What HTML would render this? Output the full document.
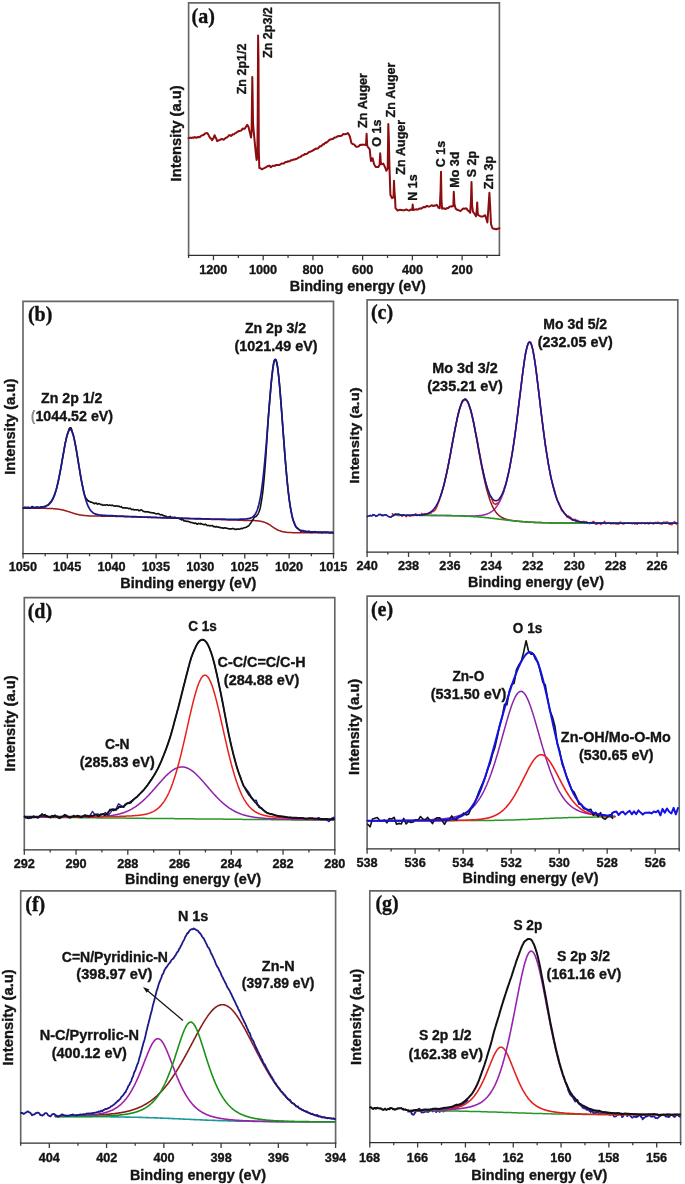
<!DOCTYPE html>
<html><head><meta charset="utf-8"><style>
html,body{margin:0;padding:0;background:#fff;}
svg{display:block;will-change:transform;}
text{font-kerning:none;stroke:#141414;stroke-width:0.35px;paint-order:stroke;}
</style></head><body>
<svg width="685" height="1184" viewBox="0 0 685 1184">
<rect width="685" height="1184" fill="#fff"/>
<path d="M188.60 255.30 V2.80 H499.40 V255.30" fill="none" stroke="#666" stroke-width="1.65" stroke-linejoin="miter"/>
<path d="M187.80 255.30 H500.20" fill="none" stroke="#2e2e2e" stroke-width="1.25"/>
<path d="M213.46 255.30 V260.20 M263.19 255.30 V260.20 M312.92 255.30 V260.20 M362.65 255.30 V260.20 M412.38 255.30 V260.20 M462.10 255.30 V260.20 M188.60 255.30 V257.90 M238.33 255.30 V257.90 M288.06 255.30 V257.90 M337.78 255.30 V257.90 M387.51 255.30 V257.90 M437.24 255.30 V257.90 M486.97 255.30 V257.90 " stroke="#3c3c3c" stroke-width="1.3" fill="none"/>
<text x="199.20" y="273.80" font-family="Liberation Sans" font-weight="bold" font-size="12.70" textLength="28.25" lengthAdjust="spacingAndGlyphs" fill="#141414" >1200</text>
<text x="248.93" y="273.80" font-family="Liberation Sans" font-weight="bold" font-size="12.70" textLength="28.25" lengthAdjust="spacingAndGlyphs" fill="#141414" >1000</text>
<text x="302.38" y="273.80" font-family="Liberation Sans" font-weight="bold" font-size="12.70" textLength="21.19" lengthAdjust="spacingAndGlyphs" fill="#141414" >800</text>
<text x="352.08" y="273.80" font-family="Liberation Sans" font-weight="bold" font-size="12.70" textLength="21.19" lengthAdjust="spacingAndGlyphs" fill="#141414" >600</text>
<text x="401.95" y="273.80" font-family="Liberation Sans" font-weight="bold" font-size="12.70" textLength="21.19" lengthAdjust="spacingAndGlyphs" fill="#141414" >400</text>
<text x="451.55" y="273.80" font-family="Liberation Sans" font-weight="bold" font-size="12.70" textLength="21.19" lengthAdjust="spacingAndGlyphs" fill="#141414" >200</text>
<text x="289.77" y="291.20" font-family="Liberation Sans" font-weight="bold" font-size="14.40" textLength="136.01" lengthAdjust="spacingAndGlyphs" fill="#141414" >Binding energy (eV)</text>
<text transform="translate(181.30,180.44) rotate(-90)" x="-0.99" y="0" font-family="Liberation Sans" font-weight="bold" font-size="14.80" textLength="96.21" lengthAdjust="spacingAndGlyphs" fill="#141414">Intensity (a.u)</text>
<text x="191.54" y="22.71" font-family="Liberation Serif" font-weight="bold" font-size="20.00" textLength="23.32" lengthAdjust="spacingAndGlyphs" fill="#111" >(a)</text>
<path d="M188.6 138.1L189.5 138.0L190.4 137.6L191.2 137.9L192.1 137.7L193.0 137.6L193.8 137.7L194.7 137.1L195.5 137.3L196.3 137.8L197.2 137.3L198.0 137.0L198.9 137.2L199.7 137.1L200.6 136.4L201.4 135.6L202.3 135.3L203.1 135.2L204.0 134.6L205.0 133.5L206.0 133.3L207.0 133.1L208.0 134.0L209.0 135.9L210.0 137.7L211.1 138.6L212.1 140.2L213.4 138.3L214.6 135.2L215.5 137.2L216.3 138.7L217.2 141.1L218.1 140.6L219.1 140.2L220.0 139.9L220.9 139.2L221.8 139.1L222.7 139.3L223.6 139.7L224.5 138.9L225.3 138.2L226.1 137.8L226.9 137.4L227.7 136.8L228.6 135.8L229.4 135.1L230.2 135.3L231.0 135.9L231.8 135.4L232.6 134.3L233.4 134.4L234.2 134.2L235.0 133.3L235.9 132.9L236.7 132.4L237.5 131.9L238.3 131.2L239.1 131.0L239.9 130.9L240.8 130.6L241.6 130.1L242.4 128.9L243.2 128.5L244.1 129.0L244.9 128.5L246.1 126.5L247.2 124.9L248.5 126.9L249.3 130.4L250.2 134.0L251.0 137.6L251.6 132.0L252.0 100.0L252.3 77.0L252.7 100.0L253.0 122.0L253.4 128.0L255.0 145.0L255.8 152.8L256.6 160.0L257.3 158.0L257.7 120.0L258.1 35.5L258.5 60.0L258.8 150.0L259.3 168.0L260.2 168.0L261.1 168.7L262.0 169.3L262.8 168.9L263.6 168.4L264.4 168.1L265.2 167.7L266.0 167.2L267.1 166.5L268.3 166.0L269.5 165.6L270.8 167.3L271.6 166.5L272.4 166.0L273.2 165.7L274.0 165.7L274.8 165.9L275.6 165.2L276.5 165.0L277.3 165.0L278.2 164.9L279.0 164.9L279.9 164.7L280.7 164.2L281.6 163.5L282.4 163.4L283.3 163.5L284.1 163.3L285.0 162.4L285.8 162.0L286.6 162.1L287.4 161.6L288.2 161.2L289.1 161.4L289.9 161.2L290.7 160.3L291.5 160.2L292.3 160.2L293.1 159.7L293.9 159.6L294.7 159.5L295.5 159.1L296.4 158.9L297.2 158.6L298.0 157.9L298.8 157.4L299.6 157.2L300.4 156.9L301.2 156.4L302.0 155.4L302.8 155.3L303.7 155.1L304.5 154.1L305.3 154.2L306.1 154.1L306.9 153.7L307.7 153.3L308.5 152.5L309.3 151.9L310.1 151.7L311.0 151.5L311.8 151.0L312.6 150.6L313.4 150.0L314.2 149.7L315.0 149.1L315.8 148.5L316.6 148.7L317.4 148.5L318.3 148.2L319.1 147.0L319.9 146.2L320.7 146.4L321.5 146.0L322.3 144.9L323.1 144.2L323.9 144.4L324.7 143.4L325.6 142.5L326.4 142.7L327.2 141.9L328.0 141.2L328.8 140.6L329.6 139.8L330.4 139.5L331.2 139.3L332.0 139.1L332.9 138.9L333.7 138.2L334.5 137.5L335.3 137.6L336.1 137.4L336.9 136.6L337.7 136.3L338.5 136.3L339.3 136.0L340.2 136.0L341.0 135.9L341.8 135.6L342.6 134.6L343.4 134.0L344.3 134.3L345.2 134.2L346.0 134.0L346.9 133.8L347.8 133.0L349.0 134.6L350.0 137.0L351.4 142.9L352.5 144.0L353.6 144.3L354.5 144.7L355.5 146.2L356.4 146.8L357.3 146.8L358.1 146.5L359.0 146.1L359.9 145.0L360.7 144.8L361.5 144.9L362.4 144.6L363.3 144.8L364.2 144.7L365.1 144.7L366.0 145.0L366.6 133.7L367.2 145.8L368.0 147.1L368.9 148.2L369.7 149.4L370.6 158.0L371.1 161.1L372.6 158.2L374.0 164.1L374.8 165.4L375.6 166.9L376.5 167.1L377.3 167.0L378.2 167.1L379.6 165.0L380.2 153.3L380.8 162.0L381.4 164.2L382.4 164.1L383.3 163.6L384.3 165.6L385.4 168.2L386.4 170.8L387.7 168.5L388.3 124.0L388.9 140.0L389.4 165.4L390.4 195.0L391.2 196.5L392.0 198.1L393.5 197.1L394.0 180.7L394.5 192.0L395.0 197.1L395.5 208.3L396.6 209.4L397.6 210.6L398.4 210.2L399.2 209.9L400.1 209.8L400.9 210.1L401.7 210.0L402.5 210.2L403.3 210.2L404.2 210.3L405.0 210.1L405.8 209.5L406.7 209.6L407.6 210.1L408.5 210.4L409.5 210.4L410.4 209.7L411.3 209.5L412.2 209.9L412.7 204.6L413.2 209.9L414.1 209.7L415.0 209.5L415.8 209.4L416.7 209.3L417.6 209.4L418.5 209.3L419.3 208.6L420.2 208.4L421.1 208.7L421.9 208.2L422.7 207.6L423.5 207.0L424.3 207.1L425.1 207.4L426.0 206.4L426.8 205.9L427.6 206.2L428.4 206.6L429.2 206.5L430.0 206.2L430.8 205.8L431.6 205.2L432.5 205.6L433.3 206.0L434.1 205.6L435.0 205.7L435.8 205.3L436.6 204.7L437.6 206.3L438.7 207.9L439.7 208.2L440.6 190.0L441.0 171.7L441.5 200.0L442.1 208.7L443.2 208.2L444.2 208.4L445.3 209.0L446.1 208.7L447.0 208.1L447.9 208.3L448.7 207.7L449.5 206.7L450.4 206.6L451.4 206.3L452.3 206.4L453.3 206.0L453.8 191.8L454.4 204.0L455.5 208.3L456.6 209.5L457.6 209.8L458.6 210.2L459.7 210.8L460.7 210.9L461.7 209.9L462.7 208.8L463.7 208.6L464.7 208.8L465.8 208.3L466.8 208.6L467.6 210.2L468.5 210.9L469.4 211.6L470.2 212.8L471.0 200.0L471.5 182.1L472.1 205.0L472.9 211.7L473.9 213.0L475.0 214.5L476.0 216.3L476.8 210.0L477.2 202.4L477.7 213.0L478.3 215.2L479.2 215.6L480.2 216.1L481.1 216.5L481.9 216.4L482.7 216.4L483.6 216.3L484.4 215.5L485.2 215.3L486.3 218.7L487.4 222.5L488.6 205.0L489.4 192.8L490.1 205.0L491.0 224.0L492.3 228.0L493.3 228.7L494.4 228.7L495.4 229.1L496.2 229.4L497.0 229.0L497.8 228.7L498.6 228.6L499.4 228.2" fill="none" stroke="#8c0c10" stroke-width="2.0" stroke-linejoin="round" stroke-linecap="round" />
<text transform="translate(245.50,93.92) rotate(-90)" x="-0.37" y="0" font-family="Liberation Sans" font-weight="bold" font-size="12.50" textLength="50.71" lengthAdjust="spacingAndGlyphs" fill="#141414">Zn 2p1/2</text>
<text transform="translate(272.20,57.52) rotate(-90)" x="-0.37" y="0" font-family="Liberation Sans" font-weight="bold" font-size="12.50" textLength="50.71" lengthAdjust="spacingAndGlyphs" fill="#141414">Zn 2p3/2</text>
<text transform="translate(366.50,127.60) rotate(-90)" x="-0.37" y="0" font-family="Liberation Sans" font-weight="bold" font-size="12.50" textLength="54.86" lengthAdjust="spacingAndGlyphs" fill="#141414">Zn Auger</text>
<text transform="translate(380.70,146.19) rotate(-90)" x="-0.51" y="0" font-family="Liberation Sans" font-weight="bold" font-size="12.50" textLength="27.10" lengthAdjust="spacingAndGlyphs" fill="#141414">O 1s</text>
<text transform="translate(394.50,117.10) rotate(-90)" x="-0.37" y="0" font-family="Liberation Sans" font-weight="bold" font-size="12.50" textLength="54.86" lengthAdjust="spacingAndGlyphs" fill="#141414">Zn Auger</text>
<text transform="translate(405.00,174.40) rotate(-90)" x="-0.37" y="0" font-family="Liberation Sans" font-weight="bold" font-size="12.50" textLength="54.86" lengthAdjust="spacingAndGlyphs" fill="#141414">Zn Auger</text>
<text transform="translate(417.20,199.88) rotate(-90)" x="-0.84" y="0" font-family="Liberation Sans" font-weight="bold" font-size="12.50" textLength="26.40" lengthAdjust="spacingAndGlyphs" fill="#141414">N 1s</text>
<text transform="translate(444.70,166.69) rotate(-90)" x="-0.51" y="0" font-family="Liberation Sans" font-weight="bold" font-size="12.50" textLength="26.40" lengthAdjust="spacingAndGlyphs" fill="#141414">C 1s</text>
<text transform="translate(459.40,186.82) rotate(-90)" x="-0.84" y="0" font-family="Liberation Sans" font-weight="bold" font-size="12.50" textLength="36.11" lengthAdjust="spacingAndGlyphs" fill="#141414">Mo 3d</text>
<text transform="translate(475.60,177.01) rotate(-90)" x="-0.36" y="0" font-family="Liberation Sans" font-weight="bold" font-size="12.50" textLength="26.40" lengthAdjust="spacingAndGlyphs" fill="#141414">S 2p</text>
<text transform="translate(492.50,188.87) rotate(-90)" x="-0.37" y="0" font-family="Liberation Sans" font-weight="bold" font-size="12.50" textLength="33.33" lengthAdjust="spacingAndGlyphs" fill="#141414">Zn 3p</text>
<path d="M23.00 553.70 V301.30 H333.50 V553.70" fill="none" stroke="#666" stroke-width="1.65" stroke-linejoin="miter"/>
<path d="M22.20 553.70 H334.30" fill="none" stroke="#2e2e2e" stroke-width="1.25"/>
<path d="M23.00 553.70 V558.60 M67.36 553.70 V558.60 M111.71 553.70 V558.60 M156.07 553.70 V558.60 M200.43 553.70 V558.60 M244.79 553.70 V558.60 M289.14 553.70 V558.60 M333.50 553.70 V558.60 M45.18 553.70 V556.30 M89.54 553.70 V556.30 M133.89 553.70 V556.30 M178.25 553.70 V556.30 M222.61 553.70 V556.30 M266.96 553.70 V556.30 M311.32 553.70 V556.30 " stroke="#3c3c3c" stroke-width="1.3" fill="none"/>
<text x="8.73" y="571.40" font-family="Liberation Sans" font-weight="bold" font-size="12.70" textLength="28.25" lengthAdjust="spacingAndGlyphs" fill="#141414" >1050</text>
<text x="53.01" y="571.40" font-family="Liberation Sans" font-weight="bold" font-size="12.70" textLength="28.25" lengthAdjust="spacingAndGlyphs" fill="#141414" >1045</text>
<text x="97.45" y="571.40" font-family="Liberation Sans" font-weight="bold" font-size="12.70" textLength="28.25" lengthAdjust="spacingAndGlyphs" fill="#141414" >1040</text>
<text x="141.72" y="571.40" font-family="Liberation Sans" font-weight="bold" font-size="12.70" textLength="28.25" lengthAdjust="spacingAndGlyphs" fill="#141414" >1035</text>
<text x="186.16" y="571.40" font-family="Liberation Sans" font-weight="bold" font-size="12.70" textLength="28.25" lengthAdjust="spacingAndGlyphs" fill="#141414" >1030</text>
<text x="230.44" y="571.40" font-family="Liberation Sans" font-weight="bold" font-size="12.70" textLength="28.25" lengthAdjust="spacingAndGlyphs" fill="#141414" >1025</text>
<text x="274.88" y="571.40" font-family="Liberation Sans" font-weight="bold" font-size="12.70" textLength="28.25" lengthAdjust="spacingAndGlyphs" fill="#141414" >1020</text>
<text x="319.15" y="571.40" font-family="Liberation Sans" font-weight="bold" font-size="12.70" textLength="28.25" lengthAdjust="spacingAndGlyphs" fill="#141414" >1015</text>
<text x="120.37" y="588.20" font-family="Liberation Sans" font-weight="bold" font-size="14.40" textLength="136.01" lengthAdjust="spacingAndGlyphs" fill="#141414" >Binding energy (eV)</text>
<text transform="translate(15.10,473.84) rotate(-90)" x="-0.99" y="0" font-family="Liberation Sans" font-weight="bold" font-size="14.80" textLength="96.21" lengthAdjust="spacingAndGlyphs" fill="#141414">Intensity (a.u)</text>
<text x="27.93" y="321.06" font-family="Liberation Serif" font-weight="bold" font-size="20.00" textLength="24.44" lengthAdjust="spacingAndGlyphs" fill="#111" >(b)</text>
<path d="M23.3 508.2L23.8 508.2L24.3 508.2L24.8 508.2L25.3 508.2L25.8 508.2L26.3 508.2L26.8 508.2L27.3 508.2L27.8 508.2L28.3 508.2L28.8 508.2L29.3 508.2L29.8 508.2L30.3 508.2L30.8 508.2L31.3 508.2L31.8 508.2L32.3 508.2L32.8 508.2L33.3 508.2L33.8 508.2L34.3 508.2L34.8 508.2L35.3 508.2L35.8 508.2L36.3 508.2L36.8 508.2L37.3 508.2L37.8 508.2L38.3 508.2L38.8 508.2L39.3 508.2L39.8 508.3L40.3 508.3L40.8 508.3L41.3 508.3L41.8 508.3L42.3 508.3L42.8 508.3L43.3 508.3L43.8 508.3L44.3 508.3L44.8 508.3L45.3 508.3L45.8 508.3L46.3 508.3L46.8 508.4L47.3 508.4L47.8 508.4L48.3 508.4L48.8 508.4L49.3 508.4L49.8 508.5L50.3 508.5L50.8 508.5L51.3 508.5L51.8 508.6L52.3 508.6L52.8 508.6L53.3 508.7L53.8 508.7L54.3 508.7L54.8 508.8L55.3 508.8L55.8 508.9L56.3 508.9L56.8 509.0L57.3 509.0L57.8 509.1L58.3 509.2L58.8 509.2L59.3 509.3L59.8 509.4L60.3 509.5L60.8 509.6L61.3 509.7L61.8 509.8L62.3 509.9L62.8 510.0L63.3 510.1L63.8 510.2L64.3 510.4L64.8 510.5L65.3 510.7L65.8 510.8L66.3 510.9L66.8 511.1L67.3 511.3L67.8 511.4L68.3 511.6L68.8 511.7L69.3 511.9L69.8 512.1L70.3 512.2L70.8 512.4L71.3 512.6L71.8 512.7L72.3 512.9L72.8 513.1L73.3 513.2L73.8 513.4L74.3 513.5L74.8 513.7L75.3 513.8L75.8 513.9L76.3 514.1L76.8 514.2L77.3 514.3L77.8 514.4L78.3 514.6L78.8 514.7L79.3 514.8L79.8 514.9L80.3 514.9L80.8 515.0L81.3 515.1L81.8 515.2L82.3 515.3L82.8 515.3L83.3 515.4L83.8 515.4L84.3 515.5L84.8 515.6L85.3 515.6L85.8 515.6L86.3 515.7L86.8 515.7L87.3 515.8L87.8 515.8L88.3 515.8L88.8 515.9L89.3 515.9L89.8 515.9L90.3 515.9L90.8 515.9L91.3 516.0L91.8 516.0L92.3 516.0L92.8 516.0L93.3 516.0L93.8 516.0L94.3 516.1L94.8 516.1L95.3 516.1L95.8 516.1L96.3 516.1L96.8 516.1L97.3 516.1L97.8 516.1L98.3 516.1L98.8 516.1L99.3 516.1L99.8 516.1L100.3 516.1L100.8 516.2L101.3 516.2L101.8 516.2L102.3 516.2L102.8 516.2L103.3 516.2L103.8 516.2L104.3 516.2L104.8 516.2L105.3 516.2L105.8 516.2L106.3 516.2L106.8 516.2L107.3 516.2L107.8 516.2L108.3 516.2L108.8 516.2L109.3 516.2L109.8 516.2L110.3 516.2L110.8 516.2L111.3 516.2L111.8 516.2L112.3 516.3L112.8 516.3L113.3 516.3L113.8 516.3L114.3 516.3L114.8 516.3L115.3 516.4L115.8 516.4L116.3 516.4L116.8 516.4L117.3 516.4L117.8 516.4L118.3 516.5L118.8 516.5L119.3 516.5L119.8 516.5L120.3 516.5L120.8 516.5L121.3 516.5L121.8 516.6L122.3 516.6L122.8 516.6L123.3 516.6L123.8 516.6L124.3 516.6L124.8 516.7L125.3 516.7L125.8 516.7L126.3 516.7L126.8 516.7L127.3 516.7L127.8 516.8L128.3 516.8L128.8 516.8L129.3 516.8L129.8 516.8L130.3 516.8L130.8 516.8L131.3 516.9L131.8 516.9L132.3 516.9L132.8 516.9L133.3 516.9L133.8 516.9L134.3 517.0L134.8 517.0L135.3 517.0L135.8 517.0L136.3 517.0L136.8 517.0L137.3 517.0L137.8 517.1L138.3 517.1L138.8 517.1L139.3 517.1L139.8 517.1L140.3 517.1L140.8 517.2L141.3 517.2L141.8 517.2L142.3 517.2L142.8 517.2L143.3 517.2L143.8 517.3L144.3 517.3L144.8 517.3L145.3 517.3L145.8 517.3L146.3 517.3L146.8 517.3L147.3 517.4L147.8 517.4L148.3 517.4L148.8 517.4L149.3 517.4L149.8 517.4L150.3 517.5L150.8 517.5L151.3 517.5L151.8 517.5L152.3 517.5L152.8 517.5L153.3 517.5L153.8 517.6L154.3 517.6L154.8 517.6L155.3 517.6L155.8 517.6L156.3 517.6L156.8 517.7L157.3 517.7L157.8 517.7L158.3 517.7L158.8 517.7L159.3 517.7L159.8 517.7L160.3 517.8L160.8 517.8L161.3 517.8L161.8 517.8L162.3 517.8L162.8 517.8L163.3 517.9L163.8 517.9L164.3 517.9L164.8 517.9L165.3 517.9L165.8 517.9L166.3 518.0L166.8 518.0L167.3 518.0L167.8 518.0L168.3 518.0L168.8 518.0L169.3 518.0L169.8 518.1L170.3 518.1L170.8 518.1L171.3 518.1L171.8 518.1L172.3 518.1L172.8 518.2L173.3 518.2L173.8 518.2L174.3 518.2L174.8 518.2L175.3 518.2L175.8 518.2L176.3 518.3L176.8 518.3L177.3 518.3L177.8 518.3L178.3 518.3L178.8 518.3L179.3 518.4L179.8 518.4L180.3 518.4L180.8 518.4L181.3 518.4L181.8 518.4L182.3 518.4L182.8 518.5L183.3 518.5L183.8 518.5L184.3 518.5L184.8 518.5L185.3 518.5L185.8 518.6L186.3 518.6L186.8 518.6L187.3 518.6L187.8 518.6L188.3 518.6L188.8 518.7L189.3 518.7L189.8 518.7L190.3 518.7L190.8 518.7L191.3 518.7L191.8 518.7L192.3 518.8L192.8 518.8L193.3 518.8L193.8 518.8L194.3 518.8L194.8 518.8L195.3 518.9L195.8 518.9L196.3 518.9L196.8 518.9L197.3 518.9L197.8 518.9L198.3 518.9L198.8 519.0L199.3 519.0L199.8 519.0L200.3 519.0L200.8 519.0L201.3 519.0L201.8 519.1L202.3 519.1L202.8 519.1L203.3 519.1L203.8 519.1L204.3 519.1L204.8 519.1L205.3 519.2L205.8 519.2L206.3 519.2L206.8 519.2L207.3 519.2L207.8 519.2L208.3 519.3L208.8 519.3L209.3 519.3L209.8 519.3L210.3 519.3L210.8 519.3L211.3 519.4L211.8 519.4L212.3 519.4L212.8 519.4L213.3 519.4L213.8 519.4L214.3 519.4L214.8 519.5L215.3 519.5L215.8 519.5L216.3 519.5L216.8 519.5L217.3 519.5L217.8 519.6L218.3 519.6L218.8 519.6L219.3 519.6L219.8 519.6L220.3 519.6L220.8 519.6L221.3 519.7L221.8 519.7L222.3 519.7L222.8 519.7L223.3 519.7L223.8 519.7L224.3 519.8L224.8 519.8L225.3 519.8L225.8 519.8L226.3 519.8L226.8 519.8L227.3 519.8L227.8 519.9L228.3 519.9L228.8 519.9L229.3 519.9L229.8 519.9L230.3 519.9L230.8 520.0L231.3 520.0L231.8 520.0L232.3 520.0L232.8 520.0L233.3 520.0L233.8 520.1L234.3 520.1L234.8 520.1L235.3 520.1L235.8 520.1L236.3 520.1L236.8 520.1L237.3 520.2L237.8 520.2L238.3 520.2L238.8 520.2L239.3 520.2L239.8 520.2L240.3 520.3L240.8 520.3L241.3 520.3L241.8 520.3L242.3 520.3L242.8 520.3L243.3 520.4L243.8 520.4L244.3 520.4L244.8 520.4L245.3 520.4L245.8 520.4L246.3 520.4L246.8 520.4L247.3 520.4L247.8 520.5L248.3 520.5L248.8 520.5L249.3 520.5L249.8 520.5L250.3 520.5L250.8 520.5L251.3 520.5L251.8 520.5L252.3 520.5L252.8 520.6L253.3 520.6L253.8 520.6L254.3 520.6L254.8 520.6L255.3 520.7L255.8 520.7L256.3 520.7L256.8 520.8L257.3 520.8L257.8 520.9L258.3 520.9L258.8 521.0L259.3 521.1L259.8 521.1L260.3 521.2L260.8 521.3L261.3 521.4L261.8 521.5L262.3 521.6L262.8 521.7L263.3 521.9L263.8 522.0L264.3 522.2L264.8 522.4L265.3 522.6L265.8 522.8L266.3 523.0L266.8 523.2L267.3 523.5L267.8 523.7L268.3 524.0L268.8 524.3L269.3 524.6L269.8 524.9L270.3 525.2L270.8 525.6L271.3 525.9L271.8 526.3L272.3 526.6L272.8 526.9L273.3 527.3L273.8 527.6L274.3 528.0L274.8 528.3L275.3 528.6L275.8 528.9L276.3 529.2L276.8 529.5L277.3 529.7L277.8 530.0L278.3 530.2L278.8 530.4L279.3 530.6L279.8 530.8L280.3 531.0L280.8 531.2L281.3 531.3L281.8 531.5L282.3 531.6L282.8 531.7L283.3 531.8L283.8 531.9L284.3 532.0L284.8 532.1L285.3 532.1L285.8 532.2L286.3 532.3L286.8 532.3L287.3 532.4L287.8 532.4L288.3 532.5L288.8 532.5L289.3 532.5L289.8 532.6L290.3 532.6L290.8 532.6L291.3 532.6L291.8 532.6L292.3 532.7L292.8 532.7L293.3 532.7L293.8 532.7L294.3 532.7L294.8 532.7L295.3 532.7L295.8 532.7L296.3 532.7L296.8 532.7L297.3 532.8L297.8 532.8L298.3 532.8L298.8 532.8L299.3 532.8L299.8 532.8L300.3 532.8L300.8 532.8L301.3 532.8L301.8 532.8L302.3 532.8L302.8 532.8L303.3 532.8L303.8 532.8L304.3 532.8L304.8 532.8L305.3 532.8L305.8 532.8L306.3 532.8L306.8 532.8L307.3 532.8L307.8 532.8L308.3 532.8L308.8 532.8L309.3 532.8L309.8 532.8L310.3 532.8L310.8 532.8L311.3 532.8L311.8 532.8L312.3 532.8L312.8 532.8L313.3 532.8L313.8 532.8L314.3 532.8L314.8 532.8L315.3 532.8L315.8 532.8L316.3 532.8L316.8 532.8L317.3 532.8L317.8 532.8L318.3 532.8L318.8 532.8L319.3 532.8L319.8 532.8L320.3 532.8L320.8 532.8L321.3 532.8L321.8 532.8L322.3 532.8L322.8 532.8L323.3 532.8L323.8 532.8L324.3 532.8L324.8 532.8L325.3 532.8L325.8 532.8L326.3 532.8L326.8 532.8L327.3 532.8L327.8 532.8L328.3 532.8L328.8 532.8L329.3 532.8L329.8 532.8L330.3 532.8L330.8 532.8L331.3 532.8L331.8 532.8L332.3 532.8L332.8 532.8" fill="none" stroke="#9a1a1a" stroke-width="1.5" stroke-linejoin="round" stroke-linecap="round" />
<path d="M23.3 507.9L23.8 507.8L24.3 507.4L24.8 507.4L25.3 507.2L25.8 507.6L26.3 507.8L26.8 508.1L27.3 507.8L27.8 507.2L28.3 507.4L28.8 507.6L29.3 508.0L29.8 507.9L30.3 507.9L30.8 507.7L31.3 507.4L31.8 506.8L32.3 506.6L32.8 506.7L33.3 507.2L33.8 507.6L34.3 507.5L34.8 507.6L35.3 507.6L35.8 507.5L36.3 507.4L36.8 506.9L37.3 507.2L37.8 507.3L38.3 507.6L38.8 507.7L39.3 507.9L39.8 507.7L40.3 507.5L40.8 507.0L41.3 507.1L41.8 506.9L42.3 506.8L42.8 506.9L43.3 506.7L43.8 507.0L44.3 506.5L44.8 506.7L45.3 506.7L45.8 506.4L46.3 505.8L46.8 505.3L47.3 505.3L47.8 505.3L48.3 504.8L48.8 504.4L49.3 503.5L49.8 503.0L50.3 502.1L50.8 502.0L51.3 501.3L51.8 500.6L52.3 499.6L52.8 498.5L53.3 497.7L53.8 496.4L54.3 495.4L54.8 493.8L55.3 492.6L55.8 491.0L56.3 489.5L56.8 487.5L57.3 485.4L57.8 483.3L58.3 481.0L58.8 478.8L59.3 476.2L59.8 473.5L60.3 470.9L60.8 468.7L61.3 465.8L61.8 462.9L62.3 459.6L62.8 457.0L63.3 454.2L63.8 451.6L64.3 448.2L64.8 445.4L65.3 442.5L65.8 440.6L66.3 438.3L66.8 436.3L67.3 434.6L67.8 433.4L68.3 431.5L68.8 429.9L69.3 428.4L69.8 428.0L70.3 427.7L70.8 427.8L71.3 428.5L71.8 430.0L72.3 432.0L72.8 433.8L73.3 435.3L73.8 437.1L74.3 439.3L74.8 441.9L75.3 444.5L75.8 447.1L76.3 449.9L76.8 452.6L77.3 455.8L77.8 459.1L78.3 462.2L78.8 465.2L79.3 467.8L79.8 471.3L80.3 474.3L80.8 477.3L81.3 480.1L81.8 482.6L82.3 485.1L82.8 487.3L83.3 489.7L83.8 492.0L84.3 494.2L84.8 495.6L85.3 496.8L85.8 498.0L86.3 498.9L86.8 499.2L87.3 499.8L87.8 500.6L88.3 501.2L88.8 501.1L89.3 501.2L89.8 501.8L90.3 501.9L90.8 502.2L91.3 502.0L91.8 502.4L92.3 502.6L92.8 502.6L93.3 503.0L93.8 503.3L94.3 503.7L94.8 503.6L95.3 503.2L95.8 503.0L96.3 503.0L96.8 503.7L97.3 503.9L97.8 504.2L98.3 503.7L98.8 503.6L99.3 503.8L99.8 503.9L100.3 504.5L100.8 504.5L101.3 504.6L101.8 504.4L102.3 504.9L102.8 505.3L103.3 505.2L103.8 505.0L104.3 504.9L104.8 505.1L105.3 505.2L105.8 505.0L106.3 504.7L106.8 504.7L107.3 504.7L107.8 505.3L108.3 505.3L108.8 505.4L109.3 505.1L109.8 505.1L110.3 505.3L110.8 505.5L111.3 505.4L111.8 505.2L112.3 505.1L112.8 505.4L113.3 505.8L113.8 505.9L114.3 506.0L114.8 506.2L115.3 506.0L115.8 506.1L116.3 505.9L116.8 505.9L117.3 506.1L117.8 506.4L118.3 506.4L118.8 506.1L119.3 506.2L119.8 506.8L120.3 507.0L120.8 507.0L121.3 506.6L121.8 507.2L122.3 507.4L122.8 508.0L123.3 507.7L123.8 507.9L124.3 507.9L124.8 507.8L125.3 507.9L125.8 507.9L126.3 508.2L126.8 508.1L127.3 508.0L127.8 508.0L128.3 508.5L128.8 508.7L129.3 508.5L129.8 508.4L130.3 508.3L130.8 508.9L131.3 509.2L131.8 509.6L132.3 509.4L132.8 509.2L133.3 509.3L133.8 509.7L134.3 510.0L134.8 509.8L135.3 509.8L135.8 509.7L136.3 510.0L136.8 509.7L137.3 509.7L137.8 509.8L138.3 510.1L138.8 510.7L139.3 510.6L139.8 510.7L140.3 510.2L140.8 510.0L141.3 509.8L141.8 510.1L142.3 510.4L142.8 511.0L143.3 511.3L143.8 511.5L144.3 511.7L144.8 511.6L145.3 511.9L145.8 511.7L146.3 511.9L146.8 511.6L147.3 511.9L147.8 511.7L148.3 512.0L148.8 512.1L149.3 512.3L149.8 512.4L150.3 512.5L150.8 512.7L151.3 512.6L151.8 512.7L152.3 512.7L152.8 512.9L153.3 513.0L153.8 512.8L154.3 513.3L154.8 513.3L155.3 513.6L155.8 513.7L156.3 513.8L156.8 514.0L157.3 513.7L157.8 513.8L158.3 513.5L158.8 513.8L159.3 514.2L159.8 514.6L160.3 514.9L160.8 514.7L161.3 514.6L161.8 514.5L162.3 514.9L162.8 515.3L163.3 515.5L163.8 515.7L164.3 515.8L164.8 515.9L165.3 516.2L165.8 516.3L166.3 516.4L166.8 516.7L167.3 516.9L167.8 517.1L168.3 516.9L168.8 517.3L169.3 516.9L169.8 516.9L170.3 516.4L170.8 517.2L171.3 517.6L171.8 517.8L172.3 517.3L172.8 517.4L173.3 517.5L173.8 517.7L174.3 517.4L174.8 517.2L175.3 517.4L175.8 517.8L176.3 518.1L176.8 518.1L177.3 517.9L177.8 518.0L178.3 518.0L178.8 518.4L179.3 518.7L179.8 519.0L180.3 519.0L180.8 519.3L181.3 519.7L181.8 520.0L182.3 519.5L182.8 519.6L183.3 520.0L183.8 521.0L184.3 521.0L184.8 520.9L185.3 520.8L185.8 521.2L186.3 521.2L186.8 521.4L187.3 521.2L187.8 521.5L188.3 521.4L188.8 521.7L189.3 521.7L189.8 522.0L190.3 522.2L190.8 522.6L191.3 522.4L191.8 522.6L192.3 522.5L192.8 522.9L193.3 523.1L193.8 523.1L194.3 523.5L194.8 523.2L195.3 523.1L195.8 523.1L196.3 523.7L196.8 524.1L197.3 524.1L197.8 523.7L198.3 523.5L198.8 523.4L199.3 523.8L199.8 523.8L200.3 523.9L200.8 523.3L201.3 523.8L201.8 524.1L202.3 524.3L202.8 524.3L203.3 524.5L203.8 524.8L204.3 524.7L204.8 524.4L205.3 524.1L205.8 524.6L206.3 524.7L206.8 525.4L207.3 525.5L207.8 525.6L208.3 525.4L208.8 525.5L209.3 525.7L209.8 525.9L210.3 525.6L210.8 525.8L211.3 525.7L211.8 525.7L212.3 525.5L212.8 525.8L213.3 526.7L213.8 526.8L214.3 526.6L214.8 526.6L215.3 526.8L215.8 527.1L216.3 526.6L216.8 526.5L217.3 526.9L217.8 527.1L218.3 527.3L218.8 527.0L219.3 527.4L219.8 527.5L220.3 527.8L220.8 527.6L221.3 527.9L221.8 527.7L222.3 527.8L222.8 528.1L223.3 528.4L223.8 528.1L224.3 527.7L224.8 527.8L225.3 528.0L225.8 528.3L226.3 528.3L226.8 528.1L227.3 528.4L227.8 528.5L228.3 528.8L228.8 528.7L229.3 528.9L229.8 529.0L230.3 528.8L230.8 528.9L231.3 528.9L231.8 529.0L232.3 528.5L232.8 528.6L233.3 528.6L233.8 528.8L234.3 528.9L234.8 529.2L235.3 529.5L235.8 529.4L236.3 529.4L236.8 529.1L237.3 528.9L237.8 529.1L238.3 529.1L238.8 529.1L239.3 529.1L239.8 529.0L240.3 529.0L240.8 528.5L241.3 528.4L241.8 528.5L242.3 528.7L242.8 528.4L243.3 528.1L243.8 527.9L244.3 527.8L244.8 527.8L245.3 527.6L245.8 527.3L246.3 527.2L246.8 527.0L247.3 526.6L247.8 526.3L248.3 526.0L248.8 525.8L249.3 525.1L249.8 524.4L250.3 523.5L250.8 523.1L251.3 522.0L251.8 521.4L252.3 520.4L252.8 520.0L253.3 519.1L253.8 518.0L254.3 517.2L254.8 516.8L255.3 516.7L255.8 516.6L256.3 516.2L256.8 515.6L257.3 514.9L257.8 514.5L258.3 513.5L258.8 512.3L259.3 511.0L259.8 509.6L260.3 507.5L260.8 504.9L261.3 502.0L261.8 498.9L262.3 495.5L262.8 492.0L263.3 487.1L263.8 481.9L264.3 476.4L264.8 470.6L265.3 463.9L265.8 456.9L266.3 449.5L266.8 441.8L267.3 433.5L267.8 425.0L268.3 417.9L268.8 411.4L269.3 405.6L269.8 399.7L270.3 393.9L270.8 387.9L271.3 382.3L271.8 377.3L272.3 373.1L272.8 368.8L273.3 365.3L273.8 362.1L274.3 360.6L274.8 359.6L275.3 359.5L275.8 359.6L276.3 360.7L276.8 362.6L277.3 365.3L277.8 368.6L278.3 373.0L278.8 377.7L279.3 382.8L279.8 388.0L280.3 394.1L280.8 400.6L281.3 407.2L281.8 413.8L282.3 420.8L282.8 427.4L283.3 434.0L283.8 440.1L284.3 447.1L284.8 453.6L285.3 460.0L285.8 465.8L286.3 471.8L286.8 477.3L287.3 482.5L287.8 487.5L288.3 491.8L288.8 495.9L289.3 500.0L289.8 503.7L290.3 507.0L290.8 509.4L291.3 512.0L291.8 514.7L292.3 517.1L292.8 519.1L293.3 520.6L293.8 521.7L294.3 522.9L294.8 524.4L295.3 525.9L295.8 526.7L296.3 527.3L296.8 527.7L297.3 528.3L297.8 528.4L298.3 528.8L298.8 529.2L299.3 529.7L299.8 530.2L300.3 530.7L300.8 531.2L301.3 531.1L301.8 530.8L302.3 530.6L302.8 530.6L303.3 530.8L303.8 531.1L304.3 531.4L304.8 531.5L305.3 531.5L305.8 531.5L306.3 531.3L306.8 531.7L307.3 531.9L307.8 531.9L308.3 531.5L308.8 531.2L309.3 531.4L309.8 531.9L310.3 532.2L310.8 532.4L311.3 532.4L311.8 532.4L312.3 532.4L312.8 532.3L313.3 532.1L313.8 531.7L314.3 531.6L314.8 532.0L315.3 532.2L315.8 532.1L316.3 532.0L316.8 532.1L317.3 532.2L317.8 532.3L318.3 532.4L318.8 532.7L319.3 532.3L319.8 532.3L320.3 532.2L320.8 532.5L321.3 532.6L321.8 532.8L322.3 532.7L322.8 532.6L323.3 532.2L323.8 532.3L324.3 532.3L324.8 532.4L325.3 532.2L325.8 532.1L326.3 531.9L326.8 532.1L327.3 532.2L327.8 532.3L328.3 532.2L328.8 532.4L329.3 532.7L329.8 532.9L330.3 532.7L330.8 532.5L331.3 532.2L331.8 532.4L332.3 532.9L332.8 532.9" fill="none" stroke="#111111" stroke-width="1.6" stroke-linejoin="round" stroke-linecap="round" />
<path d="M23.3 507.8L23.8 507.8L24.3 507.8L24.8 507.8L25.3 507.7L25.8 507.7L26.3 507.7L26.8 507.7L27.3 507.7L27.8 507.7L28.3 507.7L28.8 507.7L29.3 507.7L29.8 507.7L30.3 507.6L30.8 507.6L31.3 507.6L31.8 507.6L32.3 507.6L32.8 507.6L33.3 507.6L33.8 507.5L34.3 507.5L34.8 507.5L35.3 507.5L35.8 507.5L36.3 507.5L36.8 507.4L37.3 507.4L37.8 507.4L38.3 507.4L38.8 507.3L39.3 507.3L39.8 507.3L40.3 507.2L40.8 507.2L41.3 507.1L41.8 507.1L42.3 507.0L42.8 506.9L43.3 506.8L43.8 506.7L44.3 506.6L44.8 506.5L45.3 506.3L45.8 506.2L46.3 506.0L46.8 505.7L47.3 505.5L47.8 505.2L48.3 504.9L48.8 504.5L49.3 504.0L49.8 503.5L50.3 503.0L50.8 502.4L51.3 501.7L51.8 500.9L52.3 500.0L52.8 499.1L53.3 498.0L53.8 496.8L54.3 495.6L54.8 494.2L55.3 492.6L55.8 491.0L56.3 489.3L56.8 487.4L57.3 485.4L57.8 483.2L58.3 481.0L58.8 478.6L59.3 476.2L59.8 473.6L60.3 470.9L60.8 468.2L61.3 465.4L61.8 462.6L62.3 459.7L62.8 456.9L63.3 454.0L63.8 451.2L64.3 448.5L64.8 445.8L65.3 443.3L65.8 440.9L66.3 438.6L66.8 436.6L67.3 434.8L67.8 433.2L68.3 431.9L68.8 430.8L69.3 430.1L69.8 429.6L70.3 429.5L70.8 429.7L71.3 430.2L71.8 431.1L72.3 432.2L72.8 433.6L73.3 435.3L73.8 437.3L74.3 439.4L74.8 441.8L75.3 444.4L75.8 447.1L76.3 449.9L76.8 452.9L77.3 455.9L77.8 458.9L78.3 462.0L78.8 465.1L79.3 468.1L79.8 471.2L80.3 474.1L80.8 477.0L81.3 479.8L81.8 482.5L82.3 485.1L82.8 487.6L83.3 490.0L83.8 492.2L84.3 494.3L84.8 496.3L85.3 498.1L85.8 499.8L86.3 501.4L86.8 502.8L87.3 504.1L87.8 505.4L88.3 506.5L88.8 507.5L89.3 508.4L89.8 509.2L90.3 509.9L90.8 510.6L91.3 511.2L91.8 511.7L92.3 512.1L92.8 512.5L93.3 512.9L93.8 513.2L94.3 513.5L94.8 513.7L95.3 513.9L95.8 514.1L96.3 514.3L96.8 514.4L97.3 514.6L97.8 514.7L98.3 514.8L98.8 514.8L99.3 514.9L99.8 515.0L100.3 515.0L100.8 515.1L101.3 515.1L101.8 515.2L102.3 515.2L102.8 515.3L103.3 515.3L103.8 515.3L104.3 515.4L104.8 515.4L105.3 515.4L105.8 515.4L106.3 515.5L106.8 515.5L107.3 515.5L107.8 515.5L108.3 515.5L108.8 515.5L109.3 515.6L109.8 515.6L110.3 515.6L110.8 515.6L111.3 515.7L111.8 515.7L112.3 515.7L112.8 515.7L113.3 515.8L113.8 515.8L114.3 515.8L114.8 515.8L115.3 515.9L115.8 515.9L116.3 515.9L116.8 515.9L117.3 516.0L117.8 516.0L118.3 516.0L118.8 516.0L119.3 516.1L119.8 516.1L120.3 516.1L120.8 516.1L121.3 516.1L121.8 516.2L122.3 516.2L122.8 516.2L123.3 516.2L123.8 516.3L124.3 516.3L124.8 516.3L125.3 516.3L125.8 516.3L126.3 516.4L126.8 516.4L127.3 516.4L127.8 516.4L128.3 516.4L128.8 516.5L129.3 516.5L129.8 516.5L130.3 516.5L130.8 516.5L131.3 516.6L131.8 516.6L132.3 516.6L132.8 516.6L133.3 516.6L133.8 516.6L134.3 516.7L134.8 516.7L135.3 516.7L135.8 516.7L136.3 516.7L136.8 516.8L137.3 516.8L137.8 516.8L138.3 516.8L138.8 516.8L139.3 516.8L139.8 516.9L140.3 516.9L140.8 516.9L141.3 516.9L141.8 516.9L142.3 517.0L142.8 517.0L143.3 517.0L143.8 517.0L144.3 517.0L144.8 517.0L145.3 517.1L145.8 517.1L146.3 517.1L146.8 517.1L147.3 517.1L147.8 517.1L148.3 517.2L148.8 517.2L149.3 517.2L149.8 517.2L150.3 517.2L150.8 517.2L151.3 517.3L151.8 517.3L152.3 517.3L152.8 517.3L153.3 517.3L153.8 517.3L154.3 517.4L154.8 517.4L155.3 517.4L155.8 517.4L156.3 517.4L156.8 517.4L157.3 517.5L157.8 517.5L158.3 517.5L158.8 517.5L159.3 517.5L159.8 517.5L160.3 517.6L160.8 517.6L161.3 517.6L161.8 517.6L162.3 517.6L162.8 517.6L163.3 517.6L163.8 517.7L164.3 517.7L164.8 517.7L165.3 517.7L165.8 517.7L166.3 517.7L166.8 517.8L167.3 517.8L167.8 517.8L168.3 517.8L168.8 517.8L169.3 517.8L169.8 517.9L170.3 517.9L170.8 517.9L171.3 517.9L171.8 517.9L172.3 517.9L172.8 517.9L173.3 518.0L173.8 518.0L174.3 518.0L174.8 518.0L175.3 518.0L175.8 518.0L176.3 518.0L176.8 518.1L177.3 518.1L177.8 518.1L178.3 518.1L178.8 518.1L179.3 518.1L179.8 518.2L180.3 518.2L180.8 518.2L181.3 518.2L181.8 518.2L182.3 518.2L182.8 518.2L183.3 518.3L183.8 518.3L184.3 518.3L184.8 518.3L185.3 518.3L185.8 518.3L186.3 518.3L186.8 518.4L187.3 518.4L187.8 518.4L188.3 518.4L188.8 518.4L189.3 518.4L189.8 518.4L190.3 518.5L190.8 518.5L191.3 518.5L191.8 518.5L192.3 518.5L192.8 518.5L193.3 518.5L193.8 518.6L194.3 518.6L194.8 518.6L195.3 518.6L195.8 518.6L196.3 518.6L196.8 518.6L197.3 518.6L197.8 518.7L198.3 518.7L198.8 518.7L199.3 518.7L199.8 518.7L200.3 518.7L200.8 518.7L201.3 518.8L201.8 518.8L202.3 518.8L202.8 518.8L203.3 518.8L203.8 518.8L204.3 518.8L204.8 518.8L205.3 518.9L205.8 518.9L206.3 518.9L206.8 518.9L207.3 518.9L207.8 518.9L208.3 518.9L208.8 518.9L209.3 518.9L209.8 519.0L210.3 519.0L210.8 519.0L211.3 519.0L211.8 519.0L212.3 519.0L212.8 519.0L213.3 519.0L213.8 519.0L214.3 519.1L214.8 519.1L215.3 519.1L215.8 519.1L216.3 519.1L216.8 519.1L217.3 519.1L217.8 519.1L218.3 519.1L218.8 519.1L219.3 519.2L219.8 519.2L220.3 519.2L220.8 519.2L221.3 519.2L221.8 519.2L222.3 519.2L222.8 519.2L223.3 519.2L223.8 519.2L224.3 519.2L224.8 519.2L225.3 519.2L225.8 519.3L226.3 519.3L226.8 519.3L227.3 519.3L227.8 519.3L228.3 519.3L228.8 519.3L229.3 519.3L229.8 519.3L230.3 519.3L230.8 519.3L231.3 519.3L231.8 519.3L232.3 519.3L232.8 519.3L233.3 519.3L233.8 519.3L234.3 519.3L234.8 519.3L235.3 519.3L235.8 519.3L236.3 519.3L236.8 519.3L237.3 519.3L237.8 519.3L238.3 519.3L238.8 519.3L239.3 519.3L239.8 519.2L240.3 519.2L240.8 519.2L241.3 519.2L241.8 519.2L242.3 519.2L242.8 519.2L243.3 519.1L243.8 519.1L244.3 519.1L244.8 519.1L245.3 519.0L245.8 519.0L246.3 518.9L246.8 518.9L247.3 518.8L247.8 518.7L248.3 518.6L248.8 518.5L249.3 518.4L249.8 518.3L250.3 518.1L250.8 517.9L251.3 517.7L251.8 517.5L252.3 517.2L252.8 516.8L253.3 516.4L253.8 515.9L254.3 515.4L254.8 514.7L255.3 514.0L255.8 513.2L256.3 512.2L256.8 511.0L257.3 509.7L257.8 508.3L258.3 506.6L258.8 504.7L259.3 502.6L259.8 500.3L260.3 497.7L260.8 494.8L261.3 491.6L261.8 488.2L262.3 484.4L262.8 480.3L263.3 475.9L263.8 471.2L264.3 466.2L264.8 460.9L265.3 455.3L265.8 449.5L266.3 443.5L266.8 437.3L267.3 431.0L267.8 424.6L268.3 418.2L268.8 411.7L269.3 405.4L269.8 399.2L270.3 393.2L270.8 387.5L271.3 382.1L271.8 377.2L272.3 372.8L272.8 368.9L273.3 365.6L273.8 363.0L274.3 361.1L274.8 359.9L275.3 359.5L275.8 359.9L276.3 361.1L276.8 363.0L277.3 365.6L277.8 369.0L278.3 372.9L278.8 377.5L279.3 382.6L279.8 388.2L280.3 394.1L280.8 400.4L281.3 406.9L281.8 413.6L282.3 420.4L282.8 427.2L283.3 434.0L283.8 440.8L284.3 447.4L284.8 453.9L285.3 460.1L285.8 466.2L286.3 471.9L286.8 477.4L287.3 482.5L287.8 487.4L288.3 491.9L288.8 496.1L289.3 499.9L289.8 503.5L290.3 506.7L290.8 509.7L291.3 512.3L291.8 514.7L292.3 516.8L292.8 518.7L293.3 520.4L293.8 521.9L294.3 523.2L294.8 524.4L295.3 525.4L295.8 526.2L296.3 527.0L296.8 527.6L297.3 528.2L297.8 528.7L298.3 529.1L298.8 529.5L299.3 529.8L299.8 530.0L300.3 530.2L300.8 530.4L301.3 530.6L301.8 530.8L302.3 530.9L302.8 531.0L303.3 531.1L303.8 531.2L304.3 531.2L304.8 531.3L305.3 531.4L305.8 531.4L306.3 531.5L306.8 531.5L307.3 531.6L307.8 531.6L308.3 531.6L308.8 531.7L309.3 531.7L309.8 531.7L310.3 531.8L310.8 531.8L311.3 531.8L311.8 531.8L312.3 531.9L312.8 531.9L313.3 531.9L313.8 531.9L314.3 532.0L314.8 532.0L315.3 532.0L315.8 532.0L316.3 532.0L316.8 532.0L317.3 532.1L317.8 532.1L318.3 532.1L318.8 532.1L319.3 532.1L319.8 532.1L320.3 532.2L320.8 532.2L321.3 532.2L321.8 532.2L322.3 532.2L322.8 532.2L323.3 532.2L323.8 532.2L324.3 532.3L324.8 532.3L325.3 532.3L325.8 532.3L326.3 532.3L326.8 532.3L327.3 532.3L327.8 532.3L328.3 532.3L328.8 532.3L329.3 532.3L329.8 532.4L330.3 532.4L330.8 532.4L331.3 532.4L331.8 532.4L332.3 532.4L332.8 532.4" fill="none" stroke="#1c188c" stroke-width="1.7" stroke-linejoin="round" stroke-linecap="round" />
<text x="41.08" y="403.00" font-family="Liberation Sans" font-weight="bold" font-size="14.30" textLength="61.29" lengthAdjust="spacingAndGlyphs" fill="#141414" >Zn 2p 1/2</text>
<text x="30.69" y="421.40" font-family="Liberation Sans" font-weight="bold" font-size="14.30" textLength="82.42" lengthAdjust="spacingAndGlyphs" fill="#141414" ><tspan fill="#8a8a8a" stroke="none">(</tspan>1044.52 eV)</text>
<text x="244.88" y="333.20" font-family="Liberation Sans" font-weight="bold" font-size="14.30" textLength="61.19" lengthAdjust="spacingAndGlyphs" fill="#141414" >Zn 2p 3/2</text>
<text x="234.58" y="351.30" font-family="Liberation Sans" font-weight="bold" font-size="14.30" textLength="83.03" lengthAdjust="spacingAndGlyphs" fill="#141414" >(1021.49 eV)</text>
<path d="M367.10 552.00 V299.90 H677.80 V552.00" fill="none" stroke="#666" stroke-width="1.65" stroke-linejoin="miter"/>
<path d="M366.30 552.00 H678.60" fill="none" stroke="#2e2e2e" stroke-width="1.25"/>
<path d="M367.10 552.00 V556.90 M408.53 552.00 V556.90 M449.95 552.00 V556.90 M491.38 552.00 V556.90 M532.81 552.00 V556.90 M574.23 552.00 V556.90 M615.66 552.00 V556.90 M657.09 552.00 V556.90 M387.81 552.00 V554.60 M429.24 552.00 V554.60 M470.67 552.00 V554.60 M512.09 552.00 V554.60 M553.52 552.00 V554.60 M594.95 552.00 V554.60 M636.37 552.00 V554.60 M677.80 552.00 V554.60 " stroke="#3c3c3c" stroke-width="1.3" fill="none"/>
<text x="356.55" y="570.40" font-family="Liberation Sans" font-weight="bold" font-size="12.70" textLength="21.19" lengthAdjust="spacingAndGlyphs" fill="#141414" >240</text>
<text x="397.91" y="570.40" font-family="Liberation Sans" font-weight="bold" font-size="12.70" textLength="21.19" lengthAdjust="spacingAndGlyphs" fill="#141414" >238</text>
<text x="439.37" y="570.40" font-family="Liberation Sans" font-weight="bold" font-size="12.70" textLength="21.19" lengthAdjust="spacingAndGlyphs" fill="#141414" >236</text>
<text x="480.60" y="570.40" font-family="Liberation Sans" font-weight="bold" font-size="12.70" textLength="21.19" lengthAdjust="spacingAndGlyphs" fill="#141414" >234</text>
<text x="522.25" y="570.40" font-family="Liberation Sans" font-weight="bold" font-size="12.70" textLength="21.19" lengthAdjust="spacingAndGlyphs" fill="#141414" >232</text>
<text x="563.68" y="570.40" font-family="Liberation Sans" font-weight="bold" font-size="12.70" textLength="21.19" lengthAdjust="spacingAndGlyphs" fill="#141414" >230</text>
<text x="605.04" y="570.40" font-family="Liberation Sans" font-weight="bold" font-size="12.70" textLength="21.19" lengthAdjust="spacingAndGlyphs" fill="#141414" >228</text>
<text x="646.50" y="570.40" font-family="Liberation Sans" font-weight="bold" font-size="12.70" textLength="21.19" lengthAdjust="spacingAndGlyphs" fill="#141414" >226</text>
<text x="468.02" y="587.30" font-family="Liberation Sans" font-weight="bold" font-size="14.40" textLength="136.01" lengthAdjust="spacingAndGlyphs" fill="#141414" >Binding energy (eV)</text>
<text transform="translate(358.90,482.50) rotate(-90)" x="-0.99" y="0" font-family="Liberation Sans" font-weight="bold" font-size="13.20" textLength="96.13" lengthAdjust="spacingAndGlyphs" fill="#141414">Intensity (a.u)</text>
<text x="370.95" y="319.16" font-family="Liberation Serif" font-weight="bold" font-size="20.00" textLength="22.20" lengthAdjust="spacingAndGlyphs" fill="#111" >(c)</text>
<path d="M392.4 513.7L392.9 514.5L393.4 515.3L393.9 515.6L394.4 515.3L394.9 514.5L395.4 514.4L395.9 513.9L396.4 514.9L396.9 515.0L397.4 515.6L397.9 515.4L398.4 515.5L398.9 515.6L399.4 515.6L399.9 515.3L400.4 514.8L400.9 514.8L401.4 515.5L401.9 516.2L402.4 516.0L402.9 515.8L403.4 515.3L403.9 515.5L404.4 515.1L404.9 515.3L405.4 515.8L405.9 516.3L406.4 516.7L406.9 515.8L407.4 515.3L407.9 514.8L408.4 515.3L408.9 515.4L409.4 515.8L409.9 515.4L410.4 515.9L410.9 515.9L411.4 515.7L411.9 515.4L412.4 515.1L412.9 515.7L413.4 515.4L413.9 515.5L414.4 515.4L414.9 514.7L415.4 513.9L415.9 513.8L416.4 514.6L416.9 515.6L417.4 515.6L417.9 515.2L418.4 514.9L418.9 514.6L419.4 514.9L419.9 514.6L420.4 514.9L420.9 514.5L421.4 514.3L421.9 513.4L422.4 514.5L422.9 514.4L423.4 514.8L423.9 513.7L424.4 513.7L424.9 513.7L425.4 514.2L425.9 514.3L426.4 514.5L426.9 513.9L427.4 513.7L427.9 513.9L428.4 513.9L428.9 513.9L429.4 512.7L429.9 512.7L430.4 512.5L430.9 513.4L431.4 512.1L431.9 511.9L432.4 511.2L432.9 511.8L433.4 511.3L433.9 511.0L434.4 510.7L434.9 510.4L435.4 509.6L435.9 508.6L436.4 507.6L436.9 506.8L437.4 505.5L437.9 503.9L438.4 503.0L438.9 501.4L439.4 500.5L439.9 498.2L440.4 497.1L440.9 495.2L441.4 493.9L441.9 492.0L442.4 490.1L442.9 488.3L443.4 487.1L443.9 485.7L444.4 483.6L444.9 480.7L445.4 478.4L445.9 476.3L446.4 474.2L446.9 472.1L447.4 469.6L447.9 467.4L448.4 464.5L448.9 461.8L449.4 459.1L449.9 456.8L450.4 454.4L450.9 451.3L451.4 448.2L451.9 445.4L452.4 442.3L452.9 440.2L453.4 437.6L453.9 435.5L454.4 432.3L454.9 429.8L455.4 427.2L455.9 425.5L456.4 422.9L456.9 420.2L457.4 417.5L457.9 415.1L458.4 413.3L458.9 411.0L459.4 409.3L459.9 407.9L460.4 406.6L460.9 405.4L461.4 403.8L461.9 402.0L462.4 400.6L462.9 400.2L463.4 400.3L463.9 400.6L464.4 399.8L464.9 399.4L465.4 398.8L465.9 399.4L466.4 399.8L466.9 400.4L467.4 401.2L467.9 401.8L468.4 403.1L468.9 404.8L469.4 406.9L469.9 408.1L470.4 409.1L470.9 410.3L471.4 412.1L471.9 414.8L472.4 416.8L472.9 419.3L473.4 420.8L473.9 423.4L474.4 425.9L474.9 429.4L475.4 431.9L475.9 434.6L476.4 436.0L476.9 438.6L477.4 440.9L477.9 444.1L478.4 447.3L478.9 450.5L479.4 452.8L479.9 455.5L480.4 457.5L480.9 461.2L481.4 463.6L481.9 466.5L482.4 468.3L482.9 470.5L483.4 472.7L483.9 474.8L484.4 477.2L484.9 479.3L485.4 481.8L485.9 483.5L486.4 485.5L486.9 486.8L487.4 489.6L487.9 490.8L488.4 492.5L488.9 493.1L489.4 495.2L489.9 496.4L490.4 496.8L490.9 497.0L491.4 498.0L491.9 499.3L492.4 500.5L492.9 501.9L493.4 503.1L493.9 503.5L494.4 503.7L494.9 503.8L495.4 504.6L495.9 504.4L496.4 503.7L496.9 503.2L497.4 503.4L497.9 503.0L498.4 502.8L498.9 502.1L499.4 501.5L499.9 499.5L500.4 497.8L500.9 496.7L501.4 496.3L501.9 494.8L502.4 494.5L502.9 493.8L503.4 492.8L503.9 490.0L504.4 487.7L504.9 486.4L505.4 485.8L505.9 484.4L506.4 482.3L506.9 479.3L507.4 477.2L507.9 475.5L508.4 473.8L508.9 471.4L509.4 468.8L509.9 466.3L510.4 463.2L510.9 460.5L511.4 457.3L511.9 455.2L512.4 451.8L512.9 449.2L513.4 445.3L513.9 442.4L514.4 438.7L514.9 435.5L515.4 431.5L515.9 427.3L516.4 423.2L516.9 419.5L517.4 415.6L517.9 411.4L518.4 406.9L518.9 403.3L519.4 399.2L519.9 395.6L520.4 392.3L520.9 388.3L521.4 384.3L521.9 379.6L522.4 375.6L522.9 371.4L523.4 367.8L523.9 364.6L524.4 360.4L524.9 356.9L525.4 353.5L525.9 351.6L526.4 349.6L526.9 347.4L527.4 346.1L527.9 344.1L528.4 343.1L528.9 342.3L529.4 341.9L529.9 342.1L530.4 341.9L530.9 342.7L531.4 344.2L531.9 346.3L532.4 348.1L532.9 349.7L533.4 352.8L533.9 355.8L534.4 358.9L534.9 361.6L535.4 365.0L535.9 368.8L536.4 372.8L536.9 377.3L537.4 381.4L537.9 385.6L538.4 389.4L538.9 393.6L539.4 397.4L539.9 401.6L540.4 406.0L540.9 410.3L541.4 414.3L541.9 418.3L542.4 422.0L542.9 426.1L543.4 429.8L543.9 434.1L544.4 438.1L544.9 442.2L545.4 445.9L545.9 449.2L546.4 451.9L546.9 454.3L547.4 457.5L547.9 461.0L548.4 464.7L548.9 467.0L549.4 469.7L549.9 472.1L550.4 475.9L550.9 478.0L551.4 480.0L551.9 480.9L552.4 482.7L552.9 484.4L553.4 486.5L553.9 488.4L554.4 490.0L554.9 492.0L555.4 494.0L555.9 496.3L556.4 497.8L556.9 499.4L557.4 500.9L557.9 501.7L558.4 502.4L558.9 502.8L559.4 504.1L559.9 505.3L560.4 506.6L560.9 508.4L561.4 509.8L561.9 510.8L562.4 511.1L562.9 511.1L563.4 511.7L563.9 512.6L564.4 513.0L564.9 513.8L565.4 514.1L565.9 515.2L566.4 516.0L566.9 517.1L567.4 517.1L567.9 516.7L568.4 516.0L568.9 516.3L569.4 516.6L569.9 517.0L570.4 517.3L570.9 517.7L571.4 518.7L571.9 519.7L572.4 520.2L572.9 520.3L573.4 519.4L573.9 519.7L574.4 519.6L574.9 519.9L575.4 519.4L575.9 520.3L576.4 520.3L576.9 520.6L577.4 520.3L577.9 521.0L578.4 521.6L578.9 521.7L579.4 521.5L579.9 521.7L580.4 521.8L580.9 521.7L581.4 522.1L581.9 522.0L582.4 522.8L582.9 521.9L583.4 521.7L583.9 521.3L584.4 521.6L584.9 522.3L585.4 522.0L585.9 522.4L586.4 521.7L586.9 522.5L587.4 522.5L587.9 522.7L588.4 523.3L588.9 523.3L589.4 523.8L589.9 522.7L590.4 522.7L590.9 522.4L591.4 522.9L591.9 522.8L592.4 522.6L592.9 521.5L593.4 521.5L593.9 521.5L594.4 522.4L594.9 522.9L595.4 523.9L595.9 524.2L596.4 524.2L596.9 523.7L597.4 523.8L597.9 523.7L598.4 523.4L598.9 523.1L599.4 523.0L599.9 523.7L600.4 524.0L600.9 524.5L601.4 523.5L601.9 523.3L602.4 522.9L602.9 523.5L603.4 523.0L603.9 522.3L604.4 521.4L604.9 521.7L605.4 523.1L605.9 523.8L606.4 523.6L606.9 522.9L607.4 522.8L607.9 523.2L608.4 523.0L608.9 522.7L609.4 522.4L609.9 522.8L610.4 523.3L610.9 523.9L611.4 523.3L611.9 523.6L612.4 523.2L612.9 523.6L613.4 523.7L613.9 523.6L614.4 523.6L614.9 523.4L615.4 523.7L615.9 523.9L616.4 524.1L616.9 524.1L617.4 523.7L617.9 524.0L618.4 523.9L618.9 524.1L619.4 523.1L619.9 522.4L620.4 522.0L620.9 522.3L621.4 523.2L621.9 523.4L622.4 523.7L622.9 523.8L623.4 524.1L623.9 523.9L624.4 523.6L624.9 523.2L625.4 522.9L625.9 523.3L626.4 523.0L626.9 523.3L627.4 522.9L627.9 522.6L628.4 522.9L628.9 522.7L629.4 523.4L629.9 523.1L630.4 522.7L630.9 522.7L631.4 522.8L631.9 523.7L632.4 523.7L632.9 523.2L633.4 523.2L633.9 523.3L634.4 524.1L634.9 523.9L635.4 523.4L635.9 523.3L636.4 523.1L636.9 524.2L637.4 524.0L637.9 523.7L638.4 522.7L638.9 523.2L639.4 523.4L639.9 522.7L640.4 522.7L640.9 523.0L641.4 523.7L641.9 523.4L642.4 523.0L642.9 522.8L643.4 522.9L643.9 523.0L644.4 523.6L644.9 523.3L645.4 523.7L645.9 523.6L646.4 522.9L646.9 522.8L647.4 522.6L647.9 523.6L648.4 523.4L648.9 524.0L649.4 523.6L649.9 522.9L650.4 522.4L650.9 522.6L651.4 523.2L651.9 523.1L652.4 523.5L652.9 523.5L653.4 524.0L653.9 523.6L654.4 523.2L654.9 522.5L655.4 522.4L655.9 522.9L656.4 523.0L656.9 522.6L657.4 522.2L657.9 522.3L658.4 522.5L658.9 522.6L659.4 523.4L659.9 523.7L660.4 523.7L660.9 523.1L661.4 523.5L661.9 524.0L662.4 523.9L662.9 523.0L663.4 522.2L663.9 522.1L664.4 522.5L664.9 522.6L665.4 522.2L665.9 522.3L666.4 522.1L666.9 521.9L667.4 521.9L667.9 522.8L668.4 523.5L668.9 523.8L669.4 524.2L669.9 524.4L670.4 524.0L670.9 524.1L671.4 524.4L671.9 524.8L672.4 523.8L672.9 523.4L673.4 522.4L673.9 522.6L674.4 521.6L674.9 522.2L675.4 522.6L675.9 523.4L676.4 524.1L676.9 523.8L677.4 523.8" fill="none" stroke="#e0201c" stroke-width="1.5" stroke-linejoin="round" stroke-linecap="round" />
<path d="M430.4 515.4L430.9 515.4L431.4 515.4L431.9 515.4L432.4 515.4L432.9 515.4L433.4 515.4L433.9 515.4L434.4 515.4L434.9 515.4L435.4 515.4L435.9 515.4L436.4 515.4L436.9 515.4L437.4 515.5L437.9 515.5L438.4 515.5L438.9 515.5L439.4 515.5L439.9 515.5L440.4 515.5L440.9 515.5L441.4 515.5L441.9 515.5L442.4 515.5L442.9 515.5L443.4 515.5L443.9 515.5L444.4 515.5L444.9 515.5L445.4 515.5L445.9 515.6L446.4 515.6L446.9 515.6L447.4 515.6L447.9 515.6L448.4 515.6L448.9 515.6L449.4 515.6L449.9 515.6L450.4 515.6L450.9 515.6L451.4 515.6L451.9 515.6L452.4 515.7L452.9 515.7L453.4 515.7L453.9 515.7L454.4 515.7L454.9 515.7L455.4 515.7L455.9 515.7L456.4 515.7L456.9 515.7L457.4 515.8L457.9 515.8L458.4 515.8L458.9 515.8L459.4 515.8L459.9 515.8L460.4 515.8L460.9 515.8L461.4 515.8L461.9 515.8L462.4 515.9L462.9 515.9L463.4 515.9L463.9 515.9L464.4 515.9L464.9 515.9L465.4 515.9L465.9 515.9L466.4 515.9L466.9 515.9L467.4 515.9L467.9 515.9L468.4 516.0L468.9 516.0L469.4 516.0L469.9 516.0L470.4 516.0L470.9 516.0L471.4 516.0L471.9 516.0L472.4 515.9L472.9 515.9L473.4 515.9L473.9 515.9L474.4 515.9L474.9 515.9L475.4 515.9L475.9 515.9L476.4 515.8L476.9 515.8L477.4 515.8L477.9 515.7L478.4 515.7L478.9 515.7L479.4 515.6L479.9 515.6L480.4 515.5L480.9 515.4L481.4 515.4L481.9 515.3L482.4 515.2L482.9 515.1L483.4 515.0L483.9 514.9L484.4 514.8L484.9 514.7L485.4 514.5L485.9 514.4L486.4 514.2L486.9 514.0L487.4 513.9L487.9 513.6L488.4 513.4L488.9 513.2L489.4 512.9L489.9 512.7L490.4 512.4L490.9 512.1L491.4 511.7L491.9 511.4L492.4 511.0L492.9 510.6L493.4 510.1L493.9 509.7L494.4 509.2L494.9 508.6L495.4 508.1L495.9 507.5L496.4 506.8L496.9 506.1L497.4 505.4L497.9 504.6L498.4 503.8L498.9 502.9L499.4 502.0L499.9 501.0L500.4 500.0L500.9 498.9L501.4 497.8L501.9 496.6L502.4 495.3L502.9 493.9L503.4 492.5L503.9 491.0L504.4 489.5L504.9 487.8L505.4 486.1L505.9 484.3L506.4 482.4L506.9 480.4L507.4 478.3L507.9 476.2L508.4 473.9L508.9 471.6L509.4 469.1L509.9 466.6L510.4 463.9L510.9 461.2L511.4 458.3L511.9 455.3L512.4 452.3L512.9 449.1L513.4 445.8L513.9 442.5L514.4 439.0L514.9 435.5L515.4 431.8L515.9 428.1L516.4 424.2L516.9 420.3L517.4 416.4L517.9 412.3L518.4 408.2L518.9 404.1L519.4 400.0L519.9 395.8L520.4 391.6L520.9 387.5L521.4 383.4L521.9 379.3L522.4 375.4L522.9 371.5L523.4 367.8L523.9 364.2L524.4 360.8L524.9 357.6L525.4 354.7L525.9 352.0L526.4 349.6L526.9 347.5L527.4 345.7L527.9 344.2L528.4 343.2L528.9 342.5L529.4 342.1L529.9 342.2L530.4 342.7L530.9 343.5L531.4 344.7L531.9 346.2L532.4 348.1L532.9 350.3L533.4 352.8L533.9 355.6L534.4 358.7L534.9 362.0L535.4 365.4L535.9 369.1L536.4 372.9L536.9 376.9L537.4 380.9L537.9 385.0L538.4 389.2L538.9 393.4L539.4 397.6L539.9 401.8L540.4 406.1L540.9 410.2L541.4 414.4L541.9 418.5L542.4 422.5L542.9 426.4L543.4 430.3L543.9 434.1L544.4 437.8L544.9 441.4L545.4 444.9L545.9 448.3L546.4 451.7L546.9 454.9L547.4 458.0L547.9 461.0L548.4 463.9L548.9 466.7L549.4 469.4L549.9 472.0L550.4 474.5L550.9 476.9L551.4 479.2L551.9 481.4L552.4 483.6L552.9 485.6L553.4 487.5L553.9 489.4L554.4 491.2L554.9 492.9L555.4 494.5L555.9 496.1L556.4 497.5L556.9 498.9L557.4 500.3L557.9 501.5L558.4 502.7L558.9 503.9L559.4 505.0L559.9 506.0L560.4 507.0L560.9 507.9L561.4 508.8L561.9 509.6L562.4 510.4L562.9 511.2L563.4 511.9L563.9 512.5L564.4 513.2L564.9 513.8L565.4 514.3L565.9 514.8L566.4 515.3L566.9 515.8L567.4 516.2L567.9 516.7L568.4 517.1L568.9 517.4L569.4 517.8L569.9 518.1L570.4 518.4L570.9 518.7L571.4 519.0L571.9 519.2L572.4 519.5L572.9 519.7L573.4 519.9L573.9 520.1L574.4 520.3L574.9 520.5L575.4 520.7L575.9 520.8L576.4 521.0L576.9 521.1L577.4 521.2L577.9 521.3L578.4 521.5L578.9 521.6L579.4 521.7L579.9 521.8L580.4 521.9L580.9 521.9L581.4 522.0L581.9 522.1L582.4 522.2L582.9 522.2L583.4 522.3L583.9 522.3L584.4 522.4L584.9 522.5L585.4 522.5L585.9 522.5L586.4 522.6L586.9 522.6L587.4 522.7L587.9 522.7L588.4 522.7L588.9 522.8L589.4 522.8L589.9 522.8L590.4 522.8L590.9 522.9L591.4 522.9L591.9 522.9L592.4 522.9L592.9 522.9L593.4 523.0L593.9 523.0L594.4 523.0L594.9 523.0L595.4 523.0L595.9 523.0L596.4 523.0L596.9 523.1L597.4 523.1L597.9 523.1L598.4 523.1L598.9 523.1L599.4 523.1L599.9 523.1L600.4 523.1L600.9 523.1L601.4 523.1L601.9 523.1L602.4 523.1L602.9 523.1L603.4 523.1L603.9 523.1L604.4 523.1L604.9 523.2L605.4 523.2L605.9 523.2L606.4 523.2L606.9 523.2L607.4 523.2L607.9 523.2L608.4 523.2L608.9 523.2L609.4 523.2L609.9 523.2L610.4 523.2L610.9 523.2L611.4 523.2L611.9 523.2L612.4 523.2L612.9 523.2L613.4 523.2L613.9 523.2L614.4 523.2L614.9 523.2L615.4 523.2L615.9 523.2L616.4 523.2L616.9 523.2L617.4 523.2L617.9 523.2L618.4 523.2L618.9 523.2L619.4 523.2L619.9 523.2L620.4 523.2L620.9 523.2L621.4 523.2L621.9 523.2L622.4 523.2L622.9 523.2L623.4 523.2L623.9 523.2L624.4 523.2L624.9 523.2L625.4 523.2L625.9 523.2L626.4 523.2L626.9 523.2L627.4 523.2L627.9 523.2L628.4 523.2L628.9 523.2L629.4 523.2L629.9 523.2L630.4 523.2L630.9 523.2L631.4 523.2L631.9 523.2L632.4 523.2L632.9 523.2L633.4 523.2L633.9 523.2L634.4 523.2L634.9 523.2L635.4 523.2L635.9 523.2L636.4 523.2L636.9 523.2L637.4 523.2L637.9 523.2L638.4 523.2L638.9 523.2L639.4 523.2L639.9 523.2L640.4 523.2L640.9 523.2L641.4 523.2L641.9 523.2L642.4 523.2L642.9 523.2L643.4 523.2L643.9 523.2L644.4 523.2L644.9 523.2L645.4 523.2L645.9 523.2L646.4 523.2L646.9 523.2L647.4 523.2L647.9 523.2L648.4 523.2L648.9 523.2L649.4 523.2L649.9 523.2L650.4 523.2L650.9 523.2L651.4 523.2L651.9 523.2L652.4 523.2L652.9 523.2L653.4 523.2L653.9 523.2L654.4 523.2L654.9 523.2L655.4 523.2L655.9 523.2L656.4 523.2L656.9 523.2L657.4 523.2L657.9 523.2L658.4 523.2L658.9 523.2L659.4 523.2L659.9 523.2L660.4 523.2L660.9 523.2L661.4 523.2L661.9 523.2L662.4 523.2L662.9 523.2L663.4 523.2L663.9 523.2L664.4 523.2L664.9 523.2L665.4 523.2L665.9 523.2L666.4 523.2L666.9 523.2L667.4 523.2L667.9 523.2L668.4 523.2L668.9 523.2L669.4 523.2L669.9 523.2L670.4 523.2L670.9 523.2L671.4 523.2L671.9 523.2L672.4 523.2L672.9 523.2L673.4 523.2L673.9 523.2L674.4 523.2L674.9 523.2L675.4 523.2L675.9 523.2L676.4 523.2L676.9 523.2L677.4 523.2" fill="none" stroke="#9a2aa6" stroke-width="1.5" stroke-linejoin="round" stroke-linecap="round" />
<path d="M440.4 496.5L440.9 495.1L441.4 493.6L441.9 492.0L442.4 490.3L442.9 488.6L443.4 486.8L443.9 484.9L444.4 482.9L444.9 480.8L445.4 478.7L445.9 476.5L446.4 474.3L446.9 471.9L447.4 469.5L447.9 467.1L448.4 464.6L448.9 462.0L449.4 459.4L449.9 456.8L450.4 454.1L450.9 451.4L451.4 448.7L451.9 446.0L452.4 443.3L452.9 440.5L453.4 437.8L453.9 435.2L454.4 432.5L454.9 429.9L455.4 427.3L455.9 424.8L456.4 422.4L456.9 420.0L457.4 417.8L457.9 415.6L458.4 413.5L458.9 411.6L459.4 409.7L459.9 408.0L460.4 406.5L460.9 405.1L461.4 403.8L461.9 402.7L462.4 401.7L462.9 400.9L463.4 400.3L463.9 399.9L464.4 399.6L464.9 399.5L465.4 399.6L465.9 399.8L466.4 400.2L466.9 400.8L467.4 401.6L467.9 402.5L468.4 403.6L468.9 404.9L469.4 406.3L469.9 407.8L470.4 409.5L470.9 411.4L471.4 413.3L471.9 415.4L472.4 417.6L472.9 419.8L473.4 422.2L473.9 424.7L474.4 427.2L474.9 429.8L475.4 432.4L475.9 435.1L476.4 437.8L476.9 440.6L477.4 443.3L477.9 446.1L478.4 448.9L478.9 451.7L479.4 454.4L479.9 457.1L480.4 459.9L480.9 462.5L481.4 465.2L481.9 467.7L482.4 470.3L482.9 472.7L483.4 475.1L483.9 477.5L484.4 479.8L484.9 482.0L485.4 484.1L485.9 486.2L486.4 488.2L486.9 490.1L487.4 491.9L487.9 493.6L488.4 495.3L488.9 496.9L489.4 498.4L489.9 499.9L490.4 501.3L490.9 502.6L491.4 503.8L491.9 505.0L492.4 506.1L492.9 507.1L493.4 508.1L493.9 509.0L494.4 509.8L494.9 510.6L495.4 511.4L495.9 512.1L496.4 512.8L496.9 513.4L497.4 513.9L497.9 514.5L498.4 514.9L498.9 515.4L499.4 515.8L499.9 516.2L500.4 516.6L500.9 516.9L501.4 517.2L501.9 517.5L502.4 517.8L502.9 518.0L503.4 518.3L503.9 518.5L504.4 518.7L504.9 518.9L505.4 519.0L505.9 519.2L506.4 519.3L506.9 519.5L507.4 519.6L507.9 519.7L508.4 519.9L508.9 520.0L509.4 520.1L509.9 520.2L510.4 520.2L510.9 520.3L511.4 520.4L511.9 520.5L512.4 520.6L512.9 520.6L513.4 520.7L513.9 520.8L514.4 520.8L514.9 520.9L515.4 521.0L515.9 521.0L516.4 521.1L516.9 521.1L517.4 521.2L517.9 521.2L518.4 521.3L518.9 521.3L519.4 521.4L519.9 521.4L520.4 521.5L520.9 521.5L521.4 521.5L521.9 521.6L522.4 521.6L522.9 521.7L523.4 521.7L523.9 521.7L524.4 521.8L524.9 521.8L525.4 521.9L525.9 521.9L526.4 521.9L526.9 522.0L527.4 522.0L527.9 522.0L528.4 522.1L528.9 522.1L529.4 522.1L529.9 522.1L530.4 522.2L530.9 522.2L531.4 522.2L531.9 522.3L532.4 522.3L532.9 522.3L533.4 522.3L533.9 522.4L534.4 522.4L534.9 522.4L535.4 522.4L535.9 522.4L536.4 522.5L536.9 522.5L537.4 522.5L537.9 522.5L538.4 522.5L538.9 522.6L539.4 522.6L539.9 522.6L540.4 522.6L540.9 522.6L541.4 522.6L541.9 522.7L542.4 522.7L542.9 522.7L543.4 522.7L543.9 522.7L544.4 522.7L544.9 522.7L545.4 522.8L545.9 522.8L546.4 522.8L546.9 522.8L547.4 522.8L547.9 522.8L548.4 522.8L548.9 522.8L549.4 522.9L549.9 522.9L550.4 522.9L550.9 522.9L551.4 522.9L551.9 522.9L552.4 522.9L552.9 522.9L553.4 522.9L553.9 522.9L554.4 522.9L554.9 523.0L555.4 523.0L555.9 523.0L556.4 523.0L556.9 523.0L557.4 523.0L557.9 523.0L558.4 523.0L558.9 523.0L559.4 523.0L559.9 523.0L560.4 523.0L560.9 523.0L561.4 523.0L561.9 523.0L562.4 523.0L562.9 523.0L563.4 523.1L563.9 523.1L564.4 523.1L564.9 523.1L565.4 523.1L565.9 523.1L566.4 523.1L566.9 523.1L567.4 523.1L567.9 523.1L568.4 523.1L568.9 523.1L569.4 523.1L569.9 523.1L570.4 523.1L570.9 523.1L571.4 523.1L571.9 523.1L572.4 523.1L572.9 523.1L573.4 523.1L573.9 523.1L574.4 523.1L574.9 523.1L575.4 523.1L575.9 523.1L576.4 523.1L576.9 523.1L577.4 523.1L577.9 523.1L578.4 523.1L578.9 523.1L579.4 523.1L579.9 523.1L580.4 523.1L580.9 523.2L581.4 523.2L581.9 523.2L582.4 523.2L582.9 523.2L583.4 523.2L583.9 523.2L584.4 523.2L584.9 523.2L585.4 523.2L585.9 523.2L586.4 523.2L586.9 523.2L587.4 523.2L587.9 523.2L588.4 523.2L588.9 523.2L589.4 523.2L589.9 523.2L590.4 523.2L590.9 523.2L591.4 523.2L591.9 523.2L592.4 523.2L592.9 523.2L593.4 523.2L593.9 523.2L594.4 523.2L594.9 523.2L595.4 523.2L595.9 523.2L596.4 523.2L596.9 523.2L597.4 523.2L597.9 523.2L598.4 523.2L598.9 523.2L599.4 523.2L599.9 523.2L600.4 523.2L600.9 523.2L601.4 523.2L601.9 523.2L602.4 523.2L602.9 523.2L603.4 523.2L603.9 523.2L604.4 523.2L604.9 523.2L605.4 523.2L605.9 523.2L606.4 523.2L606.9 523.2L607.4 523.2L607.9 523.2L608.4 523.2L608.9 523.2L609.4 523.2L609.9 523.2L610.4 523.2L610.9 523.2L611.4 523.2L611.9 523.2L612.4 523.2L612.9 523.2L613.4 523.2L613.9 523.2L614.4 523.2L614.9 523.2L615.4 523.2L615.9 523.2L616.4 523.2L616.9 523.2L617.4 523.2L617.9 523.2L618.4 523.2L618.9 523.2L619.4 523.2L619.9 523.2L620.4 523.2L620.9 523.2L621.4 523.2L621.9 523.2L622.4 523.2L622.9 523.2L623.4 523.2L623.9 523.2L624.4 523.2L624.9 523.2L625.4 523.2L625.9 523.2L626.4 523.2L626.9 523.2L627.4 523.2L627.9 523.2L628.4 523.2L628.9 523.2L629.4 523.2L629.9 523.2L630.4 523.2L630.9 523.2L631.4 523.2L631.9 523.2L632.4 523.2L632.9 523.2L633.4 523.2L633.9 523.2L634.4 523.2L634.9 523.2L635.4 523.2L635.9 523.2L636.4 523.2L636.9 523.2L637.4 523.2L637.9 523.2L638.4 523.2L638.9 523.2L639.4 523.2L639.9 523.2L640.4 523.2L640.9 523.2L641.4 523.2L641.9 523.2L642.4 523.2L642.9 523.2L643.4 523.2L643.9 523.2L644.4 523.2L644.9 523.2L645.4 523.2L645.9 523.2L646.4 523.2L646.9 523.2L647.4 523.2L647.9 523.2L648.4 523.2L648.9 523.2L649.4 523.2L649.9 523.2L650.4 523.2L650.9 523.2L651.4 523.2L651.9 523.2L652.4 523.2L652.9 523.2L653.4 523.2L653.9 523.2L654.4 523.2L654.9 523.2L655.4 523.2L655.9 523.2L656.4 523.2L656.9 523.2L657.4 523.2L657.9 523.2L658.4 523.2L658.9 523.2L659.4 523.2L659.9 523.2L660.4 523.2L660.9 523.2L661.4 523.2L661.9 523.2L662.4 523.2L662.9 523.2L663.4 523.2L663.9 523.2L664.4 523.2L664.9 523.2L665.4 523.2L665.9 523.2L666.4 523.2L666.9 523.2L667.4 523.2L667.9 523.2L668.4 523.2L668.9 523.2L669.4 523.2L669.9 523.2L670.4 523.2L670.9 523.2L671.4 523.2L671.9 523.2L672.4 523.2L672.9 523.2L673.4 523.2L673.9 523.2L674.4 523.2L674.9 523.2L675.4 523.2L675.9 523.2L676.4 523.2L676.9 523.2L677.4 523.2" fill="none" stroke="#8a1c1c" stroke-width="1.5" stroke-linejoin="round" stroke-linecap="round" />
<path d="M396.4 515.3L396.9 515.3L397.4 515.3L397.9 515.3L398.4 515.3L398.9 515.3L399.4 515.3L399.9 515.3L400.4 515.3L400.9 515.3L401.4 515.3L401.9 515.3L402.4 515.3L402.9 515.3L403.4 515.3L403.9 515.3L404.4 515.3L404.9 515.3L405.4 515.3L405.9 515.3L406.4 515.3L406.9 515.3L407.4 515.3L407.9 515.3L408.4 515.3L408.9 515.3L409.4 515.3L409.9 515.3L410.4 515.3L410.9 515.3L411.4 515.3L411.9 515.3L412.4 515.3L412.9 515.3L413.4 515.3L413.9 515.3L414.4 515.3L414.9 515.3L415.4 515.3L415.9 515.3L416.4 515.3L416.9 515.3L417.4 515.3L417.9 515.3L418.4 515.3L418.9 515.3L419.4 515.4L419.9 515.4L420.4 515.4L420.9 515.4L421.4 515.4L421.9 515.4L422.4 515.4L422.9 515.4L423.4 515.4L423.9 515.4L424.4 515.4L424.9 515.4L425.4 515.4L425.9 515.4L426.4 515.4L426.9 515.4L427.4 515.4L427.9 515.4L428.4 515.4L428.9 515.4L429.4 515.4L429.9 515.4L430.4 515.4L430.9 515.4L431.4 515.4L431.9 515.4L432.4 515.4L432.9 515.4L433.4 515.4L433.9 515.4L434.4 515.4L434.9 515.4L435.4 515.4L435.9 515.4L436.4 515.4L436.9 515.5L437.4 515.5L437.9 515.5L438.4 515.5L438.9 515.5L439.4 515.5L439.9 515.5L440.4 515.5L440.9 515.5L441.4 515.5L441.9 515.5L442.4 515.5L442.9 515.5L443.4 515.5L443.9 515.5L444.4 515.5L444.9 515.5L445.4 515.6L445.9 515.6L446.4 515.6L446.9 515.6L447.4 515.6L447.9 515.6L448.4 515.6L448.9 515.6L449.4 515.6L449.9 515.6L450.4 515.6L450.9 515.7L451.4 515.7L451.9 515.7L452.4 515.7L452.9 515.7L453.4 515.7L453.9 515.7L454.4 515.7L454.9 515.7L455.4 515.8L455.9 515.8L456.4 515.8L456.9 515.8L457.4 515.8L457.9 515.8L458.4 515.8L458.9 515.9L459.4 515.9L459.9 515.9L460.4 515.9L460.9 515.9L461.4 515.9L461.9 516.0L462.4 516.0L462.9 516.0L463.4 516.0L463.9 516.0L464.4 516.1L464.9 516.1L465.4 516.1L465.9 516.1L466.4 516.2L466.9 516.2L467.4 516.2L467.9 516.2L468.4 516.3L468.9 516.3L469.4 516.3L469.9 516.3L470.4 516.4L470.9 516.4L471.4 516.4L471.9 516.5L472.4 516.5L472.9 516.5L473.4 516.6L473.9 516.6L474.4 516.6L474.9 516.7L475.4 516.7L475.9 516.7L476.4 516.8L476.9 516.8L477.4 516.8L477.9 516.9L478.4 516.9L478.9 517.0L479.4 517.0L479.9 517.1L480.4 517.1L480.9 517.1L481.4 517.2L481.9 517.2L482.4 517.3L482.9 517.3L483.4 517.4L483.9 517.4L484.4 517.5L484.9 517.5L485.4 517.6L485.9 517.6L486.4 517.7L486.9 517.7L487.4 517.8L487.9 517.8L488.4 517.9L488.9 517.9L489.4 518.0L489.9 518.0L490.4 518.1L490.9 518.2L491.4 518.2L491.9 518.3L492.4 518.3L492.9 518.4L493.4 518.4L493.9 518.5L494.4 518.6L494.9 518.6L495.4 518.7L495.9 518.7L496.4 518.8L496.9 518.9L497.4 518.9L497.9 519.0L498.4 519.1L498.9 519.1L499.4 519.2L499.9 519.2L500.4 519.3L500.9 519.4L501.4 519.4L501.9 519.5L502.4 519.5L502.9 519.6L503.4 519.7L503.9 519.7L504.4 519.8L504.9 519.9L505.4 519.9L505.9 520.0L506.4 520.0L506.9 520.1L507.4 520.1L507.9 520.2L508.4 520.3L508.9 520.3L509.4 520.4L509.9 520.4L510.4 520.5L510.9 520.5L511.4 520.6L511.9 520.7L512.4 520.7L512.9 520.8L513.4 520.8L513.9 520.9L514.4 520.9L514.9 521.0L515.4 521.0L515.9 521.1L516.4 521.1L516.9 521.2L517.4 521.2L517.9 521.3L518.4 521.3L518.9 521.3L519.4 521.4L519.9 521.4L520.4 521.5L520.9 521.5L521.4 521.6L521.9 521.6L522.4 521.6L522.9 521.7L523.4 521.7L523.9 521.8L524.4 521.8L524.9 521.8L525.4 521.9L525.9 521.9L526.4 521.9L526.9 522.0L527.4 522.0L527.9 522.0L528.4 522.1L528.9 522.1L529.4 522.1L529.9 522.1L530.4 522.2L530.9 522.2L531.4 522.2L531.9 522.3L532.4 522.3L532.9 522.3L533.4 522.3L533.9 522.4L534.4 522.4L534.9 522.4L535.4 522.4L535.9 522.4L536.4 522.5L536.9 522.5L537.4 522.5L537.9 522.5L538.4 522.5L538.9 522.6L539.4 522.6L539.9 522.6L540.4 522.6L540.9 522.6L541.4 522.6L541.9 522.7L542.4 522.7L542.9 522.7L543.4 522.7L543.9 522.7L544.4 522.7L544.9 522.7L545.4 522.8L545.9 522.8L546.4 522.8L546.9 522.8L547.4 522.8L547.9 522.8L548.4 522.8L548.9 522.8L549.4 522.9L549.9 522.9L550.4 522.9L550.9 522.9L551.4 522.9L551.9 522.9L552.4 522.9L552.9 522.9L553.4 522.9L553.9 522.9L554.4 522.9L554.9 523.0L555.4 523.0L555.9 523.0L556.4 523.0L556.9 523.0L557.4 523.0L557.9 523.0L558.4 523.0L558.9 523.0L559.4 523.0L559.9 523.0L560.4 523.0L560.9 523.0L561.4 523.0L561.9 523.0L562.4 523.0L562.9 523.0L563.4 523.1L563.9 523.1L564.4 523.1L564.9 523.1L565.4 523.1L565.9 523.1L566.4 523.1L566.9 523.1L567.4 523.1L567.9 523.1L568.4 523.1L568.9 523.1L569.4 523.1L569.9 523.1L570.4 523.1L570.9 523.1L571.4 523.1L571.9 523.1L572.4 523.1L572.9 523.1L573.4 523.1L573.9 523.1L574.4 523.1L574.9 523.1L575.4 523.1L575.9 523.1L576.4 523.1L576.9 523.1L577.4 523.1L577.9 523.1L578.4 523.1L578.9 523.1L579.4 523.1L579.9 523.1L580.4 523.1L580.9 523.2L581.4 523.2L581.9 523.2L582.4 523.2L582.9 523.2L583.4 523.2L583.9 523.2L584.4 523.2L584.9 523.2L585.4 523.2L585.9 523.2L586.4 523.2L586.9 523.2L587.4 523.2L587.9 523.2L588.4 523.2L588.9 523.2L589.4 523.2L589.9 523.2L590.4 523.2L590.9 523.2L591.4 523.2L591.9 523.2L592.4 523.2L592.9 523.2L593.4 523.2L593.9 523.2L594.4 523.2L594.9 523.2L595.4 523.2L595.9 523.2L596.4 523.2L596.9 523.2L597.4 523.2L597.9 523.2L598.4 523.2L598.9 523.2L599.4 523.2L599.9 523.2L600.4 523.2L600.9 523.2L601.4 523.2L601.9 523.2L602.4 523.2L602.9 523.2L603.4 523.2L603.9 523.2L604.4 523.2L604.9 523.2L605.4 523.2L605.9 523.2L606.4 523.2L606.9 523.2L607.4 523.2L607.9 523.2L608.4 523.2L608.9 523.2L609.4 523.2L609.9 523.2L610.4 523.2L610.9 523.2L611.4 523.2L611.9 523.2L612.4 523.2L612.9 523.2L613.4 523.2L613.9 523.2L614.4 523.2L614.9 523.2L615.4 523.2L615.9 523.2L616.4 523.2L616.9 523.2L617.4 523.2L617.9 523.2L618.4 523.2L618.9 523.2L619.4 523.2L619.9 523.2L620.4 523.2L620.9 523.2L621.4 523.2L621.9 523.2L622.4 523.2L622.9 523.2L623.4 523.2L623.9 523.2L624.4 523.2L624.9 523.2L625.4 523.2L625.9 523.2L626.4 523.2L626.9 523.2L627.4 523.2L627.9 523.2L628.4 523.2L628.9 523.2L629.4 523.2L629.9 523.2L630.4 523.2L630.9 523.2L631.4 523.2L631.9 523.2L632.4 523.2L632.9 523.2L633.4 523.2L633.9 523.2L634.4 523.2L634.9 523.2L635.4 523.2L635.9 523.2L636.4 523.2L636.9 523.2L637.4 523.2L637.9 523.2L638.4 523.2L638.9 523.2L639.4 523.2L639.9 523.2L640.4 523.2L640.9 523.2L641.4 523.2L641.9 523.2L642.4 523.2L642.9 523.2L643.4 523.2L643.9 523.2L644.4 523.2L644.9 523.2L645.4 523.2L645.9 523.2L646.4 523.2L646.9 523.2L647.4 523.2L647.9 523.2L648.4 523.2L648.9 523.2L649.4 523.2L649.9 523.2L650.4 523.2L650.9 523.2L651.4 523.2L651.9 523.2L652.4 523.2L652.9 523.2L653.4 523.2L653.9 523.2L654.4 523.2L654.9 523.2L655.4 523.2L655.9 523.2L656.4 523.2L656.9 523.2L657.4 523.2L657.9 523.2L658.4 523.2L658.9 523.2L659.4 523.2L659.9 523.2L660.4 523.2L660.9 523.2L661.4 523.2L661.9 523.2L662.4 523.2L662.9 523.2L663.4 523.2L663.9 523.2L664.4 523.2L664.9 523.2L665.4 523.2L665.9 523.2L666.4 523.2L666.9 523.2L667.4 523.2L667.9 523.2L668.4 523.2L668.9 523.2L669.4 523.2L669.9 523.2L670.4 523.2L670.9 523.2L671.4 523.2L671.9 523.2L672.4 523.2L672.9 523.2L673.4 523.2L673.9 523.2L674.4 523.2L674.9 523.2L675.4 523.2L675.9 523.2L676.4 523.2L676.9 523.2L677.4 523.2" fill="none" stroke="#2a962a" stroke-width="1.6" stroke-linejoin="round" stroke-linecap="round" />
<path d="M367.4 516.6L367.9 516.1L368.4 516.1L368.9 515.9L369.4 515.9L369.9 515.9L370.4 515.3L370.9 515.8L371.4 516.0L371.9 516.0L372.4 515.5L372.9 514.7L373.4 515.2L373.9 514.9L374.4 515.1L374.9 515.3L375.4 515.7L375.9 516.4L376.4 515.9L376.9 515.9L377.4 515.7L377.9 515.4L378.4 514.9L378.9 514.4L379.4 514.7L379.9 514.5L380.4 514.3L380.9 514.8L381.4 515.4L381.9 514.8L382.4 515.2L382.9 515.8L383.4 515.6L383.9 515.0L384.4 514.7L384.9 515.2L385.4 514.8L385.9 514.8L386.4 515.0L386.9 515.5L387.4 515.6L387.9 516.0L388.4 516.5L388.9 516.7L389.4 516.9L389.9 516.8L390.4 517.3L390.9 517.2L391.4 516.8L391.9 516.0L392.4 516.1L392.9 516.0L393.4 515.2L393.9 514.7L394.4 514.4L394.9 514.7L395.4 514.2L395.9 514.2L396.4 514.3L396.9 514.3L397.4 514.2L397.9 514.0L398.4 514.1L398.9 514.4L399.4 514.2L399.9 514.7L400.4 515.1L400.9 515.1L401.4 515.3L401.9 515.1L402.4 515.1L402.9 514.9L403.4 514.8L403.9 515.1L404.4 515.2L404.9 515.2L405.4 515.3L405.9 515.4L406.4 515.6L406.9 515.2L407.4 515.2L407.9 515.3L408.4 515.5L408.9 515.4L409.4 515.2L409.9 515.5L410.4 515.4L410.9 515.5L411.4 515.1L411.9 515.2L412.4 515.1L412.9 515.1L413.4 514.9L413.9 514.8L414.4 514.9L414.9 514.9L415.4 514.9L415.9 515.0L416.4 515.1L416.9 515.1L417.4 515.1L417.9 515.2L418.4 515.2L418.9 515.2L419.4 515.1L419.9 515.1L420.4 515.1L420.9 515.0L421.4 515.0L421.9 514.9L422.4 514.9L422.9 514.8L423.4 514.7L423.9 514.6L424.4 514.5L424.9 514.4L425.4 514.3L425.9 514.2L426.4 514.0L426.9 513.9L427.4 513.7L427.9 513.5L428.4 513.3L428.9 513.1L429.4 512.8L429.9 512.5L430.4 512.2L430.9 511.8L431.4 511.5L431.9 511.1L432.4 510.6L432.9 510.1L433.4 509.6L433.9 509.0L434.4 508.4L434.9 507.7L435.4 507.0L435.9 506.2L436.4 505.4L436.9 504.5L437.4 503.6L437.9 502.6L438.4 501.5L438.9 500.4L439.4 499.1L439.9 497.9L440.4 496.5L440.9 495.1L441.4 493.6L441.9 492.0L442.4 490.3L442.9 488.6L443.4 486.8L443.9 484.9L444.4 482.9L444.9 480.8L445.4 478.7L445.9 476.5L446.4 474.3L446.9 471.9L447.4 469.5L447.9 467.1L448.4 464.6L448.9 462.0L449.4 459.4L449.9 456.8L450.4 454.1L450.9 451.4L451.4 448.7L451.9 446.0L452.4 443.2L452.9 440.5L453.4 437.8L453.9 435.1L454.4 432.5L454.9 429.8L455.4 427.3L455.9 424.8L456.4 422.3L456.9 420.0L457.4 417.7L457.9 415.5L458.4 413.5L458.9 411.5L459.4 409.7L459.9 408.0L460.4 406.4L460.9 405.0L461.4 403.7L461.9 402.6L462.4 401.6L462.9 400.8L463.4 400.2L463.9 399.7L464.4 399.4L464.9 399.3L465.4 399.4L465.9 399.6L466.4 400.0L466.9 400.6L467.4 401.3L467.9 402.3L468.4 403.3L468.9 404.6L469.4 405.9L469.9 407.5L470.4 409.1L470.9 410.9L471.4 412.8L471.9 414.9L472.4 417.0L472.9 419.3L473.4 421.6L473.9 424.0L474.4 426.5L474.9 429.0L475.4 431.6L475.9 434.2L476.4 436.9L476.9 439.6L477.4 442.3L477.9 445.0L478.4 447.7L478.9 450.4L479.4 453.0L479.9 455.7L480.4 458.3L480.9 460.8L481.4 463.3L481.9 465.8L482.4 468.2L482.9 470.5L483.4 472.8L483.9 475.0L484.4 477.1L484.9 479.1L485.4 481.1L485.9 482.9L486.4 484.7L486.9 486.4L487.4 488.0L487.9 489.5L488.4 490.9L488.9 492.2L489.4 493.4L489.9 494.5L490.4 495.5L490.9 496.5L491.4 497.3L491.9 498.1L492.4 498.7L492.9 499.3L493.4 499.8L493.9 500.1L494.4 500.4L494.9 500.6L495.4 500.8L495.9 500.8L496.4 500.8L496.9 500.6L497.4 500.4L497.9 500.1L498.4 499.7L498.9 499.2L499.4 498.7L499.9 498.0L500.4 497.3L500.9 496.5L501.4 495.6L501.9 494.6L502.4 493.5L502.9 492.4L503.4 491.1L503.9 489.8L504.4 488.4L504.9 486.8L505.4 485.2L505.9 483.5L506.4 481.7L506.9 479.8L507.4 477.8L507.9 475.7L508.4 473.5L508.9 471.2L509.4 468.8L509.9 466.3L510.4 463.7L510.9 460.9L511.4 458.1L511.9 455.2L512.4 452.1L512.9 449.0L513.4 445.7L513.9 442.4L514.4 438.9L514.9 435.4L515.4 431.7L515.9 428.0L516.4 424.2L516.9 420.3L517.4 416.3L517.9 412.3L518.4 408.2L518.9 404.1L519.4 399.9L519.9 395.8L520.4 391.6L520.9 387.5L521.4 383.4L521.9 379.3L522.4 375.4L522.9 371.5L523.4 367.8L523.9 364.2L524.4 360.8L524.9 357.6L525.4 354.7L525.9 352.0L526.4 349.6L526.9 347.5L527.4 345.7L527.9 344.2L528.4 343.2L528.9 342.5L529.4 342.1L529.9 342.2L530.4 342.7L530.9 343.5L531.4 344.7L531.9 346.2L532.4 348.1L532.9 350.3L533.4 352.8L533.9 355.6L534.4 358.7L534.9 362.0L535.4 365.4L535.9 369.1L536.4 372.9L536.9 376.9L537.4 380.9L537.9 385.0L538.4 389.2L538.9 393.4L539.4 397.6L539.9 401.8L540.4 406.1L540.9 410.2L541.4 414.4L541.9 418.5L542.4 422.5L542.9 426.4L543.4 430.3L543.9 434.1L544.4 437.8L544.9 441.4L545.4 444.9L545.9 448.3L546.4 451.7L546.9 454.9L547.4 458.0L547.9 461.0L548.4 463.9L548.9 466.7L549.4 469.4L549.9 472.0L550.4 474.5L550.9 476.9L551.4 479.2L551.9 481.4L552.4 483.6L552.9 485.6L553.4 487.5L553.9 489.4L554.4 491.2L554.9 492.9L555.4 494.5L555.9 496.1L556.4 497.5L556.9 498.9L557.4 500.3L557.9 501.5L558.4 502.7L558.9 503.9L559.4 505.0L559.9 506.0L560.4 507.0L560.9 507.9L561.4 508.8L561.9 509.6L562.4 510.4L562.9 511.2L563.4 511.9L563.9 512.5L564.4 513.2L564.9 513.8L565.4 514.3L565.9 514.8L566.4 515.3L566.9 515.8L567.4 516.2L567.9 516.7L568.4 517.1L568.9 517.4L569.4 517.8L569.9 518.1L570.4 518.4L570.9 518.7L571.4 519.0L571.9 519.2L572.4 519.5L572.9 519.7L573.4 519.9L573.9 520.1L574.4 520.3L574.9 520.5L575.4 520.7L575.9 520.8L576.4 521.0L576.9 521.1L577.4 521.2L577.9 521.3L578.4 521.5L578.9 521.6L579.4 521.7L579.9 521.8L580.4 521.9L580.9 521.9L581.4 522.0L581.9 522.1L582.4 522.2L582.9 522.2L583.4 522.3L583.9 522.3L584.4 522.4L584.9 522.5L585.4 522.5L585.9 522.5L586.4 522.6L586.9 522.6L587.4 522.7L587.9 522.7L588.4 522.7L588.9 522.8L589.4 522.8L589.9 522.8L590.4 522.8L590.9 522.9L591.4 522.9L591.9 522.9L592.4 522.9L592.9 522.9L593.4 523.0L593.9 523.0L594.4 523.0L594.9 523.0L595.4 523.0L595.9 523.0L596.4 523.0L596.9 523.1L597.4 523.1L597.9 523.1L598.4 523.1L598.9 523.1L599.4 523.1L599.9 523.1L600.4 523.1L600.9 523.1L601.4 523.1L601.9 523.1L602.4 523.1L602.9 523.1L603.4 523.1L603.9 523.1L604.4 523.1L604.9 523.2L605.4 523.2L605.9 523.2L606.4 523.2L606.9 523.2L607.4 523.2L607.9 523.2L608.4 523.2L608.9 523.2L609.4 523.2L609.9 523.2L610.4 523.2L610.9 523.2L611.4 523.2L611.9 523.2L612.4 523.2L612.9 523.2L613.4 523.2L613.9 523.2L614.4 523.2L614.9 523.2L615.4 523.2L615.9 523.2L616.4 523.2L616.9 523.2L617.4 523.2L617.9 523.2L618.4 523.2L618.9 523.2L619.4 523.2L619.9 523.2L620.4 523.2L620.9 523.2L621.4 523.2L621.9 523.2L622.4 523.2L622.9 523.2L623.4 523.2L623.9 523.2L624.4 523.2L624.9 523.2L625.4 523.2L625.9 523.2L626.4 523.2L626.9 523.2L627.4 523.2L627.9 523.2L628.4 523.2L628.9 523.2L629.4 523.2L629.9 523.2L630.4 523.2L630.9 523.2L631.4 523.2L631.9 523.2L632.4 523.2L632.9 523.2L633.4 523.2L633.9 523.2L634.4 523.2L634.9 523.2L635.4 523.2L635.9 523.2L636.4 523.2L636.9 523.2L637.4 523.2L637.9 523.2L638.4 523.2L638.9 523.2L639.4 523.2L639.9 523.2L640.4 523.2L640.9 523.2L641.4 523.2L641.9 523.2L642.4 523.2L642.9 523.2L643.4 523.2L643.9 523.2L644.4 523.2L644.9 523.2L645.4 523.2L645.9 523.2L646.4 523.2L646.9 523.2L647.4 523.2L647.9 523.2L648.4 523.2L648.9 523.2L649.4 523.2L649.9 523.2L650.4 523.2L650.9 523.2L651.4 523.2L651.9 523.2L652.4 523.2L652.9 523.2L653.4 523.2L653.9 523.2L654.4 523.2L654.9 523.2L655.4 523.2L655.9 523.2L656.4 523.2L656.9 523.2L657.4 523.2L657.9 523.2L658.4 523.2L658.9 523.2L659.4 523.2L659.9 523.2L660.4 523.2L660.9 523.2L661.4 523.2L661.9 523.2L662.4 523.2L662.9 523.2L663.4 523.2L663.9 523.2L664.4 523.2L664.9 523.2L665.4 523.2L665.9 523.2L666.4 523.2L666.9 523.2L667.4 523.2L667.9 523.2L668.4 523.2L668.9 523.2L669.4 523.2L669.9 523.2L670.4 523.2L670.9 523.2L671.4 523.2L671.9 523.2L672.4 523.2L672.9 523.2L673.4 523.2L673.9 523.2L674.4 523.2L674.9 523.2L675.4 523.2L675.9 523.2L676.4 523.2L676.9 523.2L677.4 523.2" fill="none" stroke="#1c188c" stroke-width="1.6" stroke-linejoin="round" stroke-linecap="round" />
<text x="432.34" y="373.00" font-family="Liberation Sans" font-weight="bold" font-size="14.30" textLength="65.44" lengthAdjust="spacingAndGlyphs" fill="#141414" >Mo 3d 3/2</text>
<text x="427.28" y="390.90" font-family="Liberation Sans" font-weight="bold" font-size="14.30" textLength="75.54" lengthAdjust="spacingAndGlyphs" fill="#141414" >(235.21 eV)</text>
<text x="543.26" y="328.70" font-family="Liberation Sans" font-weight="bold" font-size="14.30" textLength="63.90" lengthAdjust="spacingAndGlyphs" fill="#141414" >Mo 3d 5/2</text>
<text x="537.79" y="347.30" font-family="Liberation Sans" font-weight="bold" font-size="14.30" textLength="74.93" lengthAdjust="spacingAndGlyphs" fill="#141414" >(232.05 eV)</text>
<path d="M24.30 849.80 V597.60 H334.80 V849.80" fill="none" stroke="#666" stroke-width="1.65" stroke-linejoin="miter"/>
<path d="M23.50 849.80 H335.60" fill="none" stroke="#2e2e2e" stroke-width="1.25"/>
<path d="M24.30 849.80 V854.70 M76.05 849.80 V854.70 M127.80 849.80 V854.70 M179.55 849.80 V854.70 M231.30 849.80 V854.70 M283.05 849.80 V854.70 M334.80 849.80 V854.70 M50.17 849.80 V852.40 M101.92 849.80 V852.40 M153.68 849.80 V852.40 M205.43 849.80 V852.40 M257.18 849.80 V852.40 M308.93 849.80 V852.40 " stroke="#3c3c3c" stroke-width="1.3" fill="none"/>
<text x="13.74" y="867.80" font-family="Liberation Sans" font-weight="bold" font-size="12.70" textLength="21.19" lengthAdjust="spacingAndGlyphs" fill="#141414" >292</text>
<text x="65.50" y="867.80" font-family="Liberation Sans" font-weight="bold" font-size="12.70" textLength="21.19" lengthAdjust="spacingAndGlyphs" fill="#141414" >290</text>
<text x="117.18" y="867.80" font-family="Liberation Sans" font-weight="bold" font-size="12.70" textLength="21.19" lengthAdjust="spacingAndGlyphs" fill="#141414" >288</text>
<text x="168.96" y="867.80" font-family="Liberation Sans" font-weight="bold" font-size="12.70" textLength="21.19" lengthAdjust="spacingAndGlyphs" fill="#141414" >286</text>
<text x="220.52" y="867.80" font-family="Liberation Sans" font-weight="bold" font-size="12.70" textLength="21.19" lengthAdjust="spacingAndGlyphs" fill="#141414" >284</text>
<text x="272.49" y="867.80" font-family="Liberation Sans" font-weight="bold" font-size="12.70" textLength="21.19" lengthAdjust="spacingAndGlyphs" fill="#141414" >282</text>
<text x="324.25" y="867.80" font-family="Liberation Sans" font-weight="bold" font-size="12.70" textLength="21.19" lengthAdjust="spacingAndGlyphs" fill="#141414" >280</text>
<text x="125.12" y="883.60" font-family="Liberation Sans" font-weight="bold" font-size="14.40" textLength="136.01" lengthAdjust="spacingAndGlyphs" fill="#141414" >Binding energy (eV)</text>
<text transform="translate(15.40,770.44) rotate(-90)" x="-0.99" y="0" font-family="Liberation Sans" font-weight="bold" font-size="14.80" textLength="96.21" lengthAdjust="spacingAndGlyphs" fill="#141414">Intensity (a.u)</text>
<text x="27.68" y="617.76" font-family="Liberation Serif" font-weight="bold" font-size="20.00" textLength="24.44" lengthAdjust="spacingAndGlyphs" fill="#111" >(d)</text>
<path d="M24.6 817.1L25.1 817.1L25.6 817.1L26.1 817.1L26.6 817.1L27.1 817.1L27.6 817.1L28.1 817.1L28.6 817.1L29.1 817.2L29.6 817.2L30.1 817.2L30.6 817.2L31.1 817.2L31.6 817.2L32.1 817.2L32.6 817.2L33.1 817.2L33.6 817.2L34.1 817.2L34.6 817.2L35.1 817.2L35.6 817.2L36.1 817.2L36.6 817.2L37.1 817.2L37.6 817.2L38.1 817.2L38.6 817.3L39.1 817.3L39.6 817.3L40.1 817.3L40.6 817.3L41.1 817.3L41.6 817.3L42.1 817.3L42.6 817.3L43.1 817.3L43.6 817.3L44.1 817.3L44.6 817.3L45.1 817.3L45.6 817.3L46.1 817.3L46.6 817.3L47.1 817.3L47.6 817.3L48.1 817.3L48.6 817.4L49.1 817.4L49.6 817.4L50.1 817.4L50.6 817.4L51.1 817.4L51.6 817.4L52.1 817.4L52.6 817.4L53.1 817.4L53.6 817.4L54.1 817.4L54.6 817.4L55.1 817.4L55.6 817.4L56.1 817.4L56.6 817.4L57.1 817.4L57.6 817.4L58.1 817.5L58.6 817.5L59.1 817.5L59.6 817.5L60.1 817.5L60.6 817.5L61.1 817.5L61.6 817.5L62.1 817.5L62.6 817.5L63.1 817.5L63.6 817.5L64.1 817.5L64.6 817.5L65.1 817.5L65.6 817.5L66.1 817.5L66.6 817.5L67.1 817.5L67.6 817.5L68.1 817.6L68.6 817.6L69.1 817.6L69.6 817.6L70.1 817.6L70.6 817.6L71.1 817.6L71.6 817.6L72.1 817.6L72.6 817.6L73.1 817.6L73.6 817.6L74.1 817.6L74.6 817.6L75.1 817.6L75.6 817.6L76.1 817.6L76.6 817.6L77.1 817.6L77.6 817.7L78.1 817.7L78.6 817.7L79.1 817.7L79.6 817.7L80.1 817.7L80.6 817.7L81.1 817.7L81.6 817.7L82.1 817.7L82.6 817.7L83.1 817.7L83.6 817.7L84.1 817.7L84.6 817.7L85.1 817.7L85.6 817.7L86.1 817.7L86.6 817.7L87.1 817.7L87.6 817.8L88.1 817.8L88.6 817.8L89.1 817.8L89.6 817.8L90.1 817.8L90.6 817.8L91.1 817.8L91.6 817.8L92.1 817.8L92.6 817.8L93.1 817.8L93.6 817.8L94.1 817.8L94.6 817.8L95.1 817.8L95.6 817.8L96.1 817.8L96.6 817.8L97.1 817.9L97.6 817.9L98.1 817.9L98.6 817.9L99.1 817.9L99.6 817.9L100.1 817.9L100.6 817.9L101.1 817.9L101.6 817.9L102.1 817.9L102.6 817.9L103.1 817.9L103.6 817.9L104.1 817.9L104.6 817.9L105.1 817.9L105.6 817.9L106.1 817.9L106.6 818.0L107.1 818.0L107.6 818.0L108.1 818.0L108.6 818.0L109.1 818.0L109.6 818.0L110.1 818.0L110.6 818.0L111.1 818.0L111.6 818.0L112.1 818.0L112.6 818.0L113.1 818.0L113.6 818.0L114.1 818.0L114.6 818.0L115.1 818.0L115.6 818.0L116.1 818.0L116.6 818.1L117.1 818.1L117.6 818.1L118.1 818.1L118.6 818.1L119.1 818.1L119.6 818.1L120.1 818.1L120.6 818.1L121.1 818.1L121.6 818.1L122.1 818.1L122.6 818.1L123.1 818.1L123.6 818.1L124.1 818.1L124.6 818.1L125.1 818.1L125.6 818.1L126.1 818.2L126.6 818.2L127.1 818.2L127.6 818.2L128.1 818.2L128.6 818.2L129.1 818.2L129.6 818.2L130.1 818.2L130.6 818.2L131.1 818.2L131.6 818.2L132.1 818.2L132.6 818.2L133.1 818.2L133.6 818.2L134.1 818.2L134.6 818.2L135.1 818.2L135.6 818.2L136.1 818.3L136.6 818.3L137.1 818.3L137.6 818.3L138.1 818.3L138.6 818.3L139.1 818.3L139.6 818.3L140.1 818.3L140.6 818.3L141.1 818.3L141.6 818.3L142.1 818.3L142.6 818.3L143.1 818.3L143.6 818.3L144.1 818.3L144.6 818.3L145.1 818.3L145.6 818.4L146.1 818.4L146.6 818.4L147.1 818.4L147.6 818.4L148.1 818.4L148.6 818.4L149.1 818.4L149.6 818.4L150.1 818.4L150.6 818.4L151.1 818.4L151.6 818.4L152.1 818.4L152.6 818.4L153.1 818.4L153.6 818.4L154.1 818.4L154.6 818.4L155.1 818.5L155.6 818.5L156.1 818.5L156.6 818.5L157.1 818.5L157.6 818.5L158.1 818.5L158.6 818.5L159.1 818.5L159.6 818.5L160.1 818.5L160.6 818.5L161.1 818.5L161.6 818.5L162.1 818.5L162.6 818.5L163.1 818.5L163.6 818.5L164.1 818.5L164.6 818.5L165.1 818.6L165.6 818.6L166.1 818.6L166.6 818.6L167.1 818.6L167.6 818.6L168.1 818.6L168.6 818.6L169.1 818.6L169.6 818.6L170.1 818.6L170.6 818.6L171.1 818.6L171.6 818.6L172.1 818.6L172.6 818.6L173.1 818.6L173.6 818.6L174.1 818.6L174.6 818.7L175.1 818.7L175.6 818.7L176.1 818.7L176.6 818.7L177.1 818.7L177.6 818.7L178.1 818.7L178.6 818.7L179.1 818.7L179.6 818.7L180.1 818.7L180.6 818.7L181.1 818.7L181.6 818.7L182.1 818.7L182.6 818.7L183.1 818.7L183.6 818.7L184.1 818.7L184.6 818.8L185.1 818.8L185.6 818.8L186.1 818.8L186.6 818.8L187.1 818.8L187.6 818.8L188.1 818.8L188.6 818.8L189.1 818.8L189.6 818.8L190.1 818.8L190.6 818.8L191.1 818.8L191.6 818.8L192.1 818.8L192.6 818.8L193.1 818.8L193.6 818.8L194.1 818.9L194.6 818.9L195.1 818.9L195.6 818.9L196.1 818.9L196.6 818.9L197.1 818.9L197.6 818.9L198.1 818.9L198.6 818.9L199.1 818.9L199.6 818.9L200.1 818.9L200.6 818.9L201.1 818.9L201.6 818.9L202.1 818.9L202.6 818.9L203.1 818.9L203.6 818.9L204.1 819.0L204.6 819.0L205.1 819.0L205.6 819.0L206.1 819.0L206.6 819.0L207.1 819.0L207.6 819.0L208.1 819.0L208.6 819.0L209.1 819.0L209.6 819.0L210.1 819.0L210.6 819.0L211.1 819.0L211.6 819.0L212.1 819.0L212.6 819.0L213.1 819.0L213.6 819.1L214.1 819.1L214.6 819.1L215.1 819.1L215.6 819.1L216.1 819.1L216.6 819.1L217.1 819.1L217.6 819.1L218.1 819.1L218.6 819.1L219.1 819.1L219.6 819.1L220.1 819.1L220.6 819.1L221.1 819.1L221.6 819.1L222.1 819.1L222.6 819.1L223.1 819.2L223.6 819.2L224.1 819.2L224.6 819.2L225.1 819.2L225.6 819.2L226.1 819.2L226.6 819.2L227.1 819.2L227.6 819.2L228.1 819.2L228.6 819.2L229.1 819.2L229.6 819.2L230.1 819.2L230.6 819.2L231.1 819.2L231.6 819.2L232.1 819.2L232.6 819.2L233.1 819.3L233.6 819.3L234.1 819.3L234.6 819.3L235.1 819.3L235.6 819.3L236.1 819.3L236.6 819.3L237.1 819.3L237.6 819.3L238.1 819.3L238.6 819.3L239.1 819.3L239.6 819.3L240.1 819.3L240.6 819.3L241.1 819.3L241.6 819.3L242.1 819.3L242.6 819.4L243.1 819.4L243.6 819.4L244.1 819.4L244.6 819.4L245.1 819.4L245.6 819.4L246.1 819.4L246.6 819.4L247.1 819.4L247.6 819.4L248.1 819.4L248.6 819.4L249.1 819.4L249.6 819.4L250.1 819.4L250.6 819.4L251.1 819.4L251.6 819.4L252.1 819.4L252.6 819.5L253.1 819.5L253.6 819.5L254.1 819.5L254.6 819.5L255.1 819.5L255.6 819.5L256.1 819.5L256.6 819.5L257.1 819.5L257.6 819.5L258.1 819.5L258.6 819.5L259.1 819.5L259.6 819.5L260.1 819.5L260.6 819.5L261.1 819.5L261.6 819.5L262.1 819.6L262.6 819.6L263.1 819.6L263.6 819.6L264.1 819.6L264.6 819.6L265.1 819.6L265.6 819.6L266.1 819.6L266.6 819.6L267.1 819.6L267.6 819.6L268.1 819.6L268.6 819.6L269.1 819.6L269.6 819.6L270.1 819.6L270.6 819.6L271.1 819.6L271.6 819.7L272.1 819.7L272.6 819.7L273.1 819.7L273.6 819.7L274.1 819.7L274.6 819.7L275.1 819.7L275.6 819.7L276.1 819.7L276.6 819.7L277.1 819.7L277.6 819.7L278.1 819.7L278.6 819.7L279.1 819.7L279.6 819.7L280.1 819.7L280.6 819.7L281.1 819.7L281.6 819.8L282.1 819.8L282.6 819.8L283.1 819.8L283.6 819.8L284.1 819.8L284.6 819.8L285.1 819.8L285.6 819.8L286.1 819.8L286.6 819.8L287.1 819.8L287.6 819.8L288.1 819.8L288.6 819.8L289.1 819.8L289.6 819.8L290.1 819.8L290.6 819.8L291.1 819.9L291.6 819.9L292.1 819.9L292.6 819.9L293.1 819.9L293.6 819.9L294.1 819.9L294.6 819.9L295.1 819.9L295.6 819.9L296.1 819.9L296.6 819.9L297.1 819.9L297.6 819.9L298.1 819.9L298.6 819.9L299.1 819.9L299.6 819.9L300.1 819.9L300.6 819.9L301.1 820.0L301.6 820.0L302.1 820.0L302.6 820.0L303.1 820.0L303.6 820.0L304.1 820.0L304.6 820.0L305.1 820.0L305.6 820.0L306.1 820.0L306.6 820.0L307.1 820.0L307.6 820.0L308.1 820.0L308.6 820.0L309.1 820.0L309.6 820.0L310.1 820.0L310.6 820.1L311.1 820.1L311.6 820.1L312.1 820.1L312.6 820.1L313.1 820.1L313.6 820.1L314.1 820.1L314.6 820.1L315.1 820.1L315.6 820.1L316.1 820.1L316.6 820.1L317.1 820.1L317.6 820.1L318.1 820.1L318.6 820.1L319.1 820.1L319.6 820.1L320.1 820.1L320.6 820.2L321.1 820.2L321.6 820.2L322.1 820.2L322.6 820.2L323.1 820.2L323.6 820.2L324.1 820.2L324.6 820.2L325.1 820.2L325.6 820.2L326.1 820.2L326.6 820.2L327.1 820.2L327.6 820.2L328.1 820.2L328.6 820.2L329.1 820.2L329.6 820.2L330.1 820.3L330.6 820.3L331.1 820.3L331.6 820.3L332.1 820.3L332.6 820.3L333.1 820.3L333.6 820.3L334.1 820.3" fill="none" stroke="#2a962a" stroke-width="1.5" stroke-linejoin="round" stroke-linecap="round" />
<path d="M24.6 816.8L25.1 816.8L25.6 816.8L26.1 816.8L26.6 816.8L27.1 816.8L27.6 816.8L28.1 816.8L28.6 816.8L29.1 816.8L29.6 816.8L30.1 816.9L30.6 816.9L31.1 816.9L31.6 816.9L32.1 816.9L32.6 816.9L33.1 816.9L33.6 816.9L34.1 816.9L34.6 816.9L35.1 816.9L35.6 816.9L36.1 816.9L36.6 816.9L37.1 816.9L37.6 816.9L38.1 816.9L38.6 816.9L39.1 816.9L39.6 816.9L40.1 816.9L40.6 816.9L41.1 816.9L41.6 816.9L42.1 816.9L42.6 816.9L43.1 816.9L43.6 816.9L44.1 816.9L44.6 816.9L45.1 816.9L45.6 816.9L46.1 816.9L46.6 816.9L47.1 816.9L47.6 817.0L48.1 817.0L48.6 817.0L49.1 817.0L49.6 817.0L50.1 817.0L50.6 817.0L51.1 817.0L51.6 817.0L52.1 817.0L52.6 817.0L53.1 817.0L53.6 817.0L54.1 817.0L54.6 817.0L55.1 817.0L55.6 817.0L56.1 817.0L56.6 817.0L57.1 817.0L57.6 817.0L58.1 817.0L58.6 817.0L59.1 817.0L59.6 817.0L60.1 817.0L60.6 817.0L61.1 817.0L61.6 817.0L62.1 817.0L62.6 817.0L63.1 817.0L63.6 817.0L64.1 817.0L64.6 817.0L65.1 817.0L65.6 817.0L66.1 817.0L66.6 817.0L67.1 817.0L67.6 817.0L68.1 817.0L68.6 817.0L69.1 817.0L69.6 817.0L70.1 817.0L70.6 817.0L71.1 817.0L71.6 817.0L72.1 817.0L72.6 817.0L73.1 817.0L73.6 817.0L74.1 817.0L74.6 817.0L75.1 817.0L75.6 817.0L76.1 817.0L76.6 817.0L77.1 817.0L77.6 817.0L78.1 817.0L78.6 817.0L79.1 817.0L79.6 817.0L80.1 817.0L80.6 817.0L81.1 817.0L81.6 817.0L82.1 817.0L82.6 817.0L83.1 817.0L83.6 817.0L84.1 817.0L84.6 817.0L85.1 817.0L85.6 817.0L86.1 816.9L86.6 816.9L87.1 816.9L87.6 816.9L88.1 816.9L88.6 816.9L89.1 816.9L89.6 816.9L90.1 816.9L90.6 816.9L91.1 816.9L91.6 816.9L92.1 816.8L92.6 816.8L93.1 816.8L93.6 816.8L94.1 816.8L94.6 816.8L95.1 816.8L95.6 816.8L96.1 816.7L96.6 816.7L97.1 816.7L97.6 816.7L98.1 816.7L98.6 816.6L99.1 816.6L99.6 816.6L100.1 816.6L100.6 816.5L101.1 816.5L101.6 816.5L102.1 816.5L102.6 816.4L103.1 816.4L103.6 816.4L104.1 816.3L104.6 816.3L105.1 816.2L105.6 816.2L106.1 816.2L106.6 816.1L107.1 816.1L107.6 816.0L108.1 816.0L108.6 815.9L109.1 815.8L109.6 815.8L110.1 815.7L110.6 815.7L111.1 815.6L111.6 815.5L112.1 815.4L112.6 815.4L113.1 815.3L113.6 815.2L114.1 815.1L114.6 815.0L115.1 814.9L115.6 814.8L116.1 814.7L116.6 814.6L117.1 814.5L117.6 814.4L118.1 814.3L118.6 814.2L119.1 814.1L119.6 813.9L120.1 813.8L120.6 813.6L121.1 813.5L121.6 813.3L122.1 813.2L122.6 813.0L123.1 812.9L123.6 812.7L124.1 812.5L124.6 812.3L125.1 812.1L125.6 811.9L126.1 811.7L126.6 811.5L127.1 811.3L127.6 811.1L128.1 810.9L128.6 810.6L129.1 810.4L129.6 810.2L130.1 809.9L130.6 809.6L131.1 809.4L131.6 809.1L132.1 808.8L132.6 808.5L133.1 808.2L133.6 807.9L134.1 807.6L134.6 807.3L135.1 806.9L135.6 806.6L136.1 806.3L136.6 805.9L137.1 805.5L137.6 805.2L138.1 804.8L138.6 804.4L139.1 804.0L139.6 803.6L140.1 803.2L140.6 802.8L141.1 802.4L141.6 802.0L142.1 801.5L142.6 801.1L143.1 800.6L143.6 800.2L144.1 799.7L144.6 799.2L145.1 798.7L145.6 798.3L146.1 797.8L146.6 797.3L147.1 796.8L147.6 796.2L148.1 795.7L148.6 795.2L149.1 794.7L149.6 794.1L150.1 793.6L150.6 793.1L151.1 792.5L151.6 792.0L152.1 791.4L152.6 790.9L153.1 790.3L153.6 789.7L154.1 789.2L154.6 788.6L155.1 788.0L155.6 787.4L156.1 786.9L156.6 786.3L157.1 785.7L157.6 785.1L158.1 784.6L158.6 784.0L159.1 783.4L159.6 782.9L160.1 782.3L160.6 781.7L161.1 781.2L161.6 780.6L162.1 780.1L162.6 779.5L163.1 779.0L163.6 778.4L164.1 777.9L164.6 777.4L165.1 776.8L165.6 776.3L166.1 775.8L166.6 775.3L167.1 774.9L167.6 774.4L168.1 773.9L168.6 773.5L169.1 773.0L169.6 772.6L170.1 772.2L170.6 771.8L171.1 771.4L171.6 771.0L172.1 770.6L172.6 770.3L173.1 770.0L173.6 769.6L174.1 769.3L174.6 769.0L175.1 768.8L175.6 768.5L176.1 768.3L176.6 768.1L177.1 767.9L177.6 767.7L178.1 767.5L178.6 767.4L179.1 767.3L179.6 767.2L180.1 767.1L180.6 767.0L181.1 767.0L181.6 766.9L182.1 766.9L182.6 767.0L183.1 767.0L183.6 767.0L184.1 767.1L184.6 767.2L185.1 767.3L185.6 767.5L186.1 767.6L186.6 767.8L187.1 768.0L187.6 768.2L188.1 768.4L188.6 768.7L189.1 768.9L189.6 769.2L190.1 769.5L190.6 769.8L191.1 770.1L191.6 770.5L192.1 770.8L192.6 771.2L193.1 771.6L193.6 772.0L194.1 772.4L194.6 772.8L195.1 773.3L195.6 773.7L196.1 774.2L196.6 774.7L197.1 775.2L197.6 775.7L198.1 776.2L198.6 776.7L199.1 777.2L199.6 777.7L200.1 778.3L200.6 778.8L201.1 779.3L201.6 779.9L202.1 780.5L202.6 781.0L203.1 781.6L203.6 782.2L204.1 782.7L204.6 783.3L205.1 783.9L205.6 784.5L206.1 785.1L206.6 785.6L207.1 786.2L207.6 786.8L208.1 787.4L208.6 788.0L209.1 788.6L209.6 789.2L210.1 789.7L210.6 790.3L211.1 790.9L211.6 791.5L212.1 792.0L212.6 792.6L213.1 793.2L213.6 793.7L214.1 794.3L214.6 794.8L215.1 795.4L215.6 795.9L216.1 796.4L216.6 797.0L217.1 797.5L217.6 798.0L218.1 798.5L218.6 799.0L219.1 799.5L219.6 800.0L220.1 800.5L220.6 801.0L221.1 801.4L221.6 801.9L222.1 802.3L222.6 802.8L223.1 803.2L223.6 803.7L224.1 804.1L224.6 804.5L225.1 804.9L225.6 805.3L226.1 805.7L226.6 806.1L227.1 806.5L227.6 806.8L228.1 807.2L228.6 807.6L229.1 807.9L229.6 808.3L230.1 808.6L230.6 808.9L231.1 809.2L231.6 809.5L232.1 809.8L232.6 810.1L233.1 810.4L233.6 810.7L234.1 811.0L234.6 811.2L235.1 811.5L235.6 811.7L236.1 812.0L236.6 812.2L237.1 812.5L237.6 812.7L238.1 812.9L238.6 813.1L239.1 813.3L239.6 813.5L240.1 813.7L240.6 813.9L241.1 814.1L241.6 814.3L242.1 814.4L242.6 814.6L243.1 814.8L243.6 814.9L244.1 815.1L244.6 815.2L245.1 815.3L245.6 815.5L246.1 815.6L246.6 815.7L247.1 815.9L247.6 816.0L248.1 816.1L248.6 816.2L249.1 816.3L249.6 816.4L250.1 816.5L250.6 816.6L251.1 816.7L251.6 816.8L252.1 816.9L252.6 817.0L253.1 817.1L253.6 817.1L254.1 817.2L254.6 817.3L255.1 817.4L255.6 817.4L256.1 817.5L256.6 817.5L257.1 817.6L257.6 817.7L258.1 817.7L258.6 817.8L259.1 817.8L259.6 817.9L260.1 817.9L260.6 818.0L261.1 818.0L261.6 818.1L262.1 818.1L262.6 818.1L263.1 818.2L263.6 818.2L264.1 818.3L264.6 818.3L265.1 818.3L265.6 818.4L266.1 818.4L266.6 818.4L267.1 818.5L267.6 818.5L268.1 818.5L268.6 818.5L269.1 818.6L269.6 818.6L270.1 818.6L270.6 818.6L271.1 818.7L271.6 818.7L272.1 818.7L272.6 818.7L273.1 818.7L273.6 818.8L274.1 818.8L274.6 818.8L275.1 818.8L275.6 818.8L276.1 818.9L276.6 818.9L277.1 818.9L277.6 818.9L278.1 818.9L278.6 818.9L279.1 819.0L279.6 819.0L280.1 819.0L280.6 819.0L281.1 819.0L281.6 819.0L282.1 819.0L282.6 819.1L283.1 819.1L283.6 819.1L284.1 819.1L284.6 819.1L285.1 819.1L285.6 819.1L286.1 819.1L286.6 819.2L287.1 819.2L287.6 819.2L288.1 819.2L288.6 819.2L289.1 819.2L289.6 819.2L290.1 819.2L290.6 819.3L291.1 819.3L291.6 819.3L292.1 819.3L292.6 819.3L293.1 819.3L293.6 819.3L294.1 819.3L294.6 819.3L295.1 819.3L295.6 819.4L296.1 819.4L296.6 819.4L297.1 819.4L297.6 819.4L298.1 819.4L298.6 819.4L299.1 819.4L299.6 819.4L300.1 819.4L300.6 819.4L301.1 819.5L301.6 819.5L302.1 819.5L302.6 819.5L303.1 819.5L303.6 819.5L304.1 819.5L304.6 819.5L305.1 819.5L305.6 819.5L306.1 819.5L306.6 819.6L307.1 819.6L307.6 819.6L308.1 819.6L308.6 819.6L309.1 819.6L309.6 819.6L310.1 819.6L310.6 819.6L311.1 819.6L311.6 819.6L312.1 819.6L312.6 819.7L313.1 819.7L313.6 819.7L314.1 819.7L314.6 819.7L315.1 819.7L315.6 819.7L316.1 819.7L316.6 819.7L317.1 819.7L317.6 819.7L318.1 819.7L318.6 819.8L319.1 819.8L319.6 819.8L320.1 819.8L320.6 819.8L321.1 819.8L321.6 819.8L322.1 819.8L322.6 819.8L323.1 819.8L323.6 819.8L324.1 819.8L324.6 819.8L325.1 819.9L325.6 819.9L326.1 819.9L326.6 819.9L327.1 819.9L327.6 819.9L328.1 819.9L328.6 819.9L329.1 819.9L329.6 819.9L330.1 819.9L330.6 819.9L331.1 819.9L331.6 819.9L332.1 820.0L332.6 820.0L333.1 820.0L333.6 820.0L334.1 820.0" fill="none" stroke="#8e22a8" stroke-width="1.5" stroke-linejoin="round" stroke-linecap="round" />
<path d="M24.6 816.7L25.1 816.7L25.6 816.7L26.1 816.7L26.6 816.7L27.1 816.7L27.6 816.7L28.1 816.7L28.6 816.7L29.1 816.7L29.6 816.7L30.1 816.7L30.6 816.7L31.1 816.7L31.6 816.7L32.1 816.7L32.6 816.7L33.1 816.7L33.6 816.7L34.1 816.8L34.6 816.8L35.1 816.8L35.6 816.8L36.1 816.8L36.6 816.8L37.1 816.8L37.6 816.8L38.1 816.8L38.6 816.8L39.1 816.8L39.6 816.8L40.1 816.8L40.6 816.8L41.1 816.8L41.6 816.8L42.1 816.8L42.6 816.8L43.1 816.8L43.6 816.8L44.1 816.8L44.6 816.8L45.1 816.8L45.6 816.8L46.1 816.8L46.6 816.8L47.1 816.8L47.6 816.8L48.1 816.8L48.6 816.8L49.1 816.8L49.6 816.8L50.1 816.8L50.6 816.8L51.1 816.8L51.6 816.8L52.1 816.8L52.6 816.8L53.1 816.8L53.6 816.8L54.1 816.8L54.6 816.8L55.1 816.8L55.6 816.8L56.1 816.8L56.6 816.8L57.1 816.8L57.6 816.8L58.1 816.8L58.6 816.8L59.1 816.8L59.6 816.8L60.1 816.8L60.6 816.8L61.1 816.8L61.6 816.9L62.1 816.9L62.6 816.9L63.1 816.9L63.6 816.9L64.1 816.9L64.6 816.9L65.1 816.9L65.6 816.9L66.1 816.9L66.6 816.9L67.1 816.9L67.6 816.9L68.1 816.9L68.6 816.9L69.1 816.9L69.6 816.9L70.1 816.9L70.6 816.9L71.1 816.9L71.6 816.9L72.1 816.9L72.6 816.9L73.1 816.9L73.6 816.9L74.1 816.9L74.6 816.9L75.1 816.9L75.6 816.9L76.1 816.9L76.6 816.9L77.1 816.9L77.6 816.8L78.1 816.8L78.6 816.8L79.1 816.8L79.6 816.8L80.1 816.8L80.6 816.8L81.1 816.8L81.6 816.8L82.1 816.8L82.6 816.8L83.1 816.8L83.6 816.8L84.1 816.8L84.6 816.8L85.1 816.8L85.6 816.8L86.1 816.8L86.6 816.8L87.1 816.8L87.6 816.8L88.1 816.8L88.6 816.8L89.1 816.8L89.6 816.8L90.1 816.8L90.6 816.8L91.1 816.8L91.6 816.8L92.1 816.8L92.6 816.8L93.1 816.8L93.6 816.8L94.1 816.8L94.6 816.8L95.1 816.8L95.6 816.8L96.1 816.8L96.6 816.8L97.1 816.7L97.6 816.7L98.1 816.7L98.6 816.7L99.1 816.7L99.6 816.7L100.1 816.7L100.6 816.7L101.1 816.7L101.6 816.7L102.1 816.7L102.6 816.7L103.1 816.7L103.6 816.7L104.1 816.7L104.6 816.7L105.1 816.7L105.6 816.6L106.1 816.6L106.6 816.6L107.1 816.6L107.6 816.6L108.1 816.6L108.6 816.6L109.1 816.6L109.6 816.6L110.1 816.6L110.6 816.6L111.1 816.6L111.6 816.5L112.1 816.5L112.6 816.5L113.1 816.5L113.6 816.5L114.1 816.5L114.6 816.5L115.1 816.5L115.6 816.5L116.1 816.4L116.6 816.4L117.1 816.4L117.6 816.4L118.1 816.4L118.6 816.4L119.1 816.4L119.6 816.4L120.1 816.3L120.6 816.3L121.1 816.3L121.6 816.3L122.1 816.3L122.6 816.3L123.1 816.2L123.6 816.2L124.1 816.2L124.6 816.2L125.1 816.2L125.6 816.2L126.1 816.1L126.6 816.1L127.1 816.1L127.6 816.1L128.1 816.0L128.6 816.0L129.1 816.0L129.6 816.0L130.1 816.0L130.6 815.9L131.1 815.9L131.6 815.9L132.1 815.8L132.6 815.8L133.1 815.8L133.6 815.7L134.1 815.7L134.6 815.7L135.1 815.6L135.6 815.6L136.1 815.6L136.6 815.5L137.1 815.5L137.6 815.4L138.1 815.4L138.6 815.3L139.1 815.3L139.6 815.2L140.1 815.1L140.6 815.1L141.1 815.0L141.6 814.9L142.1 814.9L142.6 814.8L143.1 814.7L143.6 814.6L144.1 814.5L144.6 814.4L145.1 814.3L145.6 814.2L146.1 814.1L146.6 814.0L147.1 813.9L147.6 813.7L148.1 813.6L148.6 813.4L149.1 813.3L149.6 813.1L150.1 812.9L150.6 812.7L151.1 812.5L151.6 812.3L152.1 812.1L152.6 811.9L153.1 811.6L153.6 811.4L154.1 811.1L154.6 810.8L155.1 810.5L155.6 810.2L156.1 809.8L156.6 809.5L157.1 809.1L157.6 808.7L158.1 808.3L158.6 807.8L159.1 807.4L159.6 806.9L160.1 806.4L160.6 805.9L161.1 805.3L161.6 804.7L162.1 804.1L162.6 803.5L163.1 802.8L163.6 802.1L164.1 801.4L164.6 800.6L165.1 799.8L165.6 799.0L166.1 798.1L166.6 797.2L167.1 796.3L167.6 795.3L168.1 794.3L168.6 793.3L169.1 792.2L169.6 791.0L170.1 789.9L170.6 788.7L171.1 787.4L171.6 786.1L172.1 784.8L172.6 783.5L173.1 782.0L173.6 780.6L174.1 779.1L174.6 777.6L175.1 776.0L175.6 774.4L176.1 772.7L176.6 771.0L177.1 769.3L177.6 767.5L178.1 765.7L178.6 763.8L179.1 762.0L179.6 760.0L180.1 758.1L180.6 756.1L181.1 754.1L181.6 752.0L182.1 750.0L182.6 747.9L183.1 745.7L183.6 743.6L184.1 741.4L184.6 739.2L185.1 737.0L185.6 734.8L186.1 732.6L186.6 730.4L187.1 728.1L187.6 725.9L188.1 723.7L188.6 721.5L189.1 719.2L189.6 717.0L190.1 714.9L190.6 712.7L191.1 710.5L191.6 708.4L192.1 706.3L192.6 704.3L193.1 702.3L193.6 700.3L194.1 698.4L194.6 696.5L195.1 694.7L195.6 692.9L196.1 691.2L196.6 689.6L197.1 688.0L197.6 686.5L198.1 685.1L198.6 683.7L199.1 682.5L199.6 681.3L200.1 680.3L200.6 679.3L201.1 678.4L201.6 677.6L202.1 677.0L202.6 676.4L203.1 675.9L203.6 675.6L204.1 675.3L204.6 675.2L205.1 675.2L205.6 675.2L206.1 675.4L206.6 675.7L207.1 676.2L207.6 676.7L208.1 677.3L208.6 678.0L209.1 678.8L209.6 679.8L210.1 680.8L210.6 681.9L211.1 683.1L211.6 684.4L212.1 685.8L212.6 687.2L213.1 688.8L213.6 690.4L214.1 692.0L214.6 693.8L215.1 695.6L215.6 697.4L216.1 699.4L216.6 701.3L217.1 703.3L217.6 705.4L218.1 707.4L218.6 709.5L219.1 711.7L219.6 713.8L220.1 716.0L220.6 718.2L221.1 720.5L221.6 722.7L222.1 724.9L222.6 727.2L223.1 729.4L223.6 731.6L224.1 733.9L224.6 736.1L225.1 738.3L225.6 740.5L226.1 742.7L226.6 744.9L227.1 747.0L227.6 749.2L228.1 751.3L228.6 753.3L229.1 755.4L229.6 757.4L230.1 759.4L230.6 761.3L231.1 763.3L231.6 765.1L232.1 767.0L232.6 768.8L233.1 770.6L233.6 772.3L234.1 774.0L234.6 775.6L235.1 777.2L235.6 778.8L236.1 780.3L236.6 781.8L237.1 783.3L237.6 784.7L238.1 786.0L238.6 787.4L239.1 788.6L239.6 789.9L240.1 791.1L240.6 792.2L241.1 793.4L241.6 794.4L242.1 795.5L242.6 796.5L243.1 797.4L243.6 798.4L244.1 799.3L244.6 800.1L245.1 800.9L245.6 801.7L246.1 802.5L246.6 803.2L247.1 803.9L247.6 804.6L248.1 805.2L248.6 805.8L249.1 806.4L249.6 807.0L250.1 807.5L250.6 808.0L251.1 808.5L251.6 809.0L252.1 809.4L252.6 809.8L253.1 810.2L253.6 810.6L254.1 811.0L254.6 811.3L255.1 811.6L255.6 812.0L256.1 812.2L256.6 812.5L257.1 812.8L257.6 813.0L258.1 813.3L258.6 813.5L259.1 813.7L259.6 813.9L260.1 814.1L260.6 814.3L261.1 814.5L261.6 814.6L262.1 814.8L262.6 815.0L263.1 815.1L263.6 815.2L264.1 815.4L264.6 815.5L265.1 815.6L265.6 815.7L266.1 815.8L266.6 815.9L267.1 816.0L267.6 816.1L268.1 816.2L268.6 816.3L269.1 816.4L269.6 816.4L270.1 816.5L270.6 816.6L271.1 816.6L271.6 816.7L272.1 816.8L272.6 816.8L273.1 816.9L273.6 816.9L274.1 817.0L274.6 817.0L275.1 817.1L275.6 817.1L276.1 817.2L276.6 817.2L277.1 817.3L277.6 817.3L278.1 817.4L278.6 817.4L279.1 817.4L279.6 817.5L280.1 817.5L280.6 817.5L281.1 817.6L281.6 817.6L282.1 817.6L282.6 817.7L283.1 817.7L283.6 817.7L284.1 817.8L284.6 817.8L285.1 817.8L285.6 817.9L286.1 817.9L286.6 817.9L287.1 817.9L287.6 818.0L288.1 818.0L288.6 818.0L289.1 818.1L289.6 818.1L290.1 818.1L290.6 818.1L291.1 818.2L291.6 818.2L292.1 818.2L292.6 818.2L293.1 818.2L293.6 818.3L294.1 818.3L294.6 818.3L295.1 818.3L295.6 818.4L296.1 818.4L296.6 818.4L297.1 818.4L297.6 818.4L298.1 818.5L298.6 818.5L299.1 818.5L299.6 818.5L300.1 818.5L300.6 818.6L301.1 818.6L301.6 818.6L302.1 818.6L302.6 818.6L303.1 818.6L303.6 818.7L304.1 818.7L304.6 818.7L305.1 818.7L305.6 818.7L306.1 818.8L306.6 818.8L307.1 818.8L307.6 818.8L308.1 818.8L308.6 818.8L309.1 818.9L309.6 818.9L310.1 818.9L310.6 818.9L311.1 818.9L311.6 818.9L312.1 818.9L312.6 819.0L313.1 819.0L313.6 819.0L314.1 819.0L314.6 819.0L315.1 819.0L315.6 819.0L316.1 819.1L316.6 819.1L317.1 819.1L317.6 819.1L318.1 819.1L318.6 819.1L319.1 819.1L319.6 819.2L320.1 819.2L320.6 819.2L321.1 819.2L321.6 819.2L322.1 819.2L322.6 819.2L323.1 819.3L323.6 819.3L324.1 819.3L324.6 819.3L325.1 819.3L325.6 819.3L326.1 819.3L326.6 819.3L327.1 819.4L327.6 819.4L328.1 819.4L328.6 819.4L329.1 819.4L329.6 819.4L330.1 819.4L330.6 819.4L331.1 819.4L331.6 819.5L332.1 819.5L332.6 819.5L333.1 819.5L333.6 819.5L334.1 819.5" fill="none" stroke="#e8201c" stroke-width="1.5" stroke-linejoin="round" stroke-linecap="round" />
<path d="M24.9 816.4L27.5 816.4L30.1 816.4L32.7 816.4L35.3 816.4L37.9 816.4L40.5 816.4L43.1 816.4L45.7 816.4L48.3 816.4L50.9 816.4L53.5 816.4L56.1 816.4L58.7 816.4L61.3 816.4L63.9 816.4L66.5 816.3L69.1 816.3L71.7 816.3L74.3 816.3L76.9 816.2L79.5 816.2L82.1 816.1L84.7 816.0L87.3 815.8L89.9 815.6L92.5 811.4L95.1 814.9L97.7 813.9L100.3 815.1L102.9 814.1L105.5 812.5L108.1 815.5L110.7 812.3L113.3 808.8L115.9 809.3L118.5 803.7L121.1 805.6L123.7 807.4L126.3 804.1L128.9 802.5L131.5 800.8L134.1 798.9L136.7 796.8L139.3 794.4L141.9 791.8L144.5 788.9L147.1 785.7L149.7 782.2L152.3 778.3L154.9 773.9L157.5 769.1L160.1 763.7L162.7 757.7L165.3 751.1L167.9 743.7L170.5 735.7L173.1 726.9L175.7 717.4L178.3 707.4L180.9 697.1L183.5 686.7L186.1 676.4L188.7 666.6L191.3 657.7L193.9 650.6L196.5 645.2L199.1 641.4L201.7 639.8L204.3 640.1L206.9 642.9L209.5 648.2L212.1 655.6L214.7 665.2L217.3 676.6L219.9 689.1L222.5 702.1L225.1 715.6L227.7 728.8L230.3 741.2L232.9 752.4L235.5 762.4L238.1 771.1L240.7 777.4L243.3 785.7L245.9 788.6L248.5 791.9L251.1 796.4L253.7 800.4L256.3 800.2L258.9 807.5L261.5 807.6L264.1 810.9L266.7 812.5L269.3 813.5L271.9 814.3L274.5 815.1L277.1 815.7L279.7 816.2L282.3 816.6L284.9 817.0L287.5 817.3L290.1 817.5L292.7 817.7L295.3 817.8L297.9 817.9L300.5 818.1L303.1 818.2L305.7 818.3L308.3 818.4L310.9 818.5L313.5 818.6L316.1 818.9L318.7 817.6L321.3 819.1L323.9 818.6L326.5 819.9L329.1 821.6L331.7 818.1L334.3 817.2" fill="none" stroke="#1c1aa0" stroke-width="1.3" stroke-linejoin="round" stroke-linecap="round" />
<path d="M24.6 816.6L25.1 817.0L25.6 817.6L26.1 817.7L26.6 817.3L27.1 817.5L27.6 818.1L28.1 818.1L28.6 818.2L29.1 818.1L29.6 818.0L30.1 817.0L30.6 817.9L31.1 818.0L31.6 817.7L32.1 817.3L32.6 817.3L33.1 817.2L33.6 816.2L34.1 817.4L34.6 816.9L35.1 817.1L35.6 817.2L36.1 817.3L36.6 817.3L37.1 817.3L37.6 817.8L38.1 817.8L38.6 817.5L39.1 816.6L39.6 816.1L40.1 815.7L40.6 815.4L41.1 815.3L41.6 814.7L42.1 814.1L42.6 814.6L43.1 814.9L43.6 815.1L44.1 815.1L44.6 815.0L45.1 814.8L45.6 815.9L46.1 816.5L46.6 815.7L47.1 816.0L47.6 816.3L48.1 817.0L48.6 816.9L49.1 817.0L49.6 817.1L50.1 816.7L50.6 817.4L51.1 816.9L51.6 816.2L52.1 815.8L52.6 816.6L53.1 817.0L53.6 816.0L54.1 816.1L54.6 815.7L55.1 815.3L55.6 815.9L56.1 816.6L56.6 816.7L57.1 816.2L57.6 816.9L58.1 817.5L58.6 817.6L59.1 818.3L59.6 818.0L60.1 817.6L60.6 817.7L61.1 817.5L61.6 816.7L62.1 816.6L62.6 816.7L63.1 816.1L63.6 815.8L64.1 815.5L64.6 814.7L65.1 815.1L65.6 815.8L66.1 815.5L66.6 815.5L67.1 815.9L67.6 816.6L68.1 817.3L68.6 817.4L69.1 817.1L69.6 817.4L70.1 817.8L70.6 817.4L71.1 817.1L71.6 816.6L72.1 816.6L72.6 816.5L73.1 816.7L73.6 815.8L74.1 815.7L74.6 816.5L75.1 816.6L75.6 816.6L76.1 816.1L76.6 816.1L77.1 815.8L77.6 816.2L78.1 816.0L78.6 815.8L79.1 816.7L79.6 816.7L80.1 816.9L80.6 817.0L81.1 817.3L81.6 817.2L82.1 817.0L82.6 816.3L83.1 816.3L83.6 816.4L84.1 815.8L84.6 815.2L85.1 815.2L85.6 815.3L86.1 815.6L86.6 816.5L87.1 815.8L87.6 815.9L88.1 815.8L88.6 816.5L89.1 816.8L89.6 816.3L90.1 815.9L90.6 815.5L91.1 815.6L91.6 815.9L92.1 816.0L92.6 816.3L93.1 815.5L93.6 815.5L94.1 815.2L94.6 815.1L95.1 814.8L95.6 814.4L96.1 814.7L96.6 814.9L97.1 815.4L97.6 815.5L98.1 815.8L98.6 816.0L99.1 816.0L99.6 815.4L100.1 815.0L100.6 814.3L101.1 814.3L101.6 814.5L102.1 814.2L102.6 814.1L103.1 813.9L103.6 814.2L104.1 814.8L104.6 815.0L105.1 815.0L105.6 814.5L106.1 814.5L106.6 813.8L107.1 814.1L107.6 813.6L108.1 812.5L108.6 811.8L109.1 811.2L109.6 810.4L110.1 809.6L110.6 810.1L111.1 809.6L111.6 809.6L112.1 809.3L112.6 809.7L113.1 809.8L113.6 810.4L114.1 810.3L114.6 810.0L115.1 810.0L115.6 809.7L116.1 809.9L116.6 809.1L117.1 808.7L117.6 808.2L118.1 808.2L118.6 807.5L119.1 806.5L119.6 806.7L120.1 806.9L120.6 807.1L121.1 807.0L121.6 806.7L122.1 806.6L122.6 806.8L123.1 806.9L123.6 806.8L124.1 805.9L124.6 805.3L125.1 804.6L125.6 804.3L126.1 804.3L126.6 803.5L127.1 803.5L127.6 803.1L128.1 803.1L128.6 803.1L129.1 803.3L129.6 803.1L130.1 802.7L130.6 802.8L131.1 802.3L131.6 801.7L132.1 801.2L132.6 800.7L133.1 799.9L133.6 799.6L134.1 799.2L134.6 798.7L135.1 798.3L135.6 797.9L136.1 797.6L136.6 797.2L137.1 796.8L137.6 796.3L138.1 795.6L138.6 795.2L139.1 794.6L139.6 794.0L140.1 793.7L140.6 793.2L141.1 792.7L141.6 792.1L142.1 791.7L142.6 791.1L143.1 790.7L143.6 790.1L144.1 789.5L144.6 788.9L145.1 788.2L145.6 787.6L146.1 787.0L146.6 786.4L147.1 785.6L147.6 785.1L148.1 784.3L148.6 783.5L149.1 782.9L149.6 782.1L150.1 781.4L150.6 780.5L151.1 780.0L151.6 779.2L152.1 778.3L152.6 777.6L153.1 776.7L153.6 776.0L154.1 775.2L154.6 774.4L155.1 773.7L155.6 772.7L156.1 771.9L156.6 770.9L157.1 770.0L157.6 769.1L158.1 768.2L158.6 767.2L159.1 766.0L159.6 764.9L160.1 763.8L160.6 762.7L161.1 761.6L161.6 760.4L162.1 759.1L162.6 757.8L163.1 756.7L163.6 755.5L164.1 754.2L164.6 752.9L165.1 751.7L165.6 750.2L166.1 749.0L166.6 747.7L167.1 746.3L167.6 744.9L168.1 743.4L168.6 742.0L169.1 740.5L169.6 739.0L170.1 737.4L170.6 735.7L171.1 734.2L171.6 732.3L172.1 730.5L172.6 728.7L173.1 726.9L173.6 725.0L174.1 723.0L174.6 721.1L175.1 719.2L175.6 717.4L176.1 715.5L176.6 713.8L177.1 711.8L177.6 710.1L178.1 708.4L178.6 706.5L179.1 704.5L179.6 702.5L180.1 700.6L180.6 698.6L181.1 696.6L181.6 694.5L182.1 692.5L182.6 690.6L183.1 688.6L183.6 686.6L184.1 684.6L184.6 682.7L185.1 680.8L185.6 678.8L186.1 676.8L186.6 674.8L187.1 672.9L187.6 670.9L188.1 668.9L188.6 667.1L189.1 665.2L189.6 663.1L190.1 661.4L190.6 659.7L191.1 658.0L191.6 656.7L192.1 655.4L192.6 654.0L193.1 652.7L193.6 651.6L194.1 650.5L194.6 649.4L195.1 648.4L195.6 647.2L196.1 646.2L196.6 645.2L197.1 644.2L197.6 643.4L198.1 642.6L198.6 642.0L199.1 641.5L199.6 640.9L200.1 640.6L200.6 640.3L201.1 640.0L201.6 639.8L202.1 639.7L202.6 639.6L203.1 639.7L203.6 639.9L204.1 640.2L204.6 640.4L205.1 640.8L205.6 641.3L206.1 641.8L206.6 642.6L207.1 643.3L207.6 644.2L208.1 645.1L208.6 646.1L209.1 647.3L209.6 648.4L210.1 649.8L210.6 651.1L211.1 652.4L211.6 654.0L212.1 655.5L212.6 657.2L213.1 658.9L213.6 660.7L214.1 662.7L214.6 664.7L215.1 666.9L215.6 668.9L216.1 671.1L216.6 673.3L217.1 675.6L217.6 678.0L218.1 680.4L218.6 682.7L219.1 685.1L219.6 687.5L220.1 689.9L220.6 692.3L221.1 694.8L221.6 697.3L222.1 699.8L222.6 702.3L223.1 704.9L223.6 707.6L224.1 710.3L224.6 712.9L225.1 715.5L225.6 718.2L226.1 720.9L226.6 723.6L227.1 726.0L227.6 728.5L228.1 731.0L228.6 733.6L229.1 736.0L229.6 738.2L230.1 740.4L230.6 742.7L231.1 744.9L231.6 747.1L232.1 749.2L232.6 751.1L233.1 753.3L233.6 755.3L234.1 757.1L234.6 758.9L235.1 760.9L235.6 762.6L236.1 764.6L236.6 766.3L237.1 767.9L237.6 769.4L238.1 771.0L238.6 772.5L239.1 774.0L239.6 775.4L240.1 776.7L240.6 778.1L241.1 779.5L241.6 780.8L242.1 782.2L242.6 783.3L243.1 784.5L243.6 785.6L244.1 786.6L244.6 787.3L245.1 788.2L245.6 789.3L246.1 790.1L246.6 791.0L247.1 791.8L247.6 792.6L248.1 793.4L248.6 794.3L249.1 795.0L249.6 795.4L250.1 796.0L250.6 796.7L251.1 797.4L251.6 798.0L252.1 798.5L252.6 799.1L253.1 799.7L253.6 800.3L254.1 801.0L254.6 801.6L255.1 802.1L255.6 802.6L256.1 803.0L256.6 803.7L257.1 804.3L257.6 805.0L258.1 805.3L258.6 805.7L259.1 806.1L259.6 806.7L260.1 807.4L260.6 807.8L261.1 808.3L261.6 808.6L262.1 809.1L262.6 809.5L263.1 810.0L263.6 810.3L264.1 810.6L264.6 811.3L265.1 811.5L265.6 811.8L266.1 812.2L266.6 812.6L267.1 812.9L267.6 813.1L268.1 813.3L268.6 813.2L269.1 813.6L269.6 813.8L270.1 813.9L270.6 814.0L271.1 813.9L271.6 814.1L272.1 814.2L272.6 814.4L273.1 814.5L273.6 814.6L274.1 814.7L274.6 815.0L275.1 815.1L275.6 815.3L276.1 815.5L276.6 815.6L277.1 815.7L277.6 815.9L278.1 816.0L278.6 816.0L279.1 816.2L279.6 816.3L280.1 816.2L280.6 816.3L281.1 816.3L281.6 816.4L282.1 816.4L282.6 816.4L283.1 816.5L283.6 816.6L284.1 816.6L284.6 816.7L285.1 816.9L285.6 817.0L286.1 817.0L286.6 817.1L287.1 817.2L287.6 817.3L288.1 817.5L288.6 817.6L289.1 817.5L289.6 817.4L290.1 817.4L290.6 817.5L291.1 817.6L291.6 817.6L292.1 817.7L292.6 817.8L293.1 817.8L293.6 817.8L294.1 817.8L294.6 817.8L295.1 817.7L295.6 817.8L296.1 817.8L296.6 817.8L297.1 817.9L297.6 818.0L298.1 818.1L298.6 818.0L299.1 818.1L299.6 818.0L300.1 818.1L300.6 817.9L301.1 817.9L301.6 818.0L302.1 818.0L302.6 818.1L303.1 818.2L303.6 818.3L304.1 818.4L304.6 818.6L305.1 818.7L305.6 818.6L306.1 818.6L306.6 818.7L307.1 818.6L307.6 818.5L308.1 818.4L308.6 818.5L309.1 818.3L309.6 818.3L310.1 818.2L310.6 818.2L311.1 818.3L311.6 818.3L312.1 818.3L312.6 818.3L313.1 818.4L313.6 818.5L314.1 818.7L314.6 818.7L315.1 818.5L315.6 818.6L316.1 818.6L316.6 818.6L317.1 818.7L317.6 818.7L318.1 818.7L318.6 818.7L319.1 819.1L319.6 818.9L320.1 818.9L320.6 819.0L321.1 819.0L321.6 819.0L322.1 819.0L322.6 819.1L323.1 818.9L323.6 819.0L324.1 819.0L324.6 819.0L325.1 818.9L325.6 818.9L326.1 819.0L326.6 818.9L327.1 819.0L327.6 819.0L328.1 819.1L328.6 819.1L329.1 819.3L329.6 819.3L330.1 819.3L330.6 819.2L331.1 819.1L331.6 819.1L332.1 819.1L332.6 819.0L333.1 818.9L333.6 818.9L334.1 819.0" fill="none" stroke="#111111" stroke-width="1.9" stroke-linejoin="round" stroke-linecap="round" />
<text x="188.14" y="631.10" font-family="Liberation Sans" font-weight="bold" font-size="14.30" textLength="28.61" lengthAdjust="spacingAndGlyphs" fill="#141414" >C 1s</text>
<text x="217.61" y="666.90" font-family="Liberation Sans" font-weight="bold" font-size="14.30" textLength="87.95" lengthAdjust="spacingAndGlyphs" fill="#141414" >C-C/C=C/C-H</text>
<text x="223.88" y="685.00" font-family="Liberation Sans" font-weight="bold" font-size="14.30" textLength="75.44" lengthAdjust="spacingAndGlyphs" fill="#141414" >(284.88 eV)</text>
<text x="105.03" y="748.70" font-family="Liberation Sans" font-weight="bold" font-size="14.30" textLength="24.60" lengthAdjust="spacingAndGlyphs" fill="#141414" >C-N</text>
<text x="79.68" y="766.70" font-family="Liberation Sans" font-weight="bold" font-size="14.30" textLength="75.03" lengthAdjust="spacingAndGlyphs" fill="#141414" >(285.83 eV)</text>
<path d="M367.10 848.80 V596.10 H679.20 V848.80" fill="none" stroke="#666" stroke-width="1.65" stroke-linejoin="miter"/>
<path d="M366.30 848.80 H680.00" fill="none" stroke="#2e2e2e" stroke-width="1.25"/>
<path d="M367.10 848.80 V853.70 M415.12 848.80 V853.70 M463.13 848.80 V853.70 M511.15 848.80 V853.70 M559.16 848.80 V853.70 M607.18 848.80 V853.70 M655.19 848.80 V853.70 M391.11 848.80 V851.40 M439.12 848.80 V851.40 M487.14 848.80 V851.40 M535.15 848.80 V851.40 M583.17 848.80 V851.40 M631.18 848.80 V851.40 M679.20 848.80 V851.40 " stroke="#3c3c3c" stroke-width="1.3" fill="none"/>
<text x="356.51" y="867.20" font-family="Liberation Sans" font-weight="bold" font-size="12.70" textLength="21.19" lengthAdjust="spacingAndGlyphs" fill="#141414" >538</text>
<text x="404.55" y="867.20" font-family="Liberation Sans" font-weight="bold" font-size="12.70" textLength="21.19" lengthAdjust="spacingAndGlyphs" fill="#141414" >536</text>
<text x="452.37" y="867.20" font-family="Liberation Sans" font-weight="bold" font-size="12.70" textLength="21.19" lengthAdjust="spacingAndGlyphs" fill="#141414" >534</text>
<text x="500.61" y="867.20" font-family="Liberation Sans" font-weight="bold" font-size="12.70" textLength="21.19" lengthAdjust="spacingAndGlyphs" fill="#141414" >532</text>
<text x="548.63" y="867.20" font-family="Liberation Sans" font-weight="bold" font-size="12.70" textLength="21.19" lengthAdjust="spacingAndGlyphs" fill="#141414" >530</text>
<text x="596.58" y="867.20" font-family="Liberation Sans" font-weight="bold" font-size="12.70" textLength="21.19" lengthAdjust="spacingAndGlyphs" fill="#141414" >528</text>
<text x="644.63" y="867.20" font-family="Liberation Sans" font-weight="bold" font-size="12.70" textLength="21.19" lengthAdjust="spacingAndGlyphs" fill="#141414" >526</text>
<text x="462.52" y="883.10" font-family="Liberation Sans" font-weight="bold" font-size="14.40" textLength="136.01" lengthAdjust="spacingAndGlyphs" fill="#141414" >Binding energy (eV)</text>
<text transform="translate(359.20,773.90) rotate(-90)" x="-0.99" y="0" font-family="Liberation Sans" font-weight="bold" font-size="13.80" textLength="96.13" lengthAdjust="spacingAndGlyphs" fill="#141414">Intensity (a.u)</text>
<text x="370.95" y="615.86" font-family="Liberation Serif" font-weight="bold" font-size="20.00" textLength="22.20" lengthAdjust="spacingAndGlyphs" fill="#111" >(e)</text>
<path d="M367.4 820.7L367.9 820.7L368.4 820.7L368.9 820.7L369.4 820.7L369.9 820.7L370.4 820.7L370.9 820.7L371.4 820.7L371.9 820.7L372.4 820.7L372.9 820.7L373.4 820.7L373.9 820.7L374.4 820.7L374.9 820.7L375.4 820.7L375.9 820.7L376.4 820.7L376.9 820.7L377.4 820.7L377.9 820.7L378.4 820.7L378.9 820.7L379.4 820.7L379.9 820.7L380.4 820.7L380.9 820.7L381.4 820.7L381.9 820.7L382.4 820.7L382.9 820.7L383.4 820.7L383.9 820.7L384.4 820.7L384.9 820.7L385.4 820.7L385.9 820.7L386.4 820.7L386.9 820.7L387.4 820.7L387.9 820.7L388.4 820.7L388.9 820.7L389.4 820.7L389.9 820.7L390.4 820.7L390.9 820.7L391.4 820.7L391.9 820.7L392.4 820.7L392.9 820.7L393.4 820.7L393.9 820.7L394.4 820.7L394.9 820.7L395.4 820.7L395.9 820.7L396.4 820.7L396.9 820.7L397.4 820.7L397.9 820.7L398.4 820.7L398.9 820.7L399.4 820.7L399.9 820.7L400.4 820.7L400.9 820.7L401.4 820.7L401.9 820.7L402.4 820.7L402.9 820.7L403.4 820.7L403.9 820.7L404.4 820.7L404.9 820.7L405.4 820.7L405.9 820.7L406.4 820.7L406.9 820.7L407.4 820.7L407.9 820.7L408.4 820.7L408.9 820.7L409.4 820.7L409.9 820.7L410.4 820.7L410.9 820.7L411.4 820.7L411.9 820.7L412.4 820.7L412.9 820.7L413.4 820.7L413.9 820.7L414.4 820.7L414.9 820.7L415.4 820.7L415.9 820.7L416.4 820.7L416.9 820.7L417.4 820.7L417.9 820.7L418.4 820.7L418.9 820.7L419.4 820.7L419.9 820.7L420.4 820.7L420.9 820.7L421.4 820.7L421.9 820.7L422.4 820.7L422.9 820.7L423.4 820.7L423.9 820.7L424.4 820.7L424.9 820.7L425.4 820.7L425.9 820.7L426.4 820.7L426.9 820.7L427.4 820.7L427.9 820.7L428.4 820.7L428.9 820.7L429.4 820.7L429.9 820.7L430.4 820.7L430.9 820.7L431.4 820.7L431.9 820.7L432.4 820.7L432.9 820.7L433.4 820.7L433.9 820.7L434.4 820.7L434.9 820.7L435.4 820.7L435.9 820.7L436.4 820.7L436.9 820.7L437.4 820.7L437.9 820.7L438.4 820.7L438.9 820.7L439.4 820.7L439.9 820.7L440.4 820.7L440.9 820.7L441.4 820.7L441.9 820.7L442.4 820.7L442.9 820.7L443.4 820.7L443.9 820.7L444.4 820.7L444.9 820.7L445.4 820.7L445.9 820.7L446.4 820.7L446.9 820.7L447.4 820.7L447.9 820.7L448.4 820.7L448.9 820.7L449.4 820.7L449.9 820.7L450.4 820.7L450.9 820.7L451.4 820.7L451.9 820.7L452.4 820.7L452.9 820.7L453.4 820.7L453.9 820.6L454.4 820.6L454.9 820.6L455.4 820.6L455.9 820.6L456.4 820.6L456.9 820.6L457.4 820.6L457.9 820.6L458.4 820.6L458.9 820.6L459.4 820.6L459.9 820.6L460.4 820.6L460.9 820.6L461.4 820.6L461.9 820.6L462.4 820.6L462.9 820.6L463.4 820.6L463.9 820.6L464.4 820.6L464.9 820.6L465.4 820.6L465.9 820.6L466.4 820.6L466.9 820.6L467.4 820.6L467.9 820.6L468.4 820.6L468.9 820.6L469.4 820.6L469.9 820.6L470.4 820.6L470.9 820.6L471.4 820.6L471.9 820.6L472.4 820.6L472.9 820.6L473.4 820.6L473.9 820.6L474.4 820.6L474.9 820.6L475.4 820.6L475.9 820.6L476.4 820.5L476.9 820.5L477.4 820.5L477.9 820.5L478.4 820.5L478.9 820.5L479.4 820.5L479.9 820.5L480.4 820.5L480.9 820.5L481.4 820.5L481.9 820.5L482.4 820.5L482.9 820.5L483.4 820.5L483.9 820.5L484.4 820.5L484.9 820.5L485.4 820.5L485.9 820.5L486.4 820.5L486.9 820.5L487.4 820.4L487.9 820.4L488.4 820.4L488.9 820.4L489.4 820.4L489.9 820.4L490.4 820.4L490.9 820.4L491.4 820.4L491.9 820.4L492.4 820.4L492.9 820.4L493.4 820.4L493.9 820.4L494.4 820.3L494.9 820.3L495.4 820.3L495.9 820.3L496.4 820.3L496.9 820.3L497.4 820.3L497.9 820.3L498.4 820.3L498.9 820.3L499.4 820.3L499.9 820.2L500.4 820.2L500.9 820.2L501.4 820.2L501.9 820.2L502.4 820.2L502.9 820.2L503.4 820.2L503.9 820.2L504.4 820.2L504.9 820.1L505.4 820.1L505.9 820.1L506.4 820.1L506.9 820.1L507.4 820.1L507.9 820.1L508.4 820.1L508.9 820.0L509.4 820.0L509.9 820.0L510.4 820.0L510.9 820.0L511.4 820.0L511.9 820.0L512.4 819.9L512.9 819.9L513.4 819.9L513.9 819.9L514.4 819.9L514.9 819.9L515.4 819.8L515.9 819.8L516.4 819.8L516.9 819.8L517.4 819.8L517.9 819.8L518.4 819.7L518.9 819.7L519.4 819.7L519.9 819.7L520.4 819.7L520.9 819.6L521.4 819.6L521.9 819.6L522.4 819.6L522.9 819.6L523.4 819.5L523.9 819.5L524.4 819.5L524.9 819.5L525.4 819.5L525.9 819.4L526.4 819.4L526.9 819.4L527.4 819.4L527.9 819.4L528.4 819.3L528.9 819.3L529.4 819.3L529.9 819.3L530.4 819.2L530.9 819.2L531.4 819.2L531.9 819.2L532.4 819.2L532.9 819.1L533.4 819.1L533.9 819.1L534.4 819.1L534.9 819.0L535.4 819.0L535.9 819.0L536.4 819.0L536.9 818.9L537.4 818.9L537.9 818.9L538.4 818.9L538.9 818.9L539.4 818.8L539.9 818.8L540.4 818.8L540.9 818.8L541.4 818.7L541.9 818.7L542.4 818.7L542.9 818.7L543.4 818.6L543.9 818.6L544.4 818.6L544.9 818.6L545.4 818.5L545.9 818.5L546.4 818.5L546.9 818.5L547.4 818.5L547.9 818.4L548.4 818.4L548.9 818.4L549.4 818.4L549.9 818.3L550.4 818.3L550.9 818.3L551.4 818.3L551.9 818.3L552.4 818.2L552.9 818.2L553.4 818.2L553.9 818.2L554.4 818.1L554.9 818.1L555.4 818.1L555.9 818.1L556.4 818.1L556.9 818.0L557.4 818.0L557.9 818.0L558.4 818.0L558.9 818.0L559.4 817.9L559.9 817.9L560.4 817.9L560.9 817.9L561.4 817.9L561.9 817.9L562.4 817.8L562.9 817.8L563.4 817.8L563.9 817.8L564.4 817.8L564.9 817.7L565.4 817.7L565.9 817.7L566.4 817.7L566.9 817.7L567.4 817.7L567.9 817.7L568.4 817.6L568.9 817.6L569.4 817.6L569.9 817.6L570.4 817.6L570.9 817.6L571.4 817.6L571.9 817.5L572.4 817.5L572.9 817.5L573.4 817.5L573.9 817.5L574.4 817.5L574.9 817.5L575.4 817.5L575.9 817.4L576.4 817.4L576.9 817.4L577.4 817.4L577.9 817.4L578.4 817.4L578.9 817.4L579.4 817.4L579.9 817.4L580.4 817.3L580.9 817.3L581.4 817.3L581.9 817.3L582.4 817.3L582.9 817.3L583.4 817.3L583.9 817.3L584.4 817.3L584.9 817.3L585.4 817.3L585.9 817.2L586.4 817.2L586.9 817.2L587.4 817.2L587.9 817.2L588.4 817.2L588.9 817.2L589.4 817.2L589.9 817.2L590.4 817.2L590.9 817.2L591.4 817.2L591.9 817.2L592.4 817.2L592.9 817.2L593.4 817.1L593.9 817.1L594.4 817.1L594.9 817.1L595.4 817.1L595.9 817.1L596.4 817.1L596.9 817.1L597.4 817.1L597.9 817.1L598.4 817.1L598.9 817.1L599.4 817.1L599.9 817.1L600.4 817.1L600.9 817.1L601.4 817.1L601.9 817.1L602.4 817.1L602.9 817.1L603.4 817.1L603.9 817.0L604.4 817.0L604.9 817.0L605.4 817.0L605.9 817.0L606.4 817.0L606.9 817.0L607.4 817.0L607.9 817.0L608.4 817.0L608.9 817.0L609.4 817.0L609.9 817.0L610.4 817.0L610.9 817.0L611.4 817.0L611.9 817.0L612.4 817.0L612.9 817.0L613.4 817.0L613.9 817.0L614.4 817.0L614.9 817.0" fill="none" stroke="#2a962a" stroke-width="1.5" stroke-linejoin="round" stroke-linecap="round" />
<path d="M367.4 820.7L367.9 820.7L368.4 820.7L368.9 820.7L369.4 820.7L369.9 820.7L370.4 820.7L370.9 820.7L371.4 820.7L371.9 820.7L372.4 820.7L372.9 820.7L373.4 820.7L373.9 820.7L374.4 820.7L374.9 820.7L375.4 820.7L375.9 820.7L376.4 820.7L376.9 820.7L377.4 820.7L377.9 820.7L378.4 820.7L378.9 820.7L379.4 820.7L379.9 820.7L380.4 820.6L380.9 820.6L381.4 820.6L381.9 820.6L382.4 820.6L382.9 820.6L383.4 820.6L383.9 820.6L384.4 820.6L384.9 820.6L385.4 820.6L385.9 820.6L386.4 820.6L386.9 820.6L387.4 820.6L387.9 820.6L388.4 820.6L388.9 820.6L389.4 820.6L389.9 820.6L390.4 820.6L390.9 820.6L391.4 820.6L391.9 820.6L392.4 820.6L392.9 820.6L393.4 820.6L393.9 820.6L394.4 820.6L394.9 820.6L395.4 820.6L395.9 820.6L396.4 820.6L396.9 820.6L397.4 820.6L397.9 820.5L398.4 820.5L398.9 820.5L399.4 820.5L399.9 820.5L400.4 820.5L400.9 820.5L401.4 820.5L401.9 820.5L402.4 820.5L402.9 820.5L403.4 820.5L403.9 820.5L404.4 820.5L404.9 820.5L405.4 820.5L405.9 820.5L406.4 820.5L406.9 820.4L407.4 820.4L407.9 820.4L408.4 820.4L408.9 820.4L409.4 820.4L409.9 820.4L410.4 820.4L410.9 820.4L411.4 820.4L411.9 820.4L412.4 820.3L412.9 820.3L413.4 820.3L413.9 820.3L414.4 820.3L414.9 820.3L415.4 820.3L415.9 820.3L416.4 820.3L416.9 820.2L417.4 820.2L417.9 820.2L418.4 820.2L418.9 820.2L419.4 820.2L419.9 820.2L420.4 820.2L420.9 820.1L421.4 820.1L421.9 820.1L422.4 820.1L422.9 820.1L423.4 820.1L423.9 820.0L424.4 820.0L424.9 820.0L425.4 820.0L425.9 820.0L426.4 819.9L426.9 819.9L427.4 819.9L427.9 819.9L428.4 819.9L428.9 819.8L429.4 819.8L429.9 819.8L430.4 819.8L430.9 819.7L431.4 819.7L431.9 819.7L432.4 819.6L432.9 819.6L433.4 819.6L433.9 819.6L434.4 819.5L434.9 819.5L435.4 819.5L435.9 819.4L436.4 819.4L436.9 819.4L437.4 819.3L437.9 819.3L438.4 819.2L438.9 819.2L439.4 819.2L439.9 819.1L440.4 819.1L440.9 819.0L441.4 819.0L441.9 818.9L442.4 818.9L442.9 818.8L443.4 818.8L443.9 818.7L444.4 818.7L444.9 818.6L445.4 818.5L445.9 818.5L446.4 818.4L446.9 818.3L447.4 818.3L447.9 818.2L448.4 818.1L448.9 818.0L449.4 818.0L449.9 817.9L450.4 817.8L450.9 817.7L451.4 817.6L451.9 817.5L452.4 817.4L452.9 817.3L453.4 817.2L453.9 817.1L454.4 817.0L454.9 816.8L455.4 816.7L455.9 816.6L456.4 816.5L456.9 816.3L457.4 816.2L457.9 816.0L458.4 815.9L458.9 815.7L459.4 815.5L459.9 815.3L460.4 815.1L460.9 815.0L461.4 814.8L461.9 814.5L462.4 814.3L462.9 814.1L463.4 813.9L463.9 813.6L464.4 813.4L464.9 813.1L465.4 812.8L465.9 812.5L466.4 812.2L466.9 811.9L467.4 811.6L467.9 811.3L468.4 810.9L468.9 810.5L469.4 810.2L469.9 809.8L470.4 809.4L470.9 808.9L471.4 808.5L471.9 808.0L472.4 807.6L472.9 807.1L473.4 806.6L473.9 806.1L474.4 805.5L474.9 804.9L475.4 804.4L475.9 803.8L476.4 803.1L476.9 802.5L477.4 801.8L477.9 801.1L478.4 800.4L478.9 799.7L479.4 798.9L479.9 798.1L480.4 797.3L480.9 796.5L481.4 795.6L481.9 794.8L482.4 793.8L482.9 792.9L483.4 792.0L483.9 791.0L484.4 790.0L484.9 788.9L485.4 787.8L485.9 786.7L486.4 785.6L486.9 784.5L487.4 783.3L487.9 782.1L488.4 780.8L488.9 779.6L489.4 778.3L489.9 777.0L490.4 775.6L490.9 774.3L491.4 772.9L491.9 771.4L492.4 770.0L492.9 768.5L493.4 767.0L493.9 765.5L494.4 763.9L494.9 762.4L495.4 760.8L495.9 759.1L496.4 757.5L496.9 755.8L497.4 754.2L497.9 752.5L498.4 750.8L498.9 749.0L499.4 747.3L499.9 745.5L500.4 743.8L500.9 742.0L501.4 740.2L501.9 738.4L502.4 736.6L502.9 734.8L503.4 733.0L503.9 731.2L504.4 729.4L504.9 727.7L505.4 725.9L505.9 724.1L506.4 722.4L506.9 720.6L507.4 718.9L507.9 717.2L508.4 715.5L508.9 713.9L509.4 712.3L509.9 710.7L510.4 709.2L510.9 707.7L511.4 706.2L511.9 704.8L512.4 703.5L512.9 702.2L513.4 701.0L513.9 699.8L514.4 698.7L514.9 697.6L515.4 696.7L515.9 695.8L516.4 694.9L516.9 694.2L517.4 693.5L517.9 693.0L518.4 692.5L518.9 692.1L519.4 691.8L519.9 691.5L520.4 691.4L520.9 691.3L521.4 691.4L521.9 691.5L522.4 691.7L522.9 692.1L523.4 692.5L523.9 693.0L524.4 693.5L524.9 694.2L525.4 694.9L525.9 695.7L526.4 696.6L526.9 697.6L527.4 698.6L527.9 699.7L528.4 700.9L528.9 702.1L529.4 703.4L529.9 704.7L530.4 706.1L530.9 707.5L531.4 709.0L531.9 710.5L532.4 712.1L532.9 713.6L533.4 715.3L533.9 716.9L534.4 718.6L534.9 720.3L535.4 722.0L535.9 723.7L536.4 725.4L536.9 727.2L537.4 728.9L537.9 730.7L538.4 732.4L538.9 734.2L539.4 736.0L539.9 737.7L540.4 739.5L540.9 741.2L541.4 743.0L541.9 744.7L542.4 746.4L542.9 748.1L543.4 749.8L543.9 751.5L544.4 753.1L544.9 754.8L545.4 756.4L545.9 758.0L546.4 759.6L546.9 761.1L547.4 762.7L547.9 764.2L548.4 765.6L548.9 767.1L549.4 768.5L549.9 770.0L550.4 771.3L550.9 772.7L551.4 774.0L551.9 775.3L552.4 776.6L552.9 777.9L553.4 779.1L553.9 780.3L554.4 781.5L554.9 782.6L555.4 783.7L555.9 784.8L556.4 785.9L556.9 786.9L557.4 787.9L557.9 788.9L558.4 789.8L558.9 790.8L559.4 791.7L559.9 792.5L560.4 793.4L560.9 794.2L561.4 795.0L561.9 795.8L562.4 796.5L562.9 797.3L563.4 798.0L563.9 798.7L564.4 799.3L564.9 799.9L565.4 800.6L565.9 801.2L566.4 801.7L566.9 802.3L567.4 802.8L567.9 803.4L568.4 803.9L568.9 804.3L569.4 804.8L569.9 805.2L570.4 805.7L570.9 806.1L571.4 806.5L571.9 806.9L572.4 807.2L572.9 807.6L573.4 807.9L573.9 808.3L574.4 808.6L574.9 808.9L575.4 809.2L575.9 809.5L576.4 809.7L576.9 810.0L577.4 810.3L577.9 810.5L578.4 810.7L578.9 810.9L579.4 811.2L579.9 811.4L580.4 811.6L580.9 811.7L581.4 811.9L581.9 812.1L582.4 812.3L582.9 812.4L583.4 812.6L583.9 812.7L584.4 812.9L584.9 813.0L585.4 813.1L585.9 813.2L586.4 813.4L586.9 813.5L587.4 813.6L587.9 813.7L588.4 813.8L588.9 813.9L589.4 814.0L589.9 814.1L590.4 814.2L590.9 814.3L591.4 814.3L591.9 814.4L592.4 814.5L592.9 814.6L593.4 814.6L593.9 814.7L594.4 814.8L594.9 814.8L595.4 814.9L595.9 815.0L596.4 815.0L596.9 815.1L597.4 815.1L597.9 815.2L598.4 815.2L598.9 815.3L599.4 815.3L599.9 815.4L600.4 815.4L600.9 815.4L601.4 815.5L601.9 815.5L602.4 815.6L602.9 815.6L603.4 815.6L603.9 815.7L604.4 815.7L604.9 815.7L605.4 815.8L605.9 815.8L606.4 815.8L606.9 815.9L607.4 815.9L607.9 815.9L608.4 815.9L608.9 816.0L609.4 816.0L609.9 816.0L610.4 816.0L610.9 816.1L611.4 816.1L611.9 816.1L612.4 816.1L612.9 816.2L613.4 816.2L613.9 816.2L614.4 816.2L614.9 816.2" fill="none" stroke="#8e22a8" stroke-width="1.5" stroke-linejoin="round" stroke-linecap="round" />
<path d="M367.4 820.7L367.9 820.7L368.4 820.7L368.9 820.7L369.4 820.7L369.9 820.7L370.4 820.7L370.9 820.7L371.4 820.7L371.9 820.7L372.4 820.7L372.9 820.7L373.4 820.7L373.9 820.7L374.4 820.7L374.9 820.7L375.4 820.7L375.9 820.7L376.4 820.7L376.9 820.7L377.4 820.7L377.9 820.7L378.4 820.7L378.9 820.7L379.4 820.7L379.9 820.7L380.4 820.7L380.9 820.7L381.4 820.7L381.9 820.7L382.4 820.7L382.9 820.7L383.4 820.7L383.9 820.7L384.4 820.7L384.9 820.7L385.4 820.7L385.9 820.7L386.4 820.7L386.9 820.7L387.4 820.7L387.9 820.7L388.4 820.7L388.9 820.7L389.4 820.7L389.9 820.7L390.4 820.7L390.9 820.7L391.4 820.7L391.9 820.7L392.4 820.7L392.9 820.7L393.4 820.7L393.9 820.7L394.4 820.7L394.9 820.7L395.4 820.7L395.9 820.7L396.4 820.7L396.9 820.7L397.4 820.7L397.9 820.7L398.4 820.7L398.9 820.7L399.4 820.7L399.9 820.7L400.4 820.7L400.9 820.7L401.4 820.7L401.9 820.7L402.4 820.7L402.9 820.7L403.4 820.7L403.9 820.7L404.4 820.7L404.9 820.7L405.4 820.7L405.9 820.7L406.4 820.7L406.9 820.7L407.4 820.7L407.9 820.7L408.4 820.7L408.9 820.7L409.4 820.7L409.9 820.7L410.4 820.7L410.9 820.7L411.4 820.7L411.9 820.7L412.4 820.7L412.9 820.7L413.4 820.7L413.9 820.7L414.4 820.7L414.9 820.7L415.4 820.7L415.9 820.7L416.4 820.7L416.9 820.7L417.4 820.7L417.9 820.7L418.4 820.7L418.9 820.7L419.4 820.7L419.9 820.7L420.4 820.7L420.9 820.7L421.4 820.7L421.9 820.7L422.4 820.7L422.9 820.7L423.4 820.7L423.9 820.7L424.4 820.7L424.9 820.7L425.4 820.7L425.9 820.7L426.4 820.6L426.9 820.6L427.4 820.6L427.9 820.6L428.4 820.6L428.9 820.6L429.4 820.6L429.9 820.6L430.4 820.6L430.9 820.6L431.4 820.6L431.9 820.6L432.4 820.6L432.9 820.6L433.4 820.6L433.9 820.6L434.4 820.6L434.9 820.6L435.4 820.6L435.9 820.6L436.4 820.6L436.9 820.6L437.4 820.6L437.9 820.6L438.4 820.6L438.9 820.6L439.4 820.6L439.9 820.6L440.4 820.6L440.9 820.6L441.4 820.6L441.9 820.6L442.4 820.6L442.9 820.6L443.4 820.6L443.9 820.6L444.4 820.6L444.9 820.5L445.4 820.5L445.9 820.5L446.4 820.5L446.9 820.5L447.4 820.5L447.9 820.5L448.4 820.5L448.9 820.5L449.4 820.5L449.9 820.5L450.4 820.5L450.9 820.5L451.4 820.5L451.9 820.5L452.4 820.5L452.9 820.5L453.4 820.4L453.9 820.4L454.4 820.4L454.9 820.4L455.4 820.4L455.9 820.4L456.4 820.4L456.9 820.4L457.4 820.4L457.9 820.4L458.4 820.4L458.9 820.3L459.4 820.3L459.9 820.3L460.4 820.3L460.9 820.3L461.4 820.3L461.9 820.3L462.4 820.3L462.9 820.3L463.4 820.2L463.9 820.2L464.4 820.2L464.9 820.2L465.4 820.2L465.9 820.2L466.4 820.1L466.9 820.1L467.4 820.1L467.9 820.1L468.4 820.1L468.9 820.1L469.4 820.0L469.9 820.0L470.4 820.0L470.9 820.0L471.4 819.9L471.9 819.9L472.4 819.9L472.9 819.9L473.4 819.8L473.9 819.8L474.4 819.8L474.9 819.7L475.4 819.7L475.9 819.7L476.4 819.6L476.9 819.6L477.4 819.5L477.9 819.5L478.4 819.5L478.9 819.4L479.4 819.4L479.9 819.3L480.4 819.2L480.9 819.2L481.4 819.1L481.9 819.1L482.4 819.0L482.9 818.9L483.4 818.9L483.9 818.8L484.4 818.7L484.9 818.6L485.4 818.5L485.9 818.4L486.4 818.3L486.9 818.2L487.4 818.1L487.9 818.0L488.4 817.9L488.9 817.7L489.4 817.6L489.9 817.5L490.4 817.3L490.9 817.2L491.4 817.0L491.9 816.8L492.4 816.6L492.9 816.5L493.4 816.3L493.9 816.1L494.4 815.8L494.9 815.6L495.4 815.4L495.9 815.1L496.4 814.9L496.9 814.6L497.4 814.3L497.9 814.0L498.4 813.7L498.9 813.4L499.4 813.1L499.9 812.8L500.4 812.4L500.9 812.0L501.4 811.6L501.9 811.2L502.4 810.8L502.9 810.4L503.4 809.9L503.9 809.5L504.4 809.0L504.9 808.5L505.4 808.0L505.9 807.5L506.4 806.9L506.9 806.4L507.4 805.8L507.9 805.2L508.4 804.6L508.9 803.9L509.4 803.3L509.9 802.6L510.4 801.9L510.9 801.2L511.4 800.5L511.9 799.7L512.4 799.0L512.9 798.2L513.4 797.4L513.9 796.6L514.4 795.8L514.9 794.9L515.4 794.1L515.9 793.2L516.4 792.3L516.9 791.4L517.4 790.5L517.9 789.6L518.4 788.6L518.9 787.7L519.4 786.7L519.9 785.8L520.4 784.8L520.9 783.8L521.4 782.8L521.9 781.8L522.4 780.8L522.9 779.8L523.4 778.8L523.9 777.8L524.4 776.8L524.9 775.8L525.4 774.8L525.9 773.8L526.4 772.8L526.9 771.8L527.4 770.8L527.9 769.9L528.4 768.9L528.9 768.0L529.4 767.1L529.9 766.2L530.4 765.3L530.9 764.5L531.4 763.6L531.9 762.8L532.4 762.0L532.9 761.3L533.4 760.6L533.9 759.9L534.4 759.3L534.9 758.6L535.4 758.1L535.9 757.5L536.4 757.1L536.9 756.6L537.4 756.2L537.9 755.9L538.4 755.6L538.9 755.3L539.4 755.1L539.9 754.9L540.4 754.8L540.9 754.8L541.4 754.7L541.9 754.8L542.4 754.9L542.9 755.0L543.4 755.2L543.9 755.5L544.4 755.7L544.9 756.1L545.4 756.5L545.9 756.9L546.4 757.3L546.9 757.9L547.4 758.4L547.9 759.0L548.4 759.6L548.9 760.3L549.4 761.0L549.9 761.7L550.4 762.4L550.9 763.2L551.4 764.0L551.9 764.8L552.4 765.7L552.9 766.5L553.4 767.4L553.9 768.3L554.4 769.2L554.9 770.2L555.4 771.1L555.9 772.0L556.4 773.0L556.9 774.0L557.4 774.9L557.9 775.9L558.4 776.8L558.9 777.8L559.4 778.8L559.9 779.7L560.4 780.7L560.9 781.7L561.4 782.6L561.9 783.6L562.4 784.5L562.9 785.4L563.4 786.3L563.9 787.2L564.4 788.1L564.9 789.0L565.4 789.9L565.9 790.8L566.4 791.6L566.9 792.4L567.4 793.2L567.9 794.0L568.4 794.8L568.9 795.6L569.4 796.4L569.9 797.1L570.4 797.8L570.9 798.5L571.4 799.2L571.9 799.9L572.4 800.5L572.9 801.1L573.4 801.8L573.9 802.4L574.4 802.9L574.9 803.5L575.4 804.0L575.9 804.6L576.4 805.1L576.9 805.6L577.4 806.1L577.9 806.5L578.4 807.0L578.9 807.4L579.4 807.8L579.9 808.2L580.4 808.6L580.9 809.0L581.4 809.3L581.9 809.7L582.4 810.0L582.9 810.3L583.4 810.6L583.9 810.9L584.4 811.2L584.9 811.5L585.4 811.7L585.9 812.0L586.4 812.2L586.9 812.4L587.4 812.6L587.9 812.8L588.4 813.0L588.9 813.2L589.4 813.4L589.9 813.6L590.4 813.7L590.9 813.9L591.4 814.0L591.9 814.2L592.4 814.3L592.9 814.4L593.4 814.5L593.9 814.6L594.4 814.7L594.9 814.8L595.4 814.9L595.9 815.0L596.4 815.1L596.9 815.2L597.4 815.3L597.9 815.4L598.4 815.4L598.9 815.5L599.4 815.6L599.9 815.6L600.4 815.7L600.9 815.7L601.4 815.8L601.9 815.8L602.4 815.9L602.9 815.9L603.4 816.0L603.9 816.0L604.4 816.0L604.9 816.1L605.4 816.1L605.9 816.1L606.4 816.2L606.9 816.2L607.4 816.2L607.9 816.2L608.4 816.3L608.9 816.3L609.4 816.3L609.9 816.3L610.4 816.4L610.9 816.4L611.4 816.4L611.9 816.4L612.4 816.4L612.9 816.5L613.4 816.5L613.9 816.5L614.4 816.5L614.9 816.5" fill="none" stroke="#e8201c" stroke-width="1.6" stroke-linejoin="round" stroke-linecap="round" />
<path d="M367.7 824.2L370.1 826.8L372.5 819.0L374.9 818.2L377.3 817.5L379.7 820.6L382.1 820.9L384.5 819.9L386.9 822.8L389.3 818.5L391.7 819.0L394.1 817.3L396.5 824.2L398.9 823.4L401.3 824.0L403.7 818.4L406.1 824.0L408.5 821.3L410.9 822.4L413.3 822.0L415.7 819.7L418.1 820.1L420.5 816.5L422.9 819.0L425.3 819.8L427.7 817.4L430.1 820.6L432.5 823.6L434.9 819.0L437.3 817.7L439.7 817.9L442.1 820.5L444.5 824.4L446.9 820.1L449.3 819.6L451.7 815.9L454.1 819.5L456.5 819.7L458.9 816.2L461.3 816.1L463.7 813.1L466.1 814.9L468.5 814.2L470.9 808.9L473.3 805.8L475.7 800.5L478.1 793.9L480.5 788.0L482.9 782.6L485.3 777.0L487.7 769.0L490.1 763.5L492.5 754.3L494.9 747.4L497.3 736.7L499.7 725.1L502.1 717.3L504.5 704.4L506.9 704.8L509.3 691.2L511.7 684.4L514.1 683.3L516.5 669.5L518.9 664.9L521.3 661.3L523.7 652.0L526.1 640.7L528.5 651.0L530.9 654.1L533.3 653.9L535.7 659.6L538.1 662.6L540.5 672.3L542.9 682.5L545.3 684.9L547.7 699.3L550.1 711.3L552.5 717.0L554.9 726.2L557.3 743.8L559.7 751.1L562.1 763.9L564.5 770.0L566.9 777.4L569.3 783.1L571.7 789.9L574.1 792.2L576.5 797.3L578.9 804.1L581.3 804.2L583.7 808.5L586.1 809.1L588.5 809.7L590.9 809.3L593.3 815.2L595.7 812.3L598.1 816.6L600.5 812.6L602.9 818.3L605.3 819.2L607.7 816.8L610.1 814.5L612.5 818.4" fill="none" stroke="#111111" stroke-width="1.6" stroke-linejoin="round" stroke-linecap="round" />
<path d="M367.4 820.7L367.9 820.7L368.4 820.7L368.9 820.7L369.4 820.7L369.9 820.7L370.4 820.7L370.9 820.7L371.4 820.7L371.9 820.7L372.4 820.7L372.9 820.7L373.4 820.7L373.9 820.7L374.4 820.7L374.9 820.7L375.4 820.7L375.9 820.7L376.4 820.7L376.9 820.7L377.4 820.7L377.9 820.7L378.4 820.7L378.9 820.7L379.4 820.7L379.9 820.7L380.4 820.7L380.9 820.7L381.4 820.7L381.9 820.7L382.4 820.7L382.9 820.7L383.4 820.7L383.9 820.7L384.4 820.7L384.9 820.7L385.4 820.7L385.9 820.7L386.4 820.7L386.9 820.7L387.4 820.7L387.9 820.7L388.4 820.7L388.9 820.7L389.4 820.7L389.9 820.7L390.4 820.7L390.9 820.7L391.4 820.7L391.9 820.7L392.4 820.7L392.9 820.7L393.4 820.7L393.9 820.7L394.4 820.7L394.9 820.7L395.4 820.7L395.9 820.7L396.4 820.7L396.9 820.7L397.4 820.7L397.9 820.7L398.4 820.7L398.9 820.7L399.4 820.7L399.9 820.7L400.4 820.7L400.9 820.7L401.4 820.7L401.9 820.7L402.4 820.7L402.9 820.7L403.4 820.6L403.9 820.6L404.4 820.6L404.9 820.6L405.4 820.6L405.9 820.6L406.4 820.6L406.9 820.6L407.4 820.6L407.9 820.6L408.4 820.6L408.9 820.6L409.4 820.6L409.9 820.6L410.4 820.6L410.9 820.6L411.4 820.6L411.9 820.6L412.4 820.6L412.9 820.6L413.4 820.6L413.9 820.6L414.4 820.6L414.9 820.6L415.4 820.6L415.9 820.6L416.4 820.6L416.9 820.6L417.4 820.6L417.9 820.6L418.4 820.6L418.9 820.6L419.4 820.6L419.9 820.6L420.4 820.6L420.9 820.5L421.4 820.5L421.9 820.5L422.4 820.5L422.9 820.5L423.4 820.5L423.9 820.5L424.4 820.5L424.9 820.5L425.4 820.5L425.9 820.5L426.4 820.5L426.9 820.5L427.4 820.5L427.9 820.5L428.4 820.5L428.9 820.4L429.4 820.4L429.9 820.4L430.4 820.4L430.9 820.4L431.4 820.4L431.9 820.4L432.4 820.4L432.9 820.4L433.4 820.4L433.9 820.4L434.4 820.3L434.9 820.3L435.4 820.3L435.9 820.3L436.4 820.3L436.9 820.3L437.4 820.3L437.9 820.2L438.4 820.2L438.9 820.2L439.4 820.2L439.9 820.2L440.4 820.1L440.9 820.1L441.4 820.1L441.9 820.1L442.4 820.1L442.9 820.0L443.4 820.0L443.9 820.0L444.4 819.9L444.9 819.9L445.4 819.9L445.9 819.8L446.4 819.8L446.9 819.7L447.4 819.7L447.9 819.6L448.4 819.6L448.9 819.5L449.4 819.5L449.9 819.4L450.4 819.3L450.9 819.3L451.4 819.2L451.9 819.1L452.4 819.0L452.9 818.9L453.4 818.8L453.9 818.7L454.4 818.6L454.9 818.5L455.4 818.4L455.9 818.3L456.4 818.1L456.9 818.0L457.4 817.8L457.9 817.6L458.4 817.5L458.9 817.3L459.4 817.1L459.9 816.9L460.4 816.6L460.9 816.4L461.4 816.2L461.9 815.9L462.4 815.6L462.9 815.3L463.4 815.0L463.9 814.7L464.4 814.3L464.9 814.0L465.4 813.6L465.9 813.2L466.4 812.8L466.9 812.3L467.4 811.9L467.9 811.4L468.4 810.9L468.9 810.4L469.4 809.8L469.9 809.2L470.4 808.6L470.9 808.0L471.4 807.3L471.9 806.6L472.4 805.9L472.9 805.2L473.4 804.4L473.9 803.6L474.4 802.8L474.9 801.9L475.4 801.0L475.9 800.1L476.4 799.1L476.9 798.1L477.4 797.1L477.9 796.0L478.4 795.0L478.9 793.8L479.4 792.7L479.9 791.5L480.4 790.3L480.9 789.0L481.4 787.8L481.9 786.5L482.4 785.1L482.9 783.7L483.4 782.3L483.9 780.9L484.4 779.4L484.9 777.9L485.4 776.4L485.9 774.9L486.4 773.3L486.9 771.7L487.4 770.1L487.9 768.4L488.4 766.8L488.9 765.1L489.4 763.4L489.9 761.7L490.4 759.9L490.9 758.1L491.4 756.4L491.9 754.6L492.4 752.8L492.9 751.0L493.4 749.1L493.9 747.3L494.4 745.5L494.9 743.6L495.4 741.8L495.9 739.9L496.4 738.0L496.9 736.2L497.4 734.3L497.9 732.5L498.4 730.6L498.9 728.8L499.4 726.9L499.9 725.1L500.4 723.3L500.9 721.4L501.4 719.6L501.9 717.8L502.4 716.0L502.9 714.2L503.4 712.5L503.9 710.7L504.4 709.0L504.9 707.3L505.4 705.5L505.9 703.8L506.4 702.2L506.9 700.5L507.4 698.9L507.9 697.2L508.4 695.6L508.9 694.0L509.4 692.5L509.9 690.9L510.4 689.4L510.9 687.9L511.4 686.4L511.9 684.9L512.4 683.4L512.9 682.0L513.4 680.6L513.9 679.2L514.4 677.8L514.9 676.5L515.4 675.1L515.9 673.8L516.4 672.6L516.9 671.3L517.4 670.1L517.9 668.9L518.4 667.7L518.9 666.6L519.4 665.5L519.9 664.4L520.4 663.3L520.9 662.3L521.4 661.3L521.9 660.4L522.4 659.5L522.9 658.6L523.4 657.8L523.9 657.1L524.4 656.3L524.9 655.7L525.4 655.0L525.9 654.5L526.4 654.0L526.9 653.5L527.4 653.2L527.9 652.8L528.4 652.6L528.9 652.4L529.4 652.3L529.9 652.3L530.4 652.3L530.9 652.5L531.4 652.7L531.9 652.9L532.4 653.3L532.9 653.8L533.4 654.3L533.9 654.9L534.4 655.6L534.9 656.4L535.4 657.3L535.9 658.3L536.4 659.3L536.9 660.4L537.4 661.6L537.9 662.9L538.4 664.3L538.9 665.7L539.4 667.2L539.9 668.8L540.4 670.4L540.9 672.1L541.4 673.9L541.9 675.7L542.4 677.6L542.9 679.5L543.4 681.5L543.9 683.5L544.4 685.6L544.9 687.7L545.4 689.8L545.9 692.0L546.4 694.1L546.9 696.4L547.4 698.6L547.9 700.8L548.4 703.1L548.9 705.4L549.4 707.7L549.9 710.0L550.4 712.3L550.9 714.5L551.4 716.8L551.9 719.1L552.4 721.4L552.9 723.7L553.4 726.0L553.9 728.2L554.4 730.4L554.9 732.7L555.4 734.9L555.9 737.0L556.4 739.2L556.9 741.3L557.4 743.5L557.9 745.5L558.4 747.6L558.9 749.6L559.4 751.6L559.9 753.6L560.4 755.5L560.9 757.4L561.4 759.3L561.9 761.1L562.4 762.9L562.9 764.7L563.4 766.4L563.9 768.1L564.4 769.8L564.9 771.4L565.4 773.0L565.9 774.5L566.4 776.0L566.9 777.5L567.4 778.9L567.9 780.3L568.4 781.7L568.9 783.0L569.4 784.3L569.9 785.5L570.4 786.7L570.9 787.9L571.4 789.0L571.9 790.1L572.4 791.2L572.9 792.2L573.4 793.2L573.9 794.2L574.4 795.1L574.9 796.0L575.4 796.9L575.9 797.7L576.4 798.5L576.9 799.3L577.4 800.0L577.9 800.7L578.4 801.4L578.9 802.1L579.4 802.7L579.9 803.3L580.4 803.9L580.9 804.5L581.4 805.0L581.9 805.5L582.4 806.0L582.9 806.5L583.4 807.0L583.9 807.4L584.4 807.8L584.9 808.2L585.4 808.6L585.9 809.0L586.4 809.3L586.9 809.6L587.4 810.0L587.9 810.3L588.4 810.6L588.9 810.8L589.4 811.1L589.9 811.3L590.4 811.6L590.9 811.8L591.4 812.0L591.9 812.2L592.4 812.4L592.9 812.6L593.4 812.8L593.9 813.0L594.4 813.1L594.9 813.3L595.4 813.4L595.9 813.6L596.4 813.7L596.9 813.8L597.4 813.9L597.9 814.1L598.4 814.2L598.9 814.3L599.4 814.4L599.9 814.5L600.4 814.6L600.9 814.6L601.4 814.7L601.9 814.8L602.4 814.9L602.9 815.0L603.4 815.0L603.9 815.1L604.4 815.1L604.9 815.2L605.4 815.3L605.9 815.3L606.4 815.4L606.9 815.4L607.4 815.5L607.9 815.5L608.4 815.6L608.9 815.6L609.4 815.6L609.9 815.7L610.4 815.7L610.9 815.8L611.4 815.8L611.9 815.8L612.0 813.4L614.2 811.9L616.4 811.4L618.6 815.0L620.8 812.5L623.0 811.7L625.2 814.5L627.4 812.4L629.6 810.8L631.8 814.3L634.0 811.4L636.2 814.2L638.4 810.4L640.6 812.6L642.8 814.6L645.0 812.7L647.2 812.7L649.4 812.5L651.6 813.4L653.8 811.5L656.0 812.2L658.2 810.6L660.4 815.4L662.6 808.9L664.8 812.7L667.0 808.5L669.2 811.8L671.4 813.5L673.6 807.9L675.8 814.3L678.0 808.0" fill="none" stroke="#1212e6" stroke-width="2.0" stroke-linejoin="round" stroke-linecap="round" />
<text x="512.84" y="633.40" font-family="Liberation Sans" font-weight="bold" font-size="14.30" textLength="29.41" lengthAdjust="spacingAndGlyphs" fill="#141414" >O 1s</text>
<text x="452.49" y="681.30" font-family="Liberation Sans" font-weight="bold" font-size="14.30" textLength="31.78" lengthAdjust="spacingAndGlyphs" fill="#141414" >Zn-O</text>
<text x="430.78" y="699.10" font-family="Liberation Sans" font-weight="bold" font-size="14.30" textLength="75.54" lengthAdjust="spacingAndGlyphs" fill="#141414" >(531.50 eV)</text>
<text x="560.87" y="741.80" font-family="Liberation Sans" font-weight="bold" font-size="14.30" textLength="109.99" lengthAdjust="spacingAndGlyphs" fill="#141414" >Zn-OH/Mo-O-Mo</text>
<text x="578.99" y="760.00" font-family="Liberation Sans" font-weight="bold" font-size="14.30" textLength="74.62" lengthAdjust="spacingAndGlyphs" fill="#141414" >(530.65 eV)</text>
<path d="M20.70 1143.10 V890.80 H335.60 V1143.10" fill="none" stroke="#666" stroke-width="1.65" stroke-linejoin="miter"/>
<path d="M19.90 1143.10 H336.40" fill="none" stroke="#2e2e2e" stroke-width="1.25"/>
<path d="M49.33 1143.10 V1148.00 M106.58 1143.10 V1148.00 M163.84 1143.10 V1148.00 M221.09 1143.10 V1148.00 M278.35 1143.10 V1148.00 M335.60 1143.10 V1148.00 M20.70 1143.10 V1145.70 M77.95 1143.10 V1145.70 M135.21 1143.10 V1145.70 M192.46 1143.10 V1145.70 M249.72 1143.10 V1145.70 M306.97 1143.10 V1145.70 " stroke="#3c3c3c" stroke-width="1.3" fill="none"/>
<text x="38.67" y="1161.50" font-family="Liberation Sans" font-weight="bold" font-size="12.70" textLength="21.19" lengthAdjust="spacingAndGlyphs" fill="#141414" >404</text>
<text x="96.15" y="1161.50" font-family="Liberation Sans" font-weight="bold" font-size="12.70" textLength="21.19" lengthAdjust="spacingAndGlyphs" fill="#141414" >402</text>
<text x="153.41" y="1161.50" font-family="Liberation Sans" font-weight="bold" font-size="12.70" textLength="21.19" lengthAdjust="spacingAndGlyphs" fill="#141414" >400</text>
<text x="210.55" y="1161.50" font-family="Liberation Sans" font-weight="bold" font-size="12.70" textLength="21.19" lengthAdjust="spacingAndGlyphs" fill="#141414" >398</text>
<text x="267.83" y="1161.50" font-family="Liberation Sans" font-weight="bold" font-size="12.70" textLength="21.19" lengthAdjust="spacingAndGlyphs" fill="#141414" >396</text>
<text x="324.89" y="1161.50" font-family="Liberation Sans" font-weight="bold" font-size="12.70" textLength="21.19" lengthAdjust="spacingAndGlyphs" fill="#141414" >394</text>
<text x="129.97" y="1179.70" font-family="Liberation Sans" font-weight="bold" font-size="14.40" textLength="136.01" lengthAdjust="spacingAndGlyphs" fill="#141414" >Binding energy (eV)</text>
<text transform="translate(12.90,1064.44) rotate(-90)" x="-0.99" y="0" font-family="Liberation Sans" font-weight="bold" font-size="14.80" textLength="96.21" lengthAdjust="spacingAndGlyphs" fill="#141414">Intensity (a.u)</text>
<text x="25.31" y="911.31" font-family="Liberation Serif" font-weight="bold" font-size="20.00" textLength="19.98" lengthAdjust="spacingAndGlyphs" fill="#111" >(f)</text>
<path d="M55.5 1116.6L56.0 1116.6L56.5 1116.6L57.0 1116.6L57.5 1116.6L58.0 1116.6L58.5 1116.6L59.0 1116.6L59.5 1116.6L60.0 1116.6L60.5 1116.6L61.0 1116.6L61.5 1116.6L62.0 1116.6L62.5 1116.6L63.0 1116.6L63.5 1116.6L64.0 1116.6L64.5 1116.6L65.0 1116.6L65.5 1116.6L66.0 1116.6L66.5 1116.6L67.0 1116.6L67.5 1116.6L68.0 1116.6L68.5 1116.6L69.0 1116.6L69.5 1116.6L70.0 1116.6L70.5 1116.6L71.0 1116.6L71.5 1116.6L72.0 1116.6L72.5 1116.6L73.0 1116.6L73.5 1116.6L74.0 1116.6L74.5 1116.6L75.0 1116.6L75.5 1116.6L76.0 1116.6L76.5 1116.6L77.0 1116.6L77.5 1116.6L78.0 1116.6L78.5 1116.6L79.0 1116.6L79.5 1116.6L80.0 1116.6L80.5 1116.6L81.0 1116.6L81.5 1116.6L82.0 1116.6L82.5 1116.6L83.0 1116.6L83.5 1116.6L84.0 1116.6L84.5 1116.6L85.0 1116.6L85.5 1116.6L86.0 1116.7L86.5 1116.7L87.0 1116.7L87.5 1116.7L88.0 1116.7L88.5 1116.7L89.0 1116.7L89.5 1116.7L90.0 1116.7L90.5 1116.7L91.0 1116.7L91.5 1116.7L92.0 1116.7L92.5 1116.7L93.0 1116.7L93.5 1116.7L94.0 1116.7L94.5 1116.7L95.0 1116.7L95.5 1116.7L96.0 1116.7L96.5 1116.7L97.0 1116.7L97.5 1116.7L98.0 1116.7L98.5 1116.7L99.0 1116.7L99.5 1116.7L100.0 1116.7L100.5 1116.7L101.0 1116.8L101.5 1116.8L102.0 1116.8L102.5 1116.8L103.0 1116.8L103.5 1116.8L104.0 1116.8L104.5 1116.8L105.0 1116.8L105.5 1116.8L106.0 1116.8L106.5 1116.8L107.0 1116.8L107.5 1116.8L108.0 1116.8L108.5 1116.8L109.0 1116.8L109.5 1116.8L110.0 1116.8L110.5 1116.8L111.0 1116.9L111.5 1116.9L112.0 1116.9L112.5 1116.9L113.0 1116.9L113.5 1116.9L114.0 1116.9L114.5 1116.9L115.0 1116.9L115.5 1116.9L116.0 1116.9L116.5 1116.9L117.0 1116.9L117.5 1116.9L118.0 1116.9L118.5 1117.0L119.0 1117.0L119.5 1117.0L120.0 1117.0L120.5 1117.0L121.0 1117.0L121.5 1117.0L122.0 1117.0L122.5 1117.0L123.0 1117.0L123.5 1117.0L124.0 1117.0L124.5 1117.0L125.0 1117.1L125.5 1117.1L126.0 1117.1L126.5 1117.1L127.0 1117.1L127.5 1117.1L128.0 1117.1L128.5 1117.1L129.0 1117.1L129.5 1117.1L130.0 1117.2L130.5 1117.2L131.0 1117.2L131.5 1117.2L132.0 1117.2L132.5 1117.2L133.0 1117.2L133.5 1117.2L134.0 1117.2L134.5 1117.2L135.0 1117.3L135.5 1117.3L136.0 1117.3L136.5 1117.3L137.0 1117.3L137.5 1117.3L138.0 1117.3L138.5 1117.3L139.0 1117.4L139.5 1117.4L140.0 1117.4L140.5 1117.4L141.0 1117.4L141.5 1117.4L142.0 1117.4L142.5 1117.5L143.0 1117.5L143.5 1117.5L144.0 1117.5L144.5 1117.5L145.0 1117.5L145.5 1117.5L146.0 1117.6L146.5 1117.6L147.0 1117.6L147.5 1117.6L148.0 1117.6L148.5 1117.6L149.0 1117.6L149.5 1117.7L150.0 1117.7L150.5 1117.7L151.0 1117.7L151.5 1117.7L152.0 1117.7L152.5 1117.8L153.0 1117.8L153.5 1117.8L154.0 1117.8L154.5 1117.8L155.0 1117.9L155.5 1117.9L156.0 1117.9L156.5 1117.9L157.0 1117.9L157.5 1117.9L158.0 1118.0L158.5 1118.0L159.0 1118.0L159.5 1118.0L160.0 1118.0L160.5 1118.1L161.0 1118.1L161.5 1118.1L162.0 1118.1L162.5 1118.1L163.0 1118.2L163.5 1118.2L164.0 1118.2L164.5 1118.2L165.0 1118.2L165.5 1118.3L166.0 1118.3L166.5 1118.3L167.0 1118.3L167.5 1118.3L168.0 1118.4L168.5 1118.4L169.0 1118.4L169.5 1118.4L170.0 1118.5L170.5 1118.5L171.0 1118.5L171.5 1118.5L172.0 1118.5L172.5 1118.6L173.0 1118.6L173.5 1118.6L174.0 1118.6L174.5 1118.7L175.0 1118.7L175.5 1118.7L176.0 1118.7L176.5 1118.8L177.0 1118.8L177.5 1118.8L178.0 1118.8L178.5 1118.8L179.0 1118.9L179.5 1118.9L180.0 1118.9L180.5 1118.9L181.0 1119.0L181.5 1119.0L182.0 1119.0L182.5 1119.0L183.0 1119.1L183.5 1119.1L184.0 1119.1L184.5 1119.1L185.0 1119.2L185.5 1119.2L186.0 1119.2L186.5 1119.2L187.0 1119.2L187.5 1119.3L188.0 1119.3L188.5 1119.3L189.0 1119.3L189.5 1119.4L190.0 1119.4L190.5 1119.4L191.0 1119.4L191.5 1119.5L192.0 1119.5L192.5 1119.5L193.0 1119.5L193.5 1119.5L194.0 1119.6L194.5 1119.6L195.0 1119.6L195.5 1119.6L196.0 1119.7L196.5 1119.7L197.0 1119.7L197.5 1119.7L198.0 1119.8L198.5 1119.8L199.0 1119.8L199.5 1119.8L200.0 1119.8L200.5 1119.9L201.0 1119.9L201.5 1119.9L202.0 1119.9L202.5 1120.0L203.0 1120.0L203.5 1120.0L204.0 1120.0L204.5 1120.0L205.0 1120.1L205.5 1120.1L206.0 1120.1L206.5 1120.1L207.0 1120.1L207.5 1120.2L208.0 1120.2L208.5 1120.2L209.0 1120.2L209.5 1120.2L210.0 1120.3L210.5 1120.3L211.0 1120.3L211.5 1120.3L212.0 1120.3L212.5 1120.4L213.0 1120.4L213.5 1120.4L214.0 1120.4L214.5 1120.4L215.0 1120.4L215.5 1120.5L216.0 1120.5L216.5 1120.5L217.0 1120.5L217.5 1120.5L218.0 1120.6L218.5 1120.6L219.0 1120.6L219.5 1120.6L220.0 1120.6L220.5 1120.6L221.0 1120.7L221.5 1120.7L222.0 1120.7L222.5 1120.7L223.0 1120.7L223.5 1120.7L224.0 1120.7L224.5 1120.8L225.0 1120.8L225.5 1120.8L226.0 1120.8L226.5 1120.8L227.0 1120.8L227.5 1120.8L228.0 1120.9L228.5 1120.9L229.0 1120.9L229.5 1120.9L230.0 1120.9L230.5 1120.9L231.0 1120.9L231.5 1121.0L232.0 1121.0L232.5 1121.0L233.0 1121.0L233.5 1121.0L234.0 1121.0L234.5 1121.0L235.0 1121.0L235.5 1121.1L236.0 1121.1L236.5 1121.1L237.0 1121.1L237.5 1121.1L238.0 1121.1L238.5 1121.1L239.0 1121.1L239.5 1121.1L240.0 1121.1L240.5 1121.2L241.0 1121.2L241.5 1121.2L242.0 1121.2L242.5 1121.2L243.0 1121.2L243.5 1121.2L244.0 1121.2L244.5 1121.2L245.0 1121.2L245.5 1121.3L246.0 1121.3L246.5 1121.3L247.0 1121.3L247.5 1121.3L248.0 1121.3L248.5 1121.3L249.0 1121.3L249.5 1121.3L250.0 1121.3L250.5 1121.3L251.0 1121.3L251.5 1121.3L252.0 1121.4L252.5 1121.4L253.0 1121.4L253.5 1121.4L254.0 1121.4L254.5 1121.4L255.0 1121.4L255.5 1121.4L256.0 1121.4L256.5 1121.4L257.0 1121.4L257.5 1121.4L258.0 1121.4L258.5 1121.4L259.0 1121.4L259.5 1121.5L260.0 1121.5L260.5 1121.5L261.0 1121.5L261.5 1121.5L262.0 1121.5L262.5 1121.5L263.0 1121.5L263.5 1121.5L264.0 1121.5L264.5 1121.5L265.0 1121.5L265.5 1121.5L266.0 1121.5L266.5 1121.5L267.0 1121.5L267.5 1121.5L268.0 1121.5L268.5 1121.5L269.0 1121.5L269.5 1121.6L270.0 1121.6L270.5 1121.6L271.0 1121.6L271.5 1121.6L272.0 1121.6L272.5 1121.6L273.0 1121.6L273.5 1121.6L274.0 1121.6L274.5 1121.6L275.0 1121.6L275.5 1121.6L276.0 1121.6L276.5 1121.6L277.0 1121.6L277.5 1121.6L278.0 1121.6L278.5 1121.6L279.0 1121.6L279.5 1121.6L280.0 1121.6L280.5 1121.6L281.0 1121.6L281.5 1121.6L282.0 1121.6L282.5 1121.6L283.0 1121.6L283.5 1121.6L284.0 1121.6L284.5 1121.7L285.0 1121.7L285.5 1121.7L286.0 1121.7L286.5 1121.7L287.0 1121.7L287.5 1121.7L288.0 1121.7L288.5 1121.7L289.0 1121.7L289.5 1121.7L290.0 1121.7L290.5 1121.7L291.0 1121.7L291.5 1121.7L292.0 1121.7L292.5 1121.7L293.0 1121.7L293.5 1121.7L294.0 1121.7L294.5 1121.7L295.0 1121.7L295.5 1121.7L296.0 1121.7L296.5 1121.7L297.0 1121.7L297.5 1121.7L298.0 1121.7L298.5 1121.7L299.0 1121.7L299.5 1121.7L300.0 1121.7L300.5 1121.7L301.0 1121.7L301.5 1121.7L302.0 1121.7L302.5 1121.7L303.0 1121.7L303.5 1121.7L304.0 1121.7L304.5 1121.7L305.0 1121.7L305.5 1121.7L306.0 1121.7L306.5 1121.7L307.0 1121.7L307.5 1121.7L308.0 1121.7L308.5 1121.7L309.0 1121.7L309.5 1121.7L310.0 1121.7L310.5 1121.7L311.0 1121.7L311.5 1121.7L312.0 1121.7L312.5 1121.7L313.0 1121.7L313.5 1121.7L314.0 1121.7L314.5 1121.7L315.0 1121.7L315.5 1121.8L316.0 1121.8L316.5 1121.8L317.0 1121.8L317.5 1121.8L318.0 1121.8L318.5 1121.8L319.0 1121.8L319.5 1121.8L320.0 1121.8L320.5 1121.8L321.0 1121.8L321.5 1121.8L322.0 1121.8L322.5 1121.8L323.0 1121.8L323.5 1121.8L324.0 1121.8L324.5 1121.8L325.0 1121.8L325.5 1121.8L326.0 1121.8L326.5 1121.8L327.0 1121.8L327.5 1121.8L328.0 1121.8L328.5 1121.8L329.0 1121.8L329.5 1121.8L330.0 1121.8L330.5 1121.8L331.0 1121.8L331.5 1121.8L332.0 1121.8L332.5 1121.8L333.0 1121.8L333.5 1121.8L334.0 1121.8L334.5 1121.8L335.0 1121.8" fill="none" stroke="#1a9a9a" stroke-width="1.6" stroke-linejoin="round" stroke-linecap="round" />
<path d="M55.5 1116.1L56.0 1116.1L56.5 1116.1L57.0 1116.1L57.5 1116.1L58.0 1116.1L58.5 1116.1L59.0 1116.1L59.5 1116.1L60.0 1116.1L60.5 1116.1L61.0 1116.1L61.5 1116.0L62.0 1116.0L62.5 1116.0L63.0 1116.0L63.5 1116.0L64.0 1116.0L64.5 1116.0L65.0 1116.0L65.5 1116.0L66.0 1116.0L66.5 1116.0L67.0 1116.0L67.5 1116.0L68.0 1115.9L68.5 1115.9L69.0 1115.9L69.5 1115.9L70.0 1115.9L70.5 1115.9L71.0 1115.9L71.5 1115.9L72.0 1115.9L72.5 1115.9L73.0 1115.8L73.5 1115.8L74.0 1115.8L74.5 1115.8L75.0 1115.8L75.5 1115.8L76.0 1115.8L76.5 1115.8L77.0 1115.8L77.5 1115.7L78.0 1115.7L78.5 1115.7L79.0 1115.7L79.5 1115.7L80.0 1115.7L80.5 1115.7L81.0 1115.7L81.5 1115.6L82.0 1115.6L82.5 1115.6L83.0 1115.6L83.5 1115.6L84.0 1115.6L84.5 1115.5L85.0 1115.5L85.5 1115.5L86.0 1115.5L86.5 1115.5L87.0 1115.5L87.5 1115.4L88.0 1115.4L88.5 1115.4L89.0 1115.4L89.5 1115.4L90.0 1115.4L90.5 1115.3L91.0 1115.3L91.5 1115.3L92.0 1115.3L92.5 1115.2L93.0 1115.2L93.5 1115.2L94.0 1115.2L94.5 1115.2L95.0 1115.1L95.5 1115.1L96.0 1115.1L96.5 1115.1L97.0 1115.0L97.5 1115.0L98.0 1115.0L98.5 1114.9L99.0 1114.9L99.5 1114.9L100.0 1114.9L100.5 1114.8L101.0 1114.8L101.5 1114.8L102.0 1114.7L102.5 1114.7L103.0 1114.7L103.5 1114.6L104.0 1114.6L104.5 1114.6L105.0 1114.5L105.5 1114.5L106.0 1114.4L106.5 1114.4L107.0 1114.4L107.5 1114.3L108.0 1114.3L108.5 1114.2L109.0 1114.2L109.5 1114.1L110.0 1114.1L110.5 1114.0L111.0 1114.0L111.5 1113.9L112.0 1113.9L112.5 1113.8L113.0 1113.8L113.5 1113.7L114.0 1113.7L114.5 1113.6L115.0 1113.5L115.5 1113.5L116.0 1113.4L116.5 1113.3L117.0 1113.3L117.5 1113.2L118.0 1113.1L118.5 1113.0L119.0 1113.0L119.5 1112.9L120.0 1112.8L120.5 1112.7L121.0 1112.6L121.5 1112.6L122.0 1112.5L122.5 1112.4L123.0 1112.3L123.5 1112.2L124.0 1112.1L124.5 1112.0L125.0 1111.9L125.5 1111.8L126.0 1111.7L126.5 1111.5L127.0 1111.4L127.5 1111.3L128.0 1111.2L128.5 1111.1L129.0 1110.9L129.5 1110.8L130.0 1110.7L130.5 1110.5L131.0 1110.4L131.5 1110.2L132.0 1110.1L132.5 1109.9L133.0 1109.8L133.5 1109.6L134.0 1109.4L134.5 1109.3L135.0 1109.1L135.5 1108.9L136.0 1108.7L136.5 1108.5L137.0 1108.4L137.5 1108.2L138.0 1108.0L138.5 1107.7L139.0 1107.5L139.5 1107.3L140.0 1107.1L140.5 1106.9L141.0 1106.6L141.5 1106.4L142.0 1106.2L142.5 1105.9L143.0 1105.6L143.5 1105.4L144.0 1105.1L144.5 1104.8L145.0 1104.6L145.5 1104.3L146.0 1104.0L146.5 1103.7L147.0 1103.4L147.5 1103.1L148.0 1102.8L148.5 1102.4L149.0 1102.1L149.5 1101.8L150.0 1101.4L150.5 1101.1L151.0 1100.7L151.5 1100.3L152.0 1099.9L152.5 1099.6L153.0 1099.2L153.5 1098.8L154.0 1098.4L154.5 1097.9L155.0 1097.5L155.5 1097.1L156.0 1096.7L156.5 1096.2L157.0 1095.8L157.5 1095.3L158.0 1094.8L158.5 1094.3L159.0 1093.8L159.5 1093.3L160.0 1092.8L160.5 1092.3L161.0 1091.8L161.5 1091.3L162.0 1090.7L162.5 1090.2L163.0 1089.6L163.5 1089.0L164.0 1088.5L164.5 1087.9L165.0 1087.3L165.5 1086.7L166.0 1086.1L166.5 1085.4L167.0 1084.8L167.5 1084.2L168.0 1083.5L168.5 1082.9L169.0 1082.2L169.5 1081.5L170.0 1080.8L170.5 1080.1L171.0 1079.4L171.5 1078.7L172.0 1078.0L172.5 1077.3L173.0 1076.5L173.5 1075.8L174.0 1075.0L174.5 1074.3L175.0 1073.5L175.5 1072.7L176.0 1071.9L176.5 1071.1L177.0 1070.3L177.5 1069.5L178.0 1068.7L178.5 1067.9L179.0 1067.0L179.5 1066.2L180.0 1065.4L180.5 1064.5L181.0 1063.6L181.5 1062.8L182.0 1061.9L182.5 1061.0L183.0 1060.1L183.5 1059.2L184.0 1058.3L184.5 1057.4L185.0 1056.5L185.5 1055.6L186.0 1054.7L186.5 1053.8L187.0 1052.9L187.5 1051.9L188.0 1051.0L188.5 1050.1L189.0 1049.1L189.5 1048.2L190.0 1047.2L190.5 1046.3L191.0 1045.3L191.5 1044.4L192.0 1043.5L192.5 1042.5L193.0 1041.6L193.5 1040.6L194.0 1039.7L194.5 1038.7L195.0 1037.8L195.5 1036.8L196.0 1035.9L196.5 1035.0L197.0 1034.0L197.5 1033.1L198.0 1032.2L198.5 1031.3L199.0 1030.4L199.5 1029.5L200.0 1028.6L200.5 1027.7L201.0 1026.8L201.5 1025.9L202.0 1025.1L202.5 1024.2L203.0 1023.4L203.5 1022.5L204.0 1021.7L204.5 1020.9L205.0 1020.1L205.5 1019.3L206.0 1018.6L206.5 1017.8L207.0 1017.1L207.5 1016.3L208.0 1015.6L208.5 1014.9L209.0 1014.3L209.5 1013.6L210.0 1013.0L210.5 1012.4L211.0 1011.8L211.5 1011.2L212.0 1010.6L212.5 1010.1L213.0 1009.6L213.5 1009.1L214.0 1008.6L214.5 1008.2L215.0 1007.8L215.5 1007.4L216.0 1007.0L216.5 1006.7L217.0 1006.4L217.5 1006.1L218.0 1005.8L218.5 1005.6L219.0 1005.4L219.5 1005.2L220.0 1005.0L220.5 1004.9L221.0 1004.8L221.5 1004.8L222.0 1004.7L222.5 1004.7L223.0 1004.7L223.5 1004.8L224.0 1004.8L224.5 1004.9L225.0 1005.1L225.5 1005.2L226.0 1005.4L226.5 1005.6L227.0 1005.9L227.5 1006.2L228.0 1006.5L228.5 1006.8L229.0 1007.1L229.5 1007.5L230.0 1007.9L230.5 1008.3L231.0 1008.8L231.5 1009.3L232.0 1009.8L232.5 1010.3L233.0 1010.8L233.5 1011.4L234.0 1012.0L234.5 1012.6L235.0 1013.2L235.5 1013.9L236.0 1014.6L236.5 1015.3L237.0 1016.0L237.5 1016.7L238.0 1017.4L238.5 1018.2L239.0 1019.0L239.5 1019.8L240.0 1020.6L240.5 1021.4L241.0 1022.2L241.5 1023.0L242.0 1023.9L242.5 1024.8L243.0 1025.6L243.5 1026.5L244.0 1027.4L244.5 1028.3L245.0 1029.2L245.5 1030.2L246.0 1031.1L246.5 1032.0L247.0 1033.0L247.5 1033.9L248.0 1034.9L248.5 1035.8L249.0 1036.8L249.5 1037.8L250.0 1038.7L250.5 1039.7L251.0 1040.7L251.5 1041.6L252.0 1042.6L252.5 1043.6L253.0 1044.6L253.5 1045.5L254.0 1046.5L254.5 1047.5L255.0 1048.5L255.5 1049.4L256.0 1050.4L256.5 1051.4L257.0 1052.4L257.5 1053.3L258.0 1054.3L258.5 1055.2L259.0 1056.2L259.5 1057.1L260.0 1058.1L260.5 1059.0L261.0 1060.0L261.5 1060.9L262.0 1061.8L262.5 1062.7L263.0 1063.7L263.5 1064.6L264.0 1065.5L264.5 1066.4L265.0 1067.2L265.5 1068.1L266.0 1069.0L266.5 1069.9L267.0 1070.7L267.5 1071.6L268.0 1072.4L268.5 1073.3L269.0 1074.1L269.5 1074.9L270.0 1075.7L270.5 1076.5L271.0 1077.3L271.5 1078.1L272.0 1078.9L272.5 1079.7L273.0 1080.4L273.5 1081.2L274.0 1081.9L274.5 1082.7L275.0 1083.4L275.5 1084.1L276.0 1084.8L276.5 1085.5L277.0 1086.2L277.5 1086.9L278.0 1087.6L278.5 1088.2L279.0 1088.9L279.5 1089.5L280.0 1090.2L280.5 1090.8L281.0 1091.4L281.5 1092.0L282.0 1092.6L282.5 1093.2L283.0 1093.8L283.5 1094.4L284.0 1094.9L284.5 1095.5L285.0 1096.0L285.5 1096.6L286.0 1097.1L286.5 1097.6L287.0 1098.1L287.5 1098.6L288.0 1099.1L288.5 1099.6L289.0 1100.1L289.5 1100.5L290.0 1101.0L290.5 1101.4L291.0 1101.9L291.5 1102.3L292.0 1102.7L292.5 1103.2L293.0 1103.6L293.5 1104.0L294.0 1104.4L294.5 1104.7L295.0 1105.1L295.5 1105.5L296.0 1105.9L296.5 1106.2L297.0 1106.6L297.5 1106.9L298.0 1107.2L298.5 1107.6L299.0 1107.9L299.5 1108.2L300.0 1108.5L300.5 1108.8L301.0 1109.1L301.5 1109.4L302.0 1109.7L302.5 1110.0L303.0 1110.2L303.5 1110.5L304.0 1110.7L304.5 1111.0L305.0 1111.2L305.5 1111.5L306.0 1111.7L306.5 1112.0L307.0 1112.2L307.5 1112.4L308.0 1112.6L308.5 1112.8L309.0 1113.0L309.5 1113.2L310.0 1113.4L310.5 1113.6L311.0 1113.8L311.5 1114.0L312.0 1114.2L312.5 1114.3L313.0 1114.5L313.5 1114.7L314.0 1114.8L314.5 1115.0L315.0 1115.1L315.5 1115.3L316.0 1115.4L316.5 1115.6L317.0 1115.7L317.5 1115.9L318.0 1116.0L318.5 1116.1L319.0 1116.2L319.5 1116.4L320.0 1116.5L320.5 1116.6L321.0 1116.7L321.5 1116.8L322.0 1116.9L322.5 1117.0L323.0 1117.1L323.5 1117.2L324.0 1117.3L324.5 1117.4L325.0 1117.5L325.5 1117.6L326.0 1117.7L326.5 1117.8L327.0 1117.9L327.5 1118.0L328.0 1118.0L328.5 1118.1L329.0 1118.2L329.5 1118.3L330.0 1118.3L330.5 1118.4L331.0 1118.5L331.5 1118.5L332.0 1118.6L332.5 1118.7L333.0 1118.7L333.5 1118.8L334.0 1118.9L334.5 1118.9L335.0 1119.0" fill="none" stroke="#8a1c1c" stroke-width="1.6" stroke-linejoin="round" stroke-linecap="round" />
<path d="M55.5 1116.4L56.0 1116.4L56.5 1116.4L57.0 1116.4L57.5 1116.4L58.0 1116.4L58.5 1116.3L59.0 1116.3L59.5 1116.3L60.0 1116.3L60.5 1116.3L61.0 1116.3L61.5 1116.3L62.0 1116.3L62.5 1116.3L63.0 1116.3L63.5 1116.3L64.0 1116.3L64.5 1116.3L65.0 1116.2L65.5 1116.2L66.0 1116.2L66.5 1116.2L67.0 1116.2L67.5 1116.2L68.0 1116.2L68.5 1116.2L69.0 1116.2L69.5 1116.2L70.0 1116.1L70.5 1116.1L71.0 1116.1L71.5 1116.1L72.0 1116.1L72.5 1116.1L73.0 1116.1L73.5 1116.0L74.0 1116.0L74.5 1116.0L75.0 1116.0L75.5 1116.0L76.0 1115.9L76.5 1115.9L77.0 1115.9L77.5 1115.9L78.0 1115.9L78.5 1115.8L79.0 1115.8L79.5 1115.8L80.0 1115.8L80.5 1115.8L81.0 1115.7L81.5 1115.7L82.0 1115.7L82.5 1115.6L83.0 1115.6L83.5 1115.6L84.0 1115.6L84.5 1115.5L85.0 1115.5L85.5 1115.5L86.0 1115.4L86.5 1115.4L87.0 1115.3L87.5 1115.3L88.0 1115.3L88.5 1115.2L89.0 1115.2L89.5 1115.1L90.0 1115.1L90.5 1115.1L91.0 1115.0L91.5 1115.0L92.0 1114.9L92.5 1114.8L93.0 1114.8L93.5 1114.7L94.0 1114.7L94.5 1114.6L95.0 1114.6L95.5 1114.5L96.0 1114.4L96.5 1114.3L97.0 1114.3L97.5 1114.2L98.0 1114.1L98.5 1114.0L99.0 1114.0L99.5 1113.9L100.0 1113.8L100.5 1113.7L101.0 1113.6L101.5 1113.5L102.0 1113.4L102.5 1113.3L103.0 1113.2L103.5 1113.1L104.0 1112.9L104.5 1112.8L105.0 1112.7L105.5 1112.5L106.0 1112.4L106.5 1112.2L107.0 1112.1L107.5 1111.9L108.0 1111.8L108.5 1111.6L109.0 1111.4L109.5 1111.2L110.0 1111.0L110.5 1110.8L111.0 1110.6L111.5 1110.4L112.0 1110.2L112.5 1110.0L113.0 1109.7L113.5 1109.5L114.0 1109.2L114.5 1108.9L115.0 1108.6L115.5 1108.3L116.0 1108.0L116.5 1107.7L117.0 1107.4L117.5 1107.0L118.0 1106.7L118.5 1106.3L119.0 1105.9L119.5 1105.5L120.0 1105.1L120.5 1104.7L121.0 1104.3L121.5 1103.8L122.0 1103.3L122.5 1102.8L123.0 1102.3L123.5 1101.8L124.0 1101.2L124.5 1100.7L125.0 1100.1L125.5 1099.5L126.0 1098.9L126.5 1098.2L127.0 1097.6L127.5 1096.9L128.0 1096.2L128.5 1095.5L129.0 1094.7L129.5 1094.0L130.0 1093.2L130.5 1092.4L131.0 1091.5L131.5 1090.7L132.0 1089.8L132.5 1088.9L133.0 1088.0L133.5 1087.0L134.0 1086.1L134.5 1085.1L135.0 1084.1L135.5 1083.0L136.0 1082.0L136.5 1080.9L137.0 1079.8L137.5 1078.7L138.0 1077.6L138.5 1076.4L139.0 1075.3L139.5 1074.1L140.0 1072.9L140.5 1071.6L141.0 1070.4L141.5 1069.2L142.0 1067.9L142.5 1066.6L143.0 1065.4L143.5 1064.1L144.0 1062.8L144.5 1061.5L145.0 1060.2L145.5 1058.9L146.0 1057.7L146.5 1056.4L147.0 1055.2L147.5 1053.9L148.0 1052.7L148.5 1051.5L149.0 1050.4L149.5 1049.2L150.0 1048.1L150.5 1047.1L151.0 1046.1L151.5 1045.1L152.0 1044.2L152.5 1043.4L153.0 1042.6L153.5 1041.8L154.0 1041.2L154.5 1040.6L155.0 1040.1L155.5 1039.6L156.0 1039.3L156.5 1039.0L157.0 1038.8L157.5 1038.7L158.0 1038.7L158.5 1038.7L159.0 1038.9L159.5 1039.1L160.0 1039.4L160.5 1039.8L161.0 1040.3L161.5 1040.8L162.0 1041.5L162.5 1042.2L163.0 1042.9L163.5 1043.8L164.0 1044.7L164.5 1045.6L165.0 1046.6L165.5 1047.7L166.0 1048.7L166.5 1049.9L167.0 1051.0L167.5 1052.2L168.0 1053.5L168.5 1054.7L169.0 1056.0L169.5 1057.3L170.0 1058.6L170.5 1059.9L171.0 1061.2L171.5 1062.5L172.0 1063.8L172.5 1065.2L173.0 1066.5L173.5 1067.8L174.0 1069.1L174.5 1070.4L175.0 1071.7L175.5 1072.9L176.0 1074.2L176.5 1075.4L177.0 1076.7L177.5 1077.9L178.0 1079.1L178.5 1080.2L179.0 1081.4L179.5 1082.5L180.0 1083.6L180.5 1084.7L181.0 1085.8L181.5 1086.8L182.0 1087.8L182.5 1088.8L183.0 1089.8L183.5 1090.8L184.0 1091.7L184.5 1092.6L185.0 1093.5L185.5 1094.4L186.0 1095.2L186.5 1096.0L187.0 1096.8L187.5 1097.6L188.0 1098.4L188.5 1099.1L189.0 1099.8L189.5 1100.5L190.0 1101.2L190.5 1101.8L191.0 1102.5L191.5 1103.1L192.0 1103.7L192.5 1104.3L193.0 1104.8L193.5 1105.4L194.0 1105.9L194.5 1106.4L195.0 1106.9L195.5 1107.4L196.0 1107.8L196.5 1108.3L197.0 1108.7L197.5 1109.1L198.0 1109.5L198.5 1109.9L199.0 1110.3L199.5 1110.6L200.0 1111.0L200.5 1111.3L201.0 1111.6L201.5 1111.9L202.0 1112.2L202.5 1112.5L203.0 1112.8L203.5 1113.1L204.0 1113.3L204.5 1113.6L205.0 1113.8L205.5 1114.1L206.0 1114.3L206.5 1114.5L207.0 1114.7L207.5 1114.9L208.0 1115.1L208.5 1115.3L209.0 1115.5L209.5 1115.7L210.0 1115.9L210.5 1116.0L211.0 1116.2L211.5 1116.3L212.0 1116.5L212.5 1116.6L213.0 1116.8L213.5 1116.9L214.0 1117.0L214.5 1117.2L215.0 1117.3L215.5 1117.4L216.0 1117.5L216.5 1117.6L217.0 1117.7L217.5 1117.8L218.0 1118.0L218.5 1118.0L219.0 1118.1L219.5 1118.2L220.0 1118.3L220.5 1118.4L221.0 1118.5L221.5 1118.6L222.0 1118.7L222.5 1118.7L223.0 1118.8L223.5 1118.9L224.0 1119.0L224.5 1119.0L225.0 1119.1L225.5 1119.2L226.0 1119.2L226.5 1119.3L227.0 1119.4L227.5 1119.4L228.0 1119.5L228.5 1119.5L229.0 1119.6L229.5 1119.6L230.0 1119.7L230.5 1119.7L231.0 1119.8L231.5 1119.8L232.0 1119.9L232.5 1119.9L233.0 1120.0L233.5 1120.0L234.0 1120.1L234.5 1120.1L235.0 1120.1L235.5 1120.2L236.0 1120.2L236.5 1120.3L237.0 1120.3L237.5 1120.3L238.0 1120.4L238.5 1120.4L239.0 1120.4L239.5 1120.5L240.0 1120.5L240.5 1120.5L241.0 1120.6L241.5 1120.6L242.0 1120.6L242.5 1120.6L243.0 1120.7L243.5 1120.7L244.0 1120.7L244.5 1120.7L245.0 1120.8L245.5 1120.8L246.0 1120.8L246.5 1120.8L247.0 1120.9L247.5 1120.9L248.0 1120.9L248.5 1120.9L249.0 1120.9L249.5 1121.0L250.0 1121.0L250.5 1121.0L251.0 1121.0L251.5 1121.0L252.0 1121.1L252.5 1121.1L253.0 1121.1L253.5 1121.1L254.0 1121.1L254.5 1121.1L255.0 1121.2L255.5 1121.2L256.0 1121.2L256.5 1121.2L257.0 1121.2L257.5 1121.2L258.0 1121.2L258.5 1121.2L259.0 1121.3L259.5 1121.3L260.0 1121.3L260.5 1121.3L261.0 1121.3L261.5 1121.3L262.0 1121.3L262.5 1121.3L263.0 1121.3L263.5 1121.4L264.0 1121.4L264.5 1121.4L265.0 1121.4L265.5 1121.4L266.0 1121.4L266.5 1121.4L267.0 1121.4L267.5 1121.4L268.0 1121.4L268.5 1121.4L269.0 1121.5L269.5 1121.5L270.0 1121.5L270.5 1121.5L271.0 1121.5L271.5 1121.5L272.0 1121.5L272.5 1121.5L273.0 1121.5L273.5 1121.5L274.0 1121.5L274.5 1121.5L275.0 1121.5L275.5 1121.5L276.0 1121.5L276.5 1121.6L277.0 1121.6L277.5 1121.6L278.0 1121.6L278.5 1121.6L279.0 1121.6L279.5 1121.6L280.0 1121.6L280.5 1121.6L281.0 1121.6L281.5 1121.6L282.0 1121.6L282.5 1121.6L283.0 1121.6L283.5 1121.6L284.0 1121.6L284.5 1121.6L285.0 1121.6L285.5 1121.6L286.0 1121.6L286.5 1121.6L287.0 1121.6L287.5 1121.6L288.0 1121.6L288.5 1121.7L289.0 1121.7L289.5 1121.7L290.0 1121.7L290.5 1121.7L291.0 1121.7L291.5 1121.7L292.0 1121.7L292.5 1121.7L293.0 1121.7L293.5 1121.7L294.0 1121.7L294.5 1121.7L295.0 1121.7L295.5 1121.7L296.0 1121.7L296.5 1121.7L297.0 1121.7L297.5 1121.7L298.0 1121.7L298.5 1121.7L299.0 1121.7L299.5 1121.7L300.0 1121.7L300.5 1121.7L301.0 1121.7L301.5 1121.7L302.0 1121.7L302.5 1121.7L303.0 1121.7L303.5 1121.7L304.0 1121.7L304.5 1121.7L305.0 1121.7L305.5 1121.7L306.0 1121.7L306.5 1121.7L307.0 1121.7L307.5 1121.7L308.0 1121.7L308.5 1121.7L309.0 1121.7L309.5 1121.7L310.0 1121.7L310.5 1121.7L311.0 1121.7L311.5 1121.7L312.0 1121.7L312.5 1121.7L313.0 1121.7L313.5 1121.7L314.0 1121.7L314.5 1121.7L315.0 1121.7L315.5 1121.7L316.0 1121.7L316.5 1121.8L317.0 1121.8L317.5 1121.8L318.0 1121.8L318.5 1121.8L319.0 1121.8L319.5 1121.8L320.0 1121.8L320.5 1121.8L321.0 1121.8L321.5 1121.8L322.0 1121.8L322.5 1121.8L323.0 1121.8L323.5 1121.8L324.0 1121.8L324.5 1121.8L325.0 1121.8L325.5 1121.8L326.0 1121.8L326.5 1121.8L327.0 1121.8L327.5 1121.8L328.0 1121.8L328.5 1121.8L329.0 1121.8L329.5 1121.8L330.0 1121.8L330.5 1121.8L331.0 1121.8L331.5 1121.8L332.0 1121.8L332.5 1121.8L333.0 1121.8L333.5 1121.8L334.0 1121.8L334.5 1121.8L335.0 1121.8" fill="none" stroke="#a21ea8" stroke-width="1.6" stroke-linejoin="round" stroke-linecap="round" />
<path d="M55.5 1116.5L56.0 1116.5L56.5 1116.5L57.0 1116.5L57.5 1116.5L58.0 1116.5L58.5 1116.5L59.0 1116.5L59.5 1116.5L60.0 1116.5L60.5 1116.5L61.0 1116.5L61.5 1116.5L62.0 1116.5L62.5 1116.5L63.0 1116.5L63.5 1116.5L64.0 1116.5L64.5 1116.5L65.0 1116.5L65.5 1116.5L66.0 1116.5L66.5 1116.5L67.0 1116.5L67.5 1116.5L68.0 1116.5L68.5 1116.5L69.0 1116.5L69.5 1116.5L70.0 1116.5L70.5 1116.5L71.0 1116.5L71.5 1116.5L72.0 1116.5L72.5 1116.5L73.0 1116.5L73.5 1116.5L74.0 1116.5L74.5 1116.5L75.0 1116.5L75.5 1116.5L76.0 1116.5L76.5 1116.5L77.0 1116.5L77.5 1116.5L78.0 1116.5L78.5 1116.5L79.0 1116.5L79.5 1116.5L80.0 1116.5L80.5 1116.5L81.0 1116.5L81.5 1116.5L82.0 1116.5L82.5 1116.5L83.0 1116.5L83.5 1116.4L84.0 1116.4L84.5 1116.4L85.0 1116.4L85.5 1116.4L86.0 1116.4L86.5 1116.4L87.0 1116.4L87.5 1116.4L88.0 1116.4L88.5 1116.4L89.0 1116.4L89.5 1116.4L90.0 1116.4L90.5 1116.4L91.0 1116.4L91.5 1116.4L92.0 1116.3L92.5 1116.3L93.0 1116.3L93.5 1116.3L94.0 1116.3L94.5 1116.3L95.0 1116.3L95.5 1116.3L96.0 1116.3L96.5 1116.3L97.0 1116.2L97.5 1116.2L98.0 1116.2L98.5 1116.2L99.0 1116.2L99.5 1116.2L100.0 1116.2L100.5 1116.2L101.0 1116.1L101.5 1116.1L102.0 1116.1L102.5 1116.1L103.0 1116.1L103.5 1116.1L104.0 1116.0L104.5 1116.0L105.0 1116.0L105.5 1116.0L106.0 1116.0L106.5 1115.9L107.0 1115.9L107.5 1115.9L108.0 1115.9L108.5 1115.8L109.0 1115.8L109.5 1115.8L110.0 1115.8L110.5 1115.7L111.0 1115.7L111.5 1115.7L112.0 1115.6L112.5 1115.6L113.0 1115.6L113.5 1115.6L114.0 1115.5L114.5 1115.5L115.0 1115.4L115.5 1115.4L116.0 1115.4L116.5 1115.3L117.0 1115.3L117.5 1115.2L118.0 1115.2L118.5 1115.1L119.0 1115.1L119.5 1115.0L120.0 1115.0L120.5 1114.9L121.0 1114.9L121.5 1114.8L122.0 1114.8L122.5 1114.7L123.0 1114.7L123.5 1114.6L124.0 1114.5L124.5 1114.5L125.0 1114.4L125.5 1114.3L126.0 1114.2L126.5 1114.2L127.0 1114.1L127.5 1114.0L128.0 1113.9L128.5 1113.8L129.0 1113.7L129.5 1113.6L130.0 1113.5L130.5 1113.4L131.0 1113.3L131.5 1113.2L132.0 1113.1L132.5 1113.0L133.0 1112.9L133.5 1112.7L134.0 1112.6L134.5 1112.5L135.0 1112.3L135.5 1112.2L136.0 1112.0L136.5 1111.9L137.0 1111.7L137.5 1111.5L138.0 1111.4L138.5 1111.2L139.0 1111.0L139.5 1110.8L140.0 1110.6L140.5 1110.4L141.0 1110.2L141.5 1110.0L142.0 1109.7L142.5 1109.5L143.0 1109.3L143.5 1109.0L144.0 1108.7L144.5 1108.5L145.0 1108.2L145.5 1107.9L146.0 1107.6L146.5 1107.2L147.0 1106.9L147.5 1106.6L148.0 1106.2L148.5 1105.8L149.0 1105.5L149.5 1105.1L150.0 1104.7L150.5 1104.2L151.0 1103.8L151.5 1103.3L152.0 1102.9L152.5 1102.4L153.0 1101.9L153.5 1101.4L154.0 1100.8L154.5 1100.3L155.0 1099.7L155.5 1099.1L156.0 1098.5L156.5 1097.8L157.0 1097.2L157.5 1096.5L158.0 1095.8L158.5 1095.1L159.0 1094.3L159.5 1093.6L160.0 1092.8L160.5 1092.0L161.0 1091.1L161.5 1090.2L162.0 1089.4L162.5 1088.4L163.0 1087.5L163.5 1086.5L164.0 1085.5L164.5 1084.5L165.0 1083.5L165.5 1082.4L166.0 1081.3L166.5 1080.2L167.0 1079.0L167.5 1077.8L168.0 1076.6L168.5 1075.4L169.0 1074.1L169.5 1072.9L170.0 1071.5L170.5 1070.2L171.0 1068.8L171.5 1067.5L172.0 1066.0L172.5 1064.6L173.0 1063.2L173.5 1061.7L174.0 1060.2L174.5 1058.7L175.0 1057.2L175.5 1055.6L176.0 1054.1L176.5 1052.5L177.0 1051.0L177.5 1049.4L178.0 1047.9L178.5 1046.3L179.0 1044.8L179.5 1043.2L180.0 1041.7L180.5 1040.2L181.0 1038.7L181.5 1037.3L182.0 1035.9L182.5 1034.5L183.0 1033.2L183.5 1031.9L184.0 1030.7L184.5 1029.5L185.0 1028.5L185.5 1027.4L186.0 1026.5L186.5 1025.6L187.0 1024.9L187.5 1024.2L188.0 1023.6L188.5 1023.1L189.0 1022.7L189.5 1022.4L190.0 1022.2L190.5 1022.1L191.0 1022.1L191.5 1022.3L192.0 1022.5L192.5 1022.8L193.0 1023.3L193.5 1023.8L194.0 1024.5L194.5 1025.2L195.0 1026.0L195.5 1026.9L196.0 1027.9L196.5 1029.0L197.0 1030.1L197.5 1031.3L198.0 1032.6L198.5 1033.9L199.0 1035.3L199.5 1036.7L200.0 1038.2L200.5 1039.6L201.0 1041.2L201.5 1042.7L202.0 1044.3L202.5 1045.8L203.0 1047.4L203.5 1049.0L204.0 1050.6L204.5 1052.2L205.0 1053.8L205.5 1055.4L206.0 1057.0L206.5 1058.6L207.0 1060.2L207.5 1061.7L208.0 1063.3L208.5 1064.8L209.0 1066.3L209.5 1067.7L210.0 1069.2L210.5 1070.6L211.0 1072.0L211.5 1073.4L212.0 1074.8L212.5 1076.1L213.0 1077.4L213.5 1078.7L214.0 1079.9L214.5 1081.1L215.0 1082.3L215.5 1083.5L216.0 1084.6L216.5 1085.7L217.0 1086.8L217.5 1087.9L218.0 1088.9L218.5 1089.9L219.0 1090.9L219.5 1091.8L220.0 1092.8L220.5 1093.7L221.0 1094.5L221.5 1095.4L222.0 1096.2L222.5 1097.0L223.0 1097.8L223.5 1098.6L224.0 1099.3L224.5 1100.0L225.0 1100.7L225.5 1101.4L226.0 1102.0L226.5 1102.6L227.0 1103.3L227.5 1103.8L228.0 1104.4L228.5 1105.0L229.0 1105.5L229.5 1106.0L230.0 1106.5L230.5 1107.0L231.0 1107.5L231.5 1107.9L232.0 1108.4L232.5 1108.8L233.0 1109.2L233.5 1109.6L234.0 1110.0L234.5 1110.4L235.0 1110.7L235.5 1111.1L236.0 1111.4L236.5 1111.7L237.0 1112.0L237.5 1112.3L238.0 1112.6L238.5 1112.9L239.0 1113.2L239.5 1113.4L240.0 1113.7L240.5 1113.9L241.0 1114.2L241.5 1114.4L242.0 1114.6L242.5 1114.8L243.0 1115.1L243.5 1115.3L244.0 1115.5L244.5 1115.6L245.0 1115.8L245.5 1116.0L246.0 1116.2L246.5 1116.3L247.0 1116.5L247.5 1116.6L248.0 1116.8L248.5 1116.9L249.0 1117.1L249.5 1117.2L250.0 1117.4L250.5 1117.5L251.0 1117.6L251.5 1117.7L252.0 1117.8L252.5 1118.0L253.0 1118.1L253.5 1118.2L254.0 1118.3L254.5 1118.4L255.0 1118.5L255.5 1118.6L256.0 1118.7L256.5 1118.7L257.0 1118.8L257.5 1118.9L258.0 1119.0L258.5 1119.1L259.0 1119.1L259.5 1119.2L260.0 1119.3L260.5 1119.4L261.0 1119.4L261.5 1119.5L262.0 1119.6L262.5 1119.6L263.0 1119.7L263.5 1119.7L264.0 1119.8L264.5 1119.9L265.0 1119.9L265.5 1120.0L266.0 1120.0L266.5 1120.1L267.0 1120.1L267.5 1120.2L268.0 1120.2L268.5 1120.3L269.0 1120.3L269.5 1120.3L270.0 1120.4L270.5 1120.4L271.0 1120.5L271.5 1120.5L272.0 1120.5L272.5 1120.6L273.0 1120.6L273.5 1120.6L274.0 1120.7L274.5 1120.7L275.0 1120.7L275.5 1120.8L276.0 1120.8L276.5 1120.8L277.0 1120.8L277.5 1120.9L278.0 1120.9L278.5 1120.9L279.0 1121.0L279.5 1121.0L280.0 1121.0L280.5 1121.0L281.0 1121.0L281.5 1121.1L282.0 1121.1L282.5 1121.1L283.0 1121.1L283.5 1121.1L284.0 1121.2L284.5 1121.2L285.0 1121.2L285.5 1121.2L286.0 1121.2L286.5 1121.2L287.0 1121.3L287.5 1121.3L288.0 1121.3L288.5 1121.3L289.0 1121.3L289.5 1121.3L290.0 1121.3L290.5 1121.4L291.0 1121.4L291.5 1121.4L292.0 1121.4L292.5 1121.4L293.0 1121.4L293.5 1121.4L294.0 1121.4L294.5 1121.5L295.0 1121.5L295.5 1121.5L296.0 1121.5L296.5 1121.5L297.0 1121.5L297.5 1121.5L298.0 1121.5L298.5 1121.5L299.0 1121.5L299.5 1121.5L300.0 1121.5L300.5 1121.6L301.0 1121.6L301.5 1121.6L302.0 1121.6L302.5 1121.6L303.0 1121.6L303.5 1121.6L304.0 1121.6L304.5 1121.6L305.0 1121.6L305.5 1121.6L306.0 1121.6L306.5 1121.6L307.0 1121.6L307.5 1121.6L308.0 1121.6L308.5 1121.6L309.0 1121.6L309.5 1121.7L310.0 1121.7L310.5 1121.7L311.0 1121.7L311.5 1121.7L312.0 1121.7L312.5 1121.7L313.0 1121.7L313.5 1121.7L314.0 1121.7L314.5 1121.7L315.0 1121.7L315.5 1121.7L316.0 1121.7L316.5 1121.7L317.0 1121.7L317.5 1121.7L318.0 1121.7L318.5 1121.7L319.0 1121.7L319.5 1121.7L320.0 1121.7L320.5 1121.7L321.0 1121.7L321.5 1121.7L322.0 1121.7L322.5 1121.7L323.0 1121.7L323.5 1121.7L324.0 1121.7L324.5 1121.7L325.0 1121.7L325.5 1121.7L326.0 1121.7L326.5 1121.7L327.0 1121.7L327.5 1121.7L328.0 1121.7L328.5 1121.7L329.0 1121.8L329.5 1121.8L330.0 1121.8L330.5 1121.8L331.0 1121.8L331.5 1121.8L332.0 1121.8L332.5 1121.8L333.0 1121.8L333.5 1121.8L334.0 1121.8L334.5 1121.8L335.0 1121.8" fill="none" stroke="#1a921a" stroke-width="1.6" stroke-linejoin="round" stroke-linecap="round" />
<path d="M21.0 1112.7L21.5 1113.2L22.0 1113.0L22.5 1112.9L23.0 1113.4L23.5 1114.0L24.0 1113.8L24.5 1113.5L25.0 1113.1L25.5 1112.5L26.0 1112.5L26.5 1112.3L27.0 1111.9L27.5 1111.4L28.0 1111.5L28.5 1111.8L29.0 1112.2L29.5 1112.5L30.0 1112.6L30.5 1112.9L31.0 1113.8L31.5 1114.4L32.0 1115.2L32.5 1114.9L33.0 1114.5L33.5 1114.7L34.0 1114.5L34.5 1114.4L35.0 1114.0L35.5 1113.1L36.0 1113.3L36.5 1113.0L37.0 1112.7L37.5 1112.9L38.0 1112.7L38.5 1112.8L39.0 1113.1L39.5 1113.5L40.0 1114.7L40.5 1115.1L41.0 1115.0L41.5 1115.3L42.0 1115.6L42.5 1115.6L43.0 1115.0L43.5 1114.9L44.0 1114.5L44.5 1113.6L45.0 1113.4L45.5 1113.2L46.0 1113.2L46.5 1113.2L47.0 1113.5L47.5 1114.2L48.0 1115.1L48.5 1115.5L49.0 1115.8L49.5 1116.1L50.0 1116.2L50.5 1116.3L51.0 1115.7L51.5 1115.3L52.0 1114.6L52.5 1114.3L53.0 1114.2L53.5 1113.8L54.0 1114.1L54.5 1114.2L55.0 1114.8L55.5 1115.7L56.0 1115.5L56.5 1115.5L57.0 1116.1L57.5 1116.4L58.0 1116.6L58.5 1116.7L59.0 1116.6L59.5 1116.2L60.0 1115.5L60.5 1115.5L61.0 1115.6L61.5 1114.7L62.0 1114.3L62.5 1114.6L63.0 1114.6L63.5 1115.0L64.0 1115.5L64.5 1115.5L65.0 1115.6L65.5 1115.3L66.0 1115.5L66.5 1116.0L67.0 1116.0L67.5 1115.6L68.0 1115.4L68.5 1115.7L69.0 1115.8L69.5 1115.5L70.0 1115.2L70.5 1115.1L71.0 1114.9L71.5 1115.1L72.0 1114.8L72.5 1114.6L73.0 1114.5L73.5 1114.7L74.0 1115.2L74.5 1115.3L75.0 1115.3L75.5 1115.1L76.0 1115.0L76.5 1115.1L77.0 1115.6L77.5 1114.9L78.0 1114.9L78.5 1115.2L79.0 1114.8L79.5 1114.7L80.0 1114.4L80.5 1114.6L81.0 1114.5L81.5 1114.7L82.0 1114.8L82.5 1114.5L83.0 1114.4L83.5 1114.1L84.0 1114.1L84.5 1114.3L85.0 1114.6L85.5 1114.5L86.0 1113.8L86.5 1113.6L87.0 1113.5L87.5 1113.7L88.0 1113.9L88.5 1113.5L89.0 1113.3L89.5 1113.7L90.0 1113.8L90.5 1113.4L91.0 1113.4L91.5 1113.5L92.0 1113.1L92.5 1113.0L93.0 1113.4L93.5 1113.0L94.0 1112.8L94.5 1112.9L95.0 1112.7L95.5 1112.7L96.0 1112.5L96.5 1112.3L97.0 1112.1L97.5 1112.1L98.0 1112.1L98.5 1111.5L99.0 1111.4L99.5 1111.8L100.0 1111.8L100.5 1111.4L101.0 1110.7L101.5 1110.6L102.0 1111.0L102.5 1111.0L103.0 1110.5L103.5 1109.9L104.0 1109.9L104.5 1109.7L105.0 1109.2L105.5 1109.0L106.0 1109.0L106.5 1108.8L107.0 1109.0L107.5 1108.7L108.0 1108.1L108.5 1108.2L109.0 1107.9L109.5 1107.6L110.0 1107.6L110.5 1106.9L111.0 1106.3L111.5 1106.2L112.0 1106.0L112.5 1105.6L113.0 1105.2L113.5 1105.0L114.0 1104.6L114.5 1104.0L115.0 1103.7L115.5 1103.1L116.0 1102.6L116.5 1102.4L117.0 1101.7L117.5 1100.9L118.0 1101.0L118.5 1100.8L119.0 1100.0L119.5 1099.4L120.0 1099.2L120.5 1098.7L121.0 1097.4L121.5 1096.9L122.0 1096.4L122.5 1095.8L123.0 1095.3L123.5 1094.7L124.0 1094.1L124.5 1093.0L125.0 1092.5L125.5 1092.3L126.0 1091.1L126.5 1089.9L127.0 1089.2L127.5 1088.2L128.0 1086.9L128.5 1085.6L129.0 1085.2L129.5 1084.4L130.0 1083.0L130.5 1082.2L131.0 1081.5L131.5 1080.2L132.0 1078.5L132.5 1077.2L133.0 1076.5L133.5 1074.8L134.0 1072.9L134.5 1071.8L135.0 1071.0L135.5 1069.8L136.0 1068.3L136.5 1066.9L137.0 1065.3L137.5 1064.0L138.0 1063.2L138.5 1061.4L139.0 1059.4L139.5 1057.5L140.0 1055.9L140.5 1054.3L141.0 1052.3L141.5 1050.4L142.0 1048.4L142.5 1046.6L143.0 1044.7L143.5 1042.7L144.0 1041.4L144.5 1039.8L145.0 1037.7L145.5 1035.7L146.0 1033.2L146.5 1031.1L147.0 1029.2L147.5 1027.0L148.0 1025.1L148.5 1023.3L149.0 1021.3L149.5 1019.2L150.0 1017.1L150.5 1015.0L151.0 1013.2L151.5 1011.6L152.0 1009.6L152.5 1007.1L153.0 1004.9L153.5 1003.2L154.0 1001.4L154.5 999.5L155.0 997.7L155.5 995.6L156.0 993.5L156.5 991.3L157.0 989.9L157.5 988.7L158.0 986.7L158.5 985.0L159.0 983.5L159.5 982.0L160.0 981.0L160.5 979.7L161.0 978.5L161.5 977.3L162.0 975.4L162.5 974.4L163.0 973.9L163.5 972.8L164.0 971.4L164.5 970.0L165.0 969.2L165.5 968.5L166.0 967.5L166.5 967.3L167.0 966.5L167.5 965.7L168.0 965.0L168.5 964.1L169.0 963.6L169.5 963.2L170.0 962.6L170.5 961.7L171.0 960.9L171.5 959.9L172.0 959.6L172.5 959.3L173.0 958.7L173.5 958.3L174.0 957.7L174.5 956.7L175.0 955.9L175.5 955.4L176.0 954.5L176.5 953.3L177.0 952.3L177.5 952.0L178.0 951.5L178.5 950.6L179.0 949.2L179.5 948.6L180.0 948.0L180.5 946.6L181.0 945.8L181.5 945.0L182.0 943.9L182.5 942.6L183.0 941.5L183.5 940.8L184.0 939.9L184.5 938.9L185.0 937.5L185.5 936.4L186.0 935.8L186.5 935.0L187.0 933.8L187.5 933.0L188.0 933.0L188.5 932.5L189.0 931.4L189.5 930.7L190.0 930.0L190.5 929.8L191.0 929.5L191.5 929.1L192.0 929.2L192.5 929.3L193.0 929.2L193.5 928.6L194.0 928.4L194.5 929.1L195.0 929.1L195.5 929.4L196.0 929.9L196.5 930.1L197.0 930.4L197.5 930.4L198.0 930.8L198.5 931.8L199.0 932.5L199.5 932.5L200.0 933.4L200.5 934.0L201.0 934.4L201.5 935.5L202.0 936.4L202.5 937.1L203.0 937.8L203.5 938.0L204.0 938.9L204.5 940.3L205.0 941.0L205.5 942.0L206.0 943.1L206.5 944.0L207.0 945.1L207.5 946.4L208.0 947.2L208.5 947.6L209.0 948.3L209.5 949.5L210.0 950.4L210.5 951.7L211.0 953.3L211.5 953.9L212.0 954.9L212.5 956.0L213.0 956.7L213.5 958.1L214.0 959.2L214.5 960.2L215.0 961.5L215.5 962.9L216.0 964.1L216.5 965.2L217.0 966.4L217.5 967.0L218.0 967.6L218.5 968.4L219.0 969.8L219.5 970.7L220.0 971.5L220.5 972.7L221.0 973.7L221.5 975.4L222.0 976.4L222.5 977.1L223.0 978.2L223.5 979.4L224.0 980.1L224.5 981.1L225.0 982.4L225.5 983.1L226.0 983.9L226.5 985.3L227.0 986.6L227.5 987.4L228.0 988.1L228.5 988.9L229.0 989.7L229.5 990.4L230.0 991.5L230.5 992.8L231.0 993.6L231.5 994.4L232.0 995.7L232.5 996.9L233.0 997.5L233.5 999.0L234.0 1000.0L234.5 1000.6L235.0 1001.8L235.5 1002.9L236.0 1004.1L236.5 1005.2L237.0 1006.3L237.5 1006.9L238.0 1008.3L238.5 1009.5L239.0 1010.2L239.5 1011.3L240.0 1012.2L240.5 1013.4L241.0 1015.0L241.5 1016.3L242.0 1017.1L242.5 1018.0L243.0 1019.2L243.5 1020.0L244.0 1021.3L244.5 1022.6L245.0 1023.0L245.5 1024.2L246.0 1025.5L246.5 1026.5L247.0 1027.9L247.5 1028.9L248.0 1029.9L248.5 1031.4L249.0 1032.2L249.5 1032.6L250.0 1033.9L250.5 1035.4L251.0 1037.0L251.5 1038.3L252.0 1039.1L252.5 1039.9L253.0 1040.5L253.5 1041.3L254.0 1042.8L254.5 1044.2L255.0 1045.2L255.5 1046.3L256.0 1047.6L256.5 1048.4L257.0 1049.3L257.5 1050.3L258.0 1051.6L258.5 1052.5L259.0 1053.4L259.5 1055.0L260.0 1055.4L260.5 1056.2L261.0 1057.8L261.5 1058.8L262.0 1059.4L262.5 1060.6L263.0 1061.9L263.5 1063.0L264.0 1063.6L264.5 1064.1L265.0 1064.9L265.5 1066.2L266.0 1067.0L266.5 1067.7L267.0 1069.2L267.5 1069.9L268.0 1070.6L268.5 1071.7L269.0 1072.8L269.5 1073.4L270.0 1074.2L270.5 1075.3L271.0 1076.1L271.5 1076.6L272.0 1077.5L272.5 1078.5L273.0 1079.1L273.5 1079.9L274.0 1081.1L274.5 1082.1L275.0 1082.9L275.5 1083.5L276.0 1083.7L276.5 1084.9L277.0 1085.6L277.5 1086.1L278.0 1087.1L278.5 1087.6L279.0 1087.9L279.5 1088.6L280.0 1089.6L280.5 1090.4L281.0 1091.1L281.5 1091.6L282.0 1091.8L282.5 1092.3L283.0 1092.9L283.5 1093.6L284.0 1094.2L284.5 1094.7L285.0 1095.1L285.5 1095.8L286.0 1096.7L286.5 1097.3L287.0 1097.5L287.5 1098.3L288.0 1099.2L288.5 1099.4L289.0 1099.5L289.5 1099.7L290.0 1099.9L290.5 1100.7L291.0 1101.8L291.5 1102.6L292.0 1103.0L292.5 1102.9L293.0 1103.2L293.5 1103.5L294.0 1103.7L294.5 1104.2L295.0 1104.6L295.5 1105.5L296.0 1106.3L296.5 1106.5L297.0 1106.4L297.5 1106.4L298.0 1106.5L298.5 1107.5L299.0 1108.2L299.5 1108.4L300.0 1108.6L300.5 1109.0L301.0 1109.2L301.5 1109.1L302.0 1110.0L302.5 1110.2L303.0 1110.0L303.5 1110.3L304.0 1110.8L304.5 1111.1L305.0 1111.0L305.5 1111.2L306.0 1111.7L306.5 1111.8L307.0 1111.5L307.5 1111.9L308.0 1112.4L308.5 1112.7L309.0 1112.9L309.5 1112.9L310.0 1113.2L310.5 1113.6L311.0 1114.0L311.5 1114.1L312.0 1113.7L312.5 1113.8L313.0 1114.4L313.5 1114.5L314.0 1114.8L314.5 1114.9L315.0 1115.2L315.5 1115.4L316.0 1115.6L316.5 1115.5L317.0 1114.9L317.5 1115.1L318.0 1116.3L318.5 1116.6L319.0 1116.1L319.5 1116.3L320.0 1116.4L320.5 1116.5L321.0 1116.7L321.5 1117.2L322.0 1117.5L322.5 1117.3L323.0 1117.3L323.5 1117.5L324.0 1117.2L324.5 1117.4L325.0 1117.6L325.5 1117.6L326.0 1117.8L326.5 1118.0L327.0 1118.3L327.5 1118.3L328.0 1118.0L328.5 1117.9L329.0 1118.2L329.5 1118.3L330.0 1118.1L330.5 1118.3L331.0 1118.3L331.5 1118.5L332.0 1118.6L332.5 1118.6L333.0 1118.6L333.5 1118.2L334.0 1118.6L334.5 1119.3L335.0 1119.0" fill="none" stroke="#1c1a88" stroke-width="1.8" stroke-linejoin="round" stroke-linecap="round" />
<path d="M182.9 1020.4 L147.0 990.3" stroke="#151515" stroke-width="1.25" fill="none"/>
<path d="M143.0 987.0 L149.4 989.5 L146.6 992.8 Z" fill="#151515"/>
<text x="177.94" y="921.20" font-family="Liberation Sans" font-weight="bold" font-size="14.30" textLength="30.46" lengthAdjust="spacingAndGlyphs" fill="#141414" >N 1s</text>
<text x="61.83" y="962.20" font-family="Liberation Sans" font-weight="bold" font-size="14.30" textLength="106.12" lengthAdjust="spacingAndGlyphs" fill="#141414" >C=N/Pyridinic-N</text>
<text x="76.38" y="978.90" font-family="Liberation Sans" font-weight="bold" font-size="14.30" textLength="76.05" lengthAdjust="spacingAndGlyphs" fill="#141414" >(398.97 eV)</text>
<text x="39.73" y="1040.40" font-family="Liberation Sans" font-weight="bold" font-size="14.30" textLength="99.35" lengthAdjust="spacingAndGlyphs" fill="#141414" >N-C/Pyrrolic-N</text>
<text x="51.68" y="1057.90" font-family="Liberation Sans" font-weight="bold" font-size="14.30" textLength="75.23" lengthAdjust="spacingAndGlyphs" fill="#141414" >(400.12 eV)</text>
<text x="261.87" y="971.10" font-family="Liberation Sans" font-weight="bold" font-size="14.30" textLength="32.80" lengthAdjust="spacingAndGlyphs" fill="#141414" >Zn-N</text>
<text x="241.81" y="988.20" font-family="Liberation Sans" font-weight="bold" font-size="14.30" textLength="72.69" lengthAdjust="spacingAndGlyphs" fill="#141414" >(397.89 eV)</text>
<path d="M369.80 1142.60 V890.90 H680.60 V1142.60" fill="none" stroke="#666" stroke-width="1.65" stroke-linejoin="miter"/>
<path d="M369.00 1142.60 H681.40" fill="none" stroke="#2e2e2e" stroke-width="1.25"/>
<path d="M369.80 1142.60 V1147.50 M417.62 1142.60 V1147.50 M465.43 1142.60 V1147.50 M513.25 1142.60 V1147.50 M561.06 1142.60 V1147.50 M608.88 1142.60 V1147.50 M656.69 1142.60 V1147.50 M393.71 1142.60 V1145.20 M441.52 1142.60 V1145.20 M489.34 1142.60 V1145.20 M537.15 1142.60 V1145.20 M584.97 1142.60 V1145.20 M632.78 1142.60 V1145.20 M680.60 1142.60 V1145.20 " stroke="#3c3c3c" stroke-width="1.3" fill="none"/>
<text x="359.00" y="1161.50" font-family="Liberation Sans" font-weight="bold" font-size="12.70" textLength="21.19" lengthAdjust="spacingAndGlyphs" fill="#141414" >168</text>
<text x="406.85" y="1161.50" font-family="Liberation Sans" font-weight="bold" font-size="12.70" textLength="21.19" lengthAdjust="spacingAndGlyphs" fill="#141414" >166</text>
<text x="454.47" y="1161.50" font-family="Liberation Sans" font-weight="bold" font-size="12.70" textLength="21.19" lengthAdjust="spacingAndGlyphs" fill="#141414" >164</text>
<text x="502.51" y="1161.50" font-family="Liberation Sans" font-weight="bold" font-size="12.70" textLength="21.19" lengthAdjust="spacingAndGlyphs" fill="#141414" >162</text>
<text x="550.33" y="1161.50" font-family="Liberation Sans" font-weight="bold" font-size="12.70" textLength="21.19" lengthAdjust="spacingAndGlyphs" fill="#141414" >160</text>
<text x="598.08" y="1161.50" font-family="Liberation Sans" font-weight="bold" font-size="12.70" textLength="21.19" lengthAdjust="spacingAndGlyphs" fill="#141414" >158</text>
<text x="645.93" y="1161.50" font-family="Liberation Sans" font-weight="bold" font-size="12.70" textLength="21.19" lengthAdjust="spacingAndGlyphs" fill="#141414" >156</text>
<text x="471.32" y="1179.70" font-family="Liberation Sans" font-weight="bold" font-size="14.40" textLength="136.01" lengthAdjust="spacingAndGlyphs" fill="#141414" >Binding energy (eV)</text>
<text transform="translate(361.00,1063.94) rotate(-90)" x="-0.99" y="0" font-family="Liberation Sans" font-weight="bold" font-size="14.80" textLength="96.21" lengthAdjust="spacingAndGlyphs" fill="#141414">Intensity (a.u)</text>
<text x="375.39" y="909.66" font-family="Liberation Serif" font-weight="bold" font-size="20.00" textLength="23.32" lengthAdjust="spacingAndGlyphs" fill="#111" >(g)</text>
<path d="M408.1 1111.9L408.6 1111.2L409.1 1110.8L409.6 1111.2L410.1 1111.0L410.6 1111.5L411.1 1112.3L411.6 1113.9L412.1 1113.6L412.6 1114.3L413.1 1115.0L413.6 1114.3L414.1 1114.4L414.6 1112.7L415.1 1113.0L415.6 1111.5L416.1 1111.5L416.6 1111.4L417.1 1110.0L417.6 1109.6L418.1 1109.2L418.6 1108.7L419.1 1108.9L419.6 1108.5L420.1 1109.9L420.6 1111.0L421.1 1112.0L421.6 1112.7L422.1 1112.3L422.6 1112.3L423.1 1112.3L423.6 1112.6L424.1 1111.8L424.6 1112.1L425.1 1111.5L425.6 1111.8L426.1 1111.8L426.6 1111.4L427.1 1112.0L427.6 1111.9L428.1 1112.1L428.6 1111.7L429.1 1111.5L429.6 1111.3L430.1 1110.5L430.6 1109.6L431.1 1110.2L431.6 1110.7L432.1 1110.8L432.6 1111.5L433.1 1110.6L433.6 1111.1L434.1 1110.6L434.6 1110.8L435.1 1110.8L435.6 1110.7L436.1 1112.3L436.6 1111.4L437.1 1110.9L437.6 1111.1L438.1 1111.5L438.6 1110.8L439.1 1110.7L439.6 1111.9L440.1 1111.7L440.6 1110.8L441.1 1110.3L441.6 1110.6L442.1 1110.8L442.6 1110.6L443.1 1111.6L443.6 1111.5L444.1 1110.7L444.6 1110.4L445.1 1110.1L445.6 1110.6L446.1 1109.7L446.6 1109.9L447.1 1109.2L447.6 1110.0L448.1 1108.7L448.6 1108.1L449.1 1109.0L449.6 1108.4L450.1 1109.0L450.6 1108.6L451.1 1109.7L451.6 1108.9L452.1 1107.7L452.6 1108.4L453.1 1109.2L453.6 1108.3L454.1 1107.1L454.6 1107.7L455.1 1108.2L455.6 1107.4L456.1 1106.7L456.6 1107.2L457.1 1107.9L457.6 1107.3L458.1 1107.0L458.6 1106.4L459.1 1106.4L459.6 1106.2L460.1 1105.6L460.6 1105.2L461.1 1105.0L461.6 1106.0L462.1 1105.2L462.6 1104.1L463.1 1104.2L463.6 1103.6L464.1 1103.1L464.6 1102.5L465.1 1102.2L465.6 1102.3L466.1 1101.0L466.6 1101.4L467.1 1100.4L467.6 1100.4" fill="none" stroke="#1c1a9a" stroke-width="1.6" stroke-linejoin="round" stroke-linecap="round" />
<path d="M566.1 1082.9L566.6 1084.4L567.1 1086.1L567.6 1087.9L568.1 1090.3L568.6 1091.2L569.1 1092.3L569.6 1093.6L570.1 1094.8L570.6 1094.7L571.1 1095.5L571.6 1096.4L572.1 1096.4L572.6 1097.0L573.1 1097.8L573.6 1099.3L574.1 1099.8L574.6 1100.7L575.1 1101.7L575.6 1101.2L576.1 1100.4L576.6 1100.4L577.1 1100.0L577.6 1099.9L578.1 1101.6L578.6 1103.8L579.1 1103.9L579.6 1104.0L580.1 1104.9L580.6 1105.5L581.1 1104.4L581.6 1105.5L582.1 1106.9L582.6 1107.9L583.1 1107.4L583.6 1107.9L584.1 1108.7L584.6 1107.9L585.1 1108.0L585.6 1108.1L586.1 1109.4L586.6 1109.2L587.1 1110.1L587.6 1108.9L588.1 1109.3L588.6 1109.4L589.1 1110.6L589.6 1111.1L590.1 1110.1L590.6 1112.1L591.1 1111.6L591.6 1111.3L592.1 1110.3L592.6 1111.0L593.1 1113.1L593.6 1112.3L594.1 1112.9L594.6 1113.7L595.1 1113.5L595.6 1112.8L596.1 1111.9L596.6 1112.2L597.1 1112.7L597.6 1111.8L598.1 1112.4L598.6 1112.9L599.1 1113.7L599.6 1113.7L600.1 1113.1L600.6 1114.1L601.1 1113.7L601.6 1113.3L602.1 1112.4L602.6 1112.4L603.1 1112.2L603.6 1111.9L604.1 1111.9L604.6 1111.9L605.1 1111.6L605.6 1112.4L606.1 1113.1L606.6 1113.4L607.1 1113.3L607.6 1114.0L608.1 1114.6L608.6 1114.2L609.1 1114.1L609.6 1114.1L610.1 1115.1L610.6 1114.5L611.1 1114.4L611.6 1114.5L612.1 1114.4L612.6 1114.8L613.1 1114.8L613.6 1115.9L614.1 1116.7L614.6 1116.5L615.1 1116.6L615.6 1116.2L616.1 1116.3L616.6 1115.6L617.1 1114.8L617.6 1114.5L618.1 1114.9L618.6 1114.7L619.1 1113.0L619.6 1113.5L620.1 1114.1L620.6 1114.9L621.1 1115.1L621.6 1115.7L622.1 1117.2L622.6 1116.9L623.1 1116.4L623.6 1115.1L624.1 1113.8L624.6 1113.7L625.1 1113.9L625.6 1114.0L626.1 1114.0L626.6 1115.3L627.1 1116.2L627.6 1116.1L628.1 1115.5L628.6 1115.0L629.1 1114.9L629.6 1114.8L630.1 1115.6L630.6 1116.4L631.1 1116.5L631.6 1117.3L632.1 1117.7L632.6 1117.7L633.1 1117.1L633.6 1116.7L634.1 1116.3L634.6 1116.9L635.1 1116.9L635.6 1116.4L636.1 1117.3L636.6 1116.5L637.1 1117.0L637.6 1115.9L638.1 1116.5L638.6 1115.7L639.1 1114.8L639.6 1114.5L640.1 1115.3L640.6 1116.6L641.1 1116.4L641.6 1117.3L642.1 1117.7L642.6 1119.5L643.1 1118.9L643.6 1117.8L644.1 1118.0L644.6 1117.8L645.1 1117.1L645.6 1116.1L646.1 1116.0L646.6 1116.7L647.1 1116.0L647.6 1116.1L648.1 1115.6L648.6 1115.6L649.1 1115.7L649.6 1115.7L650.1 1116.0L650.6 1115.9L651.1 1116.8L651.6 1116.6L652.1 1117.0L652.6 1116.4L653.1 1116.0L653.6 1116.4L654.1 1116.6L654.6 1116.8L655.1 1117.5L655.6 1118.2L656.1 1117.8L656.6 1118.0L657.1 1118.1L657.6 1118.5L658.1 1117.5L658.6 1117.1L659.1 1116.9L659.6 1116.3L660.1 1116.2L660.6 1115.5L661.1 1115.2L661.6 1115.4L662.1 1115.3L662.6 1115.1L663.1 1115.0L663.6 1115.0L664.1 1114.8L664.6 1115.0L665.1 1115.8L665.6 1116.6L666.1 1116.5L666.6 1116.0L667.1 1117.0L667.6 1116.6L668.1 1116.5L668.6 1117.1L669.1 1116.5L669.6 1117.0L670.1 1115.6L670.6 1115.3L671.1 1115.2L671.6 1114.8L672.1 1114.9L672.6 1115.4L673.1 1116.1L673.6 1116.4L674.1 1116.9L674.6 1116.9L675.1 1116.8L675.6 1115.8L676.1 1115.7L676.6 1114.9L677.1 1114.9L677.6 1114.8L678.1 1115.2L678.6 1116.1L679.1 1116.2L679.6 1116.8L680.1 1116.7" fill="none" stroke="#1c1a9a" stroke-width="1.6" stroke-linejoin="round" stroke-linecap="round" />
<path d="M410.1 1110.6L410.6 1110.6L411.1 1110.6L411.6 1110.7L412.1 1110.7L412.6 1110.7L413.1 1110.7L413.6 1110.7L414.1 1110.7L414.6 1110.7L415.1 1110.7L415.6 1110.7L416.1 1110.7L416.6 1110.7L417.1 1110.7L417.6 1110.7L418.1 1110.7L418.6 1110.7L419.1 1110.7L419.6 1110.7L420.1 1110.7L420.6 1110.7L421.1 1110.7L421.6 1110.7L422.1 1110.7L422.6 1110.7L423.1 1110.7L423.6 1110.7L424.1 1110.7L424.6 1110.7L425.1 1110.7L425.6 1110.7L426.1 1110.7L426.6 1110.7L427.1 1110.7L427.6 1110.8L428.1 1110.8L428.6 1110.8L429.1 1110.8L429.6 1110.8L430.1 1110.8L430.6 1110.8L431.1 1110.8L431.6 1110.8L432.1 1110.8L432.6 1110.8L433.1 1110.8L433.6 1110.8L434.1 1110.8L434.6 1110.8L435.1 1110.8L435.6 1110.8L436.1 1110.8L436.6 1110.8L437.1 1110.8L437.6 1110.8L438.1 1110.9L438.6 1110.9L439.1 1110.9L439.6 1110.9L440.1 1110.9L440.6 1110.9L441.1 1110.9L441.6 1110.9L442.1 1110.9L442.6 1110.9L443.1 1110.9L443.6 1110.9L444.1 1110.9L444.6 1110.9L445.1 1110.9L445.6 1110.9L446.1 1110.9L446.6 1111.0L447.1 1111.0L447.6 1111.0L448.1 1111.0L448.6 1111.0L449.1 1111.0L449.6 1111.0L450.1 1111.0L450.6 1111.0L451.1 1111.0L451.6 1111.0L452.1 1111.0L452.6 1111.0L453.1 1111.0L453.6 1111.1L454.1 1111.1L454.6 1111.1L455.1 1111.1L455.6 1111.1L456.1 1111.1L456.6 1111.1L457.1 1111.1L457.6 1111.1L458.1 1111.1L458.6 1111.1L459.1 1111.2L459.6 1111.2L460.1 1111.2L460.6 1111.2L461.1 1111.2L461.6 1111.2L462.1 1111.2L462.6 1111.2L463.1 1111.2L463.6 1111.2L464.1 1111.2L464.6 1111.3L465.1 1111.3L465.6 1111.3L466.1 1111.3L466.6 1111.3L467.1 1111.3L467.6 1111.3L468.1 1111.3L468.6 1111.3L469.1 1111.4L469.6 1111.4L470.1 1111.4L470.6 1111.4L471.1 1111.4L471.6 1111.4L472.1 1111.4L472.6 1111.4L473.1 1111.4L473.6 1111.5L474.1 1111.5L474.6 1111.5L475.1 1111.5L475.6 1111.5L476.1 1111.5L476.6 1111.5L477.1 1111.6L477.6 1111.6L478.1 1111.6L478.6 1111.6L479.1 1111.6L479.6 1111.6L480.1 1111.6L480.6 1111.6L481.1 1111.7L481.6 1111.7L482.1 1111.7L482.6 1111.7L483.1 1111.7L483.6 1111.7L484.1 1111.7L484.6 1111.8L485.1 1111.8L485.6 1111.8L486.1 1111.8L486.6 1111.8L487.1 1111.8L487.6 1111.9L488.1 1111.9L488.6 1111.9L489.1 1111.9L489.6 1111.9L490.1 1111.9L490.6 1111.9L491.1 1112.0L491.6 1112.0L492.1 1112.0L492.6 1112.0L493.1 1112.0L493.6 1112.0L494.1 1112.1L494.6 1112.1L495.1 1112.1L495.6 1112.1L496.1 1112.1L496.6 1112.1L497.1 1112.2L497.6 1112.2L498.1 1112.2L498.6 1112.2L499.1 1112.2L499.6 1112.2L500.1 1112.3L500.6 1112.3L501.1 1112.3L501.6 1112.3L502.1 1112.3L502.6 1112.3L503.1 1112.4L503.6 1112.4L504.1 1112.4L504.6 1112.4L505.1 1112.4L505.6 1112.4L506.1 1112.5L506.6 1112.5L507.1 1112.5L507.6 1112.5L508.1 1112.5L508.6 1112.6L509.1 1112.6L509.6 1112.6L510.1 1112.6L510.6 1112.6L511.1 1112.6L511.6 1112.7L512.1 1112.7L512.6 1112.7L513.1 1112.7L513.6 1112.7L514.1 1112.7L514.6 1112.8L515.1 1112.8L515.6 1112.8L516.1 1112.8L516.6 1112.8L517.1 1112.8L517.6 1112.9L518.1 1112.9L518.6 1112.9L519.1 1112.9L519.6 1112.9L520.1 1113.0L520.6 1113.0L521.1 1113.0L521.6 1113.0L522.1 1113.0L522.6 1113.0L523.1 1113.1L523.6 1113.1L524.1 1113.1L524.6 1113.1L525.1 1113.1L525.6 1113.1L526.1 1113.2L526.6 1113.2L527.1 1113.2L527.6 1113.2L528.1 1113.2L528.6 1113.2L529.1 1113.2L529.6 1113.3L530.1 1113.3L530.6 1113.3L531.1 1113.3L531.6 1113.3L532.1 1113.3L532.6 1113.4L533.1 1113.4L533.6 1113.4L534.1 1113.4L534.6 1113.4L535.1 1113.4L535.6 1113.4L536.1 1113.5L536.6 1113.5L537.1 1113.5L537.6 1113.5L538.1 1113.5L538.6 1113.5L539.1 1113.5L539.6 1113.6L540.1 1113.6L540.6 1113.6L541.1 1113.6L541.6 1113.6L542.1 1113.6L542.6 1113.6L543.1 1113.7L543.6 1113.7L544.1 1113.7L544.6 1113.7L545.1 1113.7L545.6 1113.7L546.1 1113.7L546.6 1113.7L547.1 1113.8L547.6 1113.8L548.1 1113.8L548.6 1113.8L549.1 1113.8L549.6 1113.8L550.1 1113.8L550.6 1113.8L551.1 1113.8L551.6 1113.9L552.1 1113.9L552.6 1113.9L553.1 1113.9L553.6 1113.9L554.1 1113.9L554.6 1113.9L555.1 1113.9L555.6 1113.9L556.1 1114.0L556.6 1114.0L557.1 1114.0L557.6 1114.0L558.1 1114.0L558.6 1114.0L559.1 1114.0L559.6 1114.0L560.1 1114.0L560.6 1114.0L561.1 1114.1L561.6 1114.1L562.1 1114.1L562.6 1114.1L563.1 1114.1L563.6 1114.1L564.1 1114.1L564.6 1114.1L565.1 1114.1L565.6 1114.1L566.1 1114.1L566.6 1114.1L567.1 1114.2L567.6 1114.2L568.1 1114.2L568.6 1114.2L569.1 1114.2L569.6 1114.2L570.1 1114.2L570.6 1114.2L571.1 1114.2L571.6 1114.2L572.1 1114.2L572.6 1114.2L573.1 1114.2L573.6 1114.2L574.1 1114.3L574.6 1114.3L575.1 1114.3L575.6 1114.3L576.1 1114.3L576.6 1114.3L577.1 1114.3L577.6 1114.3L578.1 1114.3L578.6 1114.3L579.1 1114.3L579.6 1114.3L580.1 1114.3L580.6 1114.3L581.1 1114.3L581.6 1114.3L582.1 1114.4L582.6 1114.4L583.1 1114.4L583.6 1114.4L584.1 1114.4L584.6 1114.4L585.1 1114.4L585.6 1114.4L586.1 1114.4L586.6 1114.4L587.1 1114.4L587.6 1114.4L588.1 1114.4L588.6 1114.4L589.1 1114.4L589.6 1114.4L590.1 1114.4L590.6 1114.4L591.1 1114.4L591.6 1114.4L592.1 1114.4L592.6 1114.4L593.1 1114.5L593.6 1114.5L594.1 1114.5L594.6 1114.5L595.1 1114.5L595.6 1114.5L596.1 1114.5L596.6 1114.5L597.1 1114.5L597.6 1114.5L598.1 1114.5L598.6 1114.5L599.1 1114.5L599.6 1114.5L600.1 1114.5L600.6 1114.5L601.1 1114.5L601.6 1114.5L602.1 1114.5L602.6 1114.5L603.1 1114.5L603.6 1114.5L604.1 1114.5L604.6 1114.5L605.1 1114.5L605.6 1114.5L606.1 1114.5L606.6 1114.5L607.1 1114.5L607.6 1114.5L608.1 1114.5L608.6 1114.5L609.1 1114.6L609.6 1114.6L610.1 1114.6L610.6 1114.6L611.1 1114.6L611.6 1114.6L612.1 1114.6L612.6 1114.6L613.1 1114.6L613.6 1114.6L614.1 1114.6L614.6 1114.6L615.1 1114.6L615.6 1114.6L616.1 1114.6L616.6 1114.6L617.1 1114.6L617.6 1114.6L618.1 1114.6L618.6 1114.6L619.1 1114.6L619.6 1114.6L620.1 1114.6L620.6 1114.6L621.1 1114.6L621.6 1114.6L622.1 1114.6L622.6 1114.6L623.1 1114.6L623.6 1114.6L624.1 1114.6L624.6 1114.6L625.1 1114.6L625.6 1114.6L626.1 1114.6L626.6 1114.6L627.1 1114.6L627.6 1114.6L628.1 1114.6L628.6 1114.6L629.1 1114.6L629.6 1114.6L630.1 1114.6L630.6 1114.6L631.1 1114.6L631.6 1114.6L632.1 1114.6L632.6 1114.6L633.1 1114.6L633.6 1114.6L634.1 1114.6L634.6 1114.6L635.1 1114.6L635.6 1114.6L636.1 1114.6L636.6 1114.6L637.1 1114.6L637.6 1114.6L638.1 1114.6L638.6 1114.6L639.1 1114.6L639.6 1114.6L640.1 1114.6L640.6 1114.6L641.1 1114.6L641.6 1114.6L642.1 1114.6L642.6 1114.7L643.1 1114.7L643.6 1114.7L644.1 1114.7L644.6 1114.7L645.1 1114.7L645.6 1114.7L646.1 1114.7L646.6 1114.7L647.1 1114.7L647.6 1114.7L648.1 1114.7L648.6 1114.7L649.1 1114.7L649.6 1114.7L650.1 1114.7L650.6 1114.7L651.1 1114.7L651.6 1114.7L652.1 1114.7L652.6 1114.7L653.1 1114.7L653.6 1114.7L654.1 1114.7L654.6 1114.7L655.1 1114.7L655.6 1114.7L656.1 1114.7L656.6 1114.7L657.1 1114.7L657.6 1114.7L658.1 1114.7L658.6 1114.7L659.1 1114.7L659.6 1114.7L660.1 1114.7L660.6 1114.7L661.1 1114.7L661.6 1114.7L662.1 1114.7L662.6 1114.7L663.1 1114.7L663.6 1114.7L664.1 1114.7L664.6 1114.7L665.1 1114.7L665.6 1114.7L666.1 1114.7L666.6 1114.7L667.1 1114.7L667.6 1114.7L668.1 1114.7L668.6 1114.7L669.1 1114.7L669.6 1114.7L670.1 1114.7L670.6 1114.7L671.1 1114.7L671.6 1114.7L672.1 1114.7L672.6 1114.7L673.1 1114.7L673.6 1114.7L674.1 1114.7L674.6 1114.7L675.1 1114.7L675.6 1114.7L676.1 1114.7L676.6 1114.7L677.1 1114.7L677.6 1114.7L678.1 1114.7L678.6 1114.7L679.1 1114.7L679.6 1114.7L680.1 1114.7" fill="none" stroke="#2a962a" stroke-width="1.5" stroke-linejoin="round" stroke-linecap="round" />
<path d="M410.1 1110.5L410.6 1110.5L411.1 1110.5L411.6 1110.5L412.1 1110.5L412.6 1110.5L413.1 1110.4L413.6 1110.4L414.1 1110.4L414.6 1110.4L415.1 1110.4L415.6 1110.4L416.1 1110.4L416.6 1110.4L417.1 1110.4L417.6 1110.4L418.1 1110.4L418.6 1110.4L419.1 1110.4L419.6 1110.4L420.1 1110.4L420.6 1110.4L421.1 1110.3L421.6 1110.3L422.1 1110.3L422.6 1110.3L423.1 1110.3L423.6 1110.3L424.1 1110.3L424.6 1110.3L425.1 1110.3L425.6 1110.3L426.1 1110.2L426.6 1110.2L427.1 1110.2L427.6 1110.2L428.1 1110.2L428.6 1110.2L429.1 1110.2L429.6 1110.1L430.1 1110.1L430.6 1110.1L431.1 1110.1L431.6 1110.1L432.1 1110.1L432.6 1110.0L433.1 1110.0L433.6 1110.0L434.1 1110.0L434.6 1110.0L435.1 1109.9L435.6 1109.9L436.1 1109.9L436.6 1109.9L437.1 1109.8L437.6 1109.8L438.1 1109.8L438.6 1109.8L439.1 1109.7L439.6 1109.7L440.1 1109.7L440.6 1109.6L441.1 1109.6L441.6 1109.6L442.1 1109.5L442.6 1109.5L443.1 1109.5L443.6 1109.4L444.1 1109.4L444.6 1109.3L445.1 1109.3L445.6 1109.2L446.1 1109.2L446.6 1109.1L447.1 1109.1L447.6 1109.0L448.1 1109.0L448.6 1108.9L449.1 1108.8L449.6 1108.8L450.1 1108.7L450.6 1108.6L451.1 1108.6L451.6 1108.5L452.1 1108.4L452.6 1108.3L453.1 1108.2L453.6 1108.1L454.1 1108.0L454.6 1107.9L455.1 1107.8L455.6 1107.7L456.1 1107.6L456.6 1107.5L457.1 1107.3L457.6 1107.2L458.1 1107.1L458.6 1106.9L459.1 1106.8L459.6 1106.6L460.1 1106.4L460.6 1106.2L461.1 1106.1L461.6 1105.9L462.1 1105.6L462.6 1105.4L463.1 1105.2L463.6 1105.0L464.1 1104.7L464.6 1104.4L465.1 1104.2L465.6 1103.9L466.1 1103.6L466.6 1103.2L467.1 1102.9L467.6 1102.6L468.1 1102.2L468.6 1101.8L469.1 1101.4L469.6 1101.0L470.1 1100.5L470.6 1100.1L471.1 1099.6L471.6 1099.1L472.1 1098.6L472.6 1098.0L473.1 1097.5L473.6 1096.9L474.1 1096.3L474.6 1095.7L475.1 1095.0L475.6 1094.3L476.1 1093.6L476.6 1092.9L477.1 1092.1L477.6 1091.3L478.1 1090.5L478.6 1089.7L479.1 1088.8L479.6 1088.0L480.1 1087.0L480.6 1086.1L481.1 1085.1L481.6 1084.2L482.1 1083.1L482.6 1082.1L483.1 1081.1L483.6 1080.0L484.1 1078.9L484.6 1077.7L485.1 1076.6L485.6 1075.4L486.1 1074.3L486.6 1073.1L487.1 1071.9L487.6 1070.6L488.1 1069.4L488.6 1068.2L489.1 1066.9L489.6 1065.7L490.1 1064.5L490.6 1063.2L491.1 1062.0L491.6 1060.8L492.1 1059.6L492.6 1058.5L493.1 1057.3L493.6 1056.2L494.1 1055.2L494.6 1054.2L495.1 1053.2L495.6 1052.3L496.1 1051.4L496.6 1050.6L497.1 1049.9L497.6 1049.3L498.1 1048.7L498.6 1048.2L499.1 1047.8L499.6 1047.5L500.1 1047.3L500.6 1047.2L501.1 1047.2L501.6 1047.3L502.1 1047.4L502.6 1047.7L503.1 1048.1L503.6 1048.5L504.1 1049.0L504.6 1049.6L505.1 1050.3L505.6 1051.1L506.1 1051.9L506.6 1052.8L507.1 1053.8L507.6 1054.8L508.1 1055.9L508.6 1057.0L509.1 1058.1L509.6 1059.3L510.1 1060.5L510.6 1061.7L511.1 1062.9L511.6 1064.2L512.1 1065.5L512.6 1066.7L513.1 1068.0L513.6 1069.3L514.1 1070.5L514.6 1071.8L515.1 1073.0L515.6 1074.3L516.1 1075.5L516.6 1076.7L517.1 1077.9L517.6 1079.1L518.1 1080.2L518.6 1081.4L519.1 1082.5L519.6 1083.6L520.1 1084.6L520.6 1085.7L521.1 1086.7L521.6 1087.7L522.1 1088.6L522.6 1089.6L523.1 1090.5L523.6 1091.3L524.1 1092.2L524.6 1093.0L525.1 1093.8L525.6 1094.6L526.1 1095.4L526.6 1096.1L527.1 1096.8L527.6 1097.5L528.1 1098.2L528.6 1098.8L529.1 1099.4L529.6 1100.0L530.1 1100.5L530.6 1101.1L531.1 1101.6L531.6 1102.1L532.1 1102.6L532.6 1103.1L533.1 1103.5L533.6 1103.9L534.1 1104.3L534.6 1104.7L535.1 1105.1L535.6 1105.5L536.1 1105.8L536.6 1106.1L537.1 1106.4L537.6 1106.7L538.1 1107.0L538.6 1107.3L539.1 1107.6L539.6 1107.8L540.1 1108.1L540.6 1108.3L541.1 1108.5L541.6 1108.7L542.1 1108.9L542.6 1109.1L543.1 1109.3L543.6 1109.5L544.1 1109.6L544.6 1109.8L545.1 1110.0L545.6 1110.1L546.1 1110.3L546.6 1110.4L547.1 1110.5L547.6 1110.6L548.1 1110.8L548.6 1110.9L549.1 1111.0L549.6 1111.1L550.1 1111.2L550.6 1111.3L551.1 1111.4L551.6 1111.5L552.1 1111.6L552.6 1111.7L553.1 1111.8L553.6 1111.8L554.1 1111.9L554.6 1112.0L555.1 1112.1L555.6 1112.1L556.1 1112.2L556.6 1112.3L557.1 1112.3L557.6 1112.4L558.1 1112.5L558.6 1112.5L559.1 1112.6L559.6 1112.6L560.1 1112.7L560.6 1112.7L561.1 1112.8L561.6 1112.8L562.1 1112.9L562.6 1112.9L563.1 1113.0L563.6 1113.0L564.1 1113.0L564.6 1113.1L565.1 1113.1L565.6 1113.2L566.1 1113.2L566.6 1113.2L567.1 1113.3L567.6 1113.3L568.1 1113.3L568.6 1113.4L569.1 1113.4L569.6 1113.4L570.1 1113.5L570.6 1113.5L571.1 1113.5L571.6 1113.6L572.1 1113.6L572.6 1113.6L573.1 1113.6L573.6 1113.7L574.1 1113.7L574.6 1113.7L575.1 1113.7L575.6 1113.8L576.1 1113.8L576.6 1113.8L577.1 1113.8L577.6 1113.9L578.1 1113.9L578.6 1113.9L579.1 1113.9L579.6 1113.9L580.1 1113.9L580.6 1114.0L581.1 1114.0L581.6 1114.0L582.1 1114.0L582.6 1114.0L583.1 1114.0L583.6 1114.1L584.1 1114.1L584.6 1114.1L585.1 1114.1L585.6 1114.1L586.1 1114.1L586.6 1114.1L587.1 1114.2L587.6 1114.2L588.1 1114.2L588.6 1114.2L589.1 1114.2L589.6 1114.2L590.1 1114.2L590.6 1114.2L591.1 1114.3L591.6 1114.3L592.1 1114.3L592.6 1114.3L593.1 1114.3L593.6 1114.3L594.1 1114.3L594.6 1114.3L595.1 1114.3L595.6 1114.3L596.1 1114.3L596.6 1114.4L597.1 1114.4L597.6 1114.4L598.1 1114.4L598.6 1114.4L599.1 1114.4L599.6 1114.4L600.1 1114.4L600.6 1114.4L601.1 1114.4L601.6 1114.4L602.1 1114.4L602.6 1114.4L603.1 1114.4L603.6 1114.4L604.1 1114.5L604.6 1114.5L605.1 1114.5L605.6 1114.5L606.1 1114.5L606.6 1114.5L607.1 1114.5L607.6 1114.5L608.1 1114.5L608.6 1114.5L609.1 1114.5L609.6 1114.5L610.1 1114.5L610.6 1114.5L611.1 1114.5L611.6 1114.5L612.1 1114.5L612.6 1114.5L613.1 1114.5L613.6 1114.5L614.1 1114.5L614.6 1114.5L615.1 1114.5L615.6 1114.5L616.1 1114.6L616.6 1114.6L617.1 1114.6L617.6 1114.6L618.1 1114.6L618.6 1114.6L619.1 1114.6L619.6 1114.6L620.1 1114.6L620.6 1114.6L621.1 1114.6L621.6 1114.6L622.1 1114.6L622.6 1114.6L623.1 1114.6L623.6 1114.6L624.1 1114.6L624.6 1114.6L625.1 1114.6L625.6 1114.6L626.1 1114.6L626.6 1114.6L627.1 1114.6L627.6 1114.6L628.1 1114.6L628.6 1114.6L629.1 1114.6L629.6 1114.6L630.1 1114.6L630.6 1114.6L631.1 1114.6L631.6 1114.6L632.1 1114.6L632.6 1114.6L633.1 1114.6L633.6 1114.6L634.1 1114.6L634.6 1114.6L635.1 1114.6L635.6 1114.6L636.1 1114.6L636.6 1114.6L637.1 1114.6L637.6 1114.6L638.1 1114.6L638.6 1114.6L639.1 1114.6L639.6 1114.6L640.1 1114.6L640.6 1114.6L641.1 1114.6L641.6 1114.6L642.1 1114.6L642.6 1114.6L643.1 1114.6L643.6 1114.6L644.1 1114.6L644.6 1114.7L645.1 1114.7L645.6 1114.7L646.1 1114.7L646.6 1114.7L647.1 1114.7L647.6 1114.7L648.1 1114.7L648.6 1114.7L649.1 1114.7L649.6 1114.7L650.1 1114.7L650.6 1114.7L651.1 1114.7L651.6 1114.7L652.1 1114.7L652.6 1114.7L653.1 1114.7L653.6 1114.7L654.1 1114.7L654.6 1114.7L655.1 1114.7L655.6 1114.7L656.1 1114.7L656.6 1114.7L657.1 1114.7L657.6 1114.7L658.1 1114.7L658.6 1114.7L659.1 1114.7L659.6 1114.7L660.1 1114.7L660.6 1114.7L661.1 1114.7L661.6 1114.7L662.1 1114.7L662.6 1114.7L663.1 1114.7L663.6 1114.7L664.1 1114.7L664.6 1114.7L665.1 1114.7L665.6 1114.7L666.1 1114.7L666.6 1114.7L667.1 1114.7L667.6 1114.7L668.1 1114.7L668.6 1114.7L669.1 1114.7L669.6 1114.7L670.1 1114.7L670.6 1114.7L671.1 1114.7L671.6 1114.7L672.1 1114.7L672.6 1114.7L673.1 1114.7L673.6 1114.7L674.1 1114.7L674.6 1114.7L675.1 1114.7L675.6 1114.7L676.1 1114.7L676.6 1114.7L677.1 1114.7L677.6 1114.7L678.1 1114.7L678.6 1114.7L679.1 1114.7L679.6 1114.7L680.1 1114.7" fill="none" stroke="#e8201c" stroke-width="1.6" stroke-linejoin="round" stroke-linecap="round" />
<path d="M410.1 1110.5L410.6 1110.5L411.1 1110.5L411.6 1110.5L412.1 1110.5L412.6 1110.5L413.1 1110.5L413.6 1110.5L414.1 1110.5L414.6 1110.5L415.1 1110.4L415.6 1110.4L416.1 1110.4L416.6 1110.4L417.1 1110.4L417.6 1110.4L418.1 1110.4L418.6 1110.4L419.1 1110.4L419.6 1110.4L420.1 1110.4L420.6 1110.4L421.1 1110.4L421.6 1110.4L422.1 1110.4L422.6 1110.4L423.1 1110.4L423.6 1110.4L424.1 1110.4L424.6 1110.3L425.1 1110.3L425.6 1110.3L426.1 1110.3L426.6 1110.3L427.1 1110.3L427.6 1110.3L428.1 1110.3L428.6 1110.3L429.1 1110.3L429.6 1110.3L430.1 1110.3L430.6 1110.2L431.1 1110.2L431.6 1110.2L432.1 1110.2L432.6 1110.2L433.1 1110.2L433.6 1110.2L434.1 1110.2L434.6 1110.2L435.1 1110.1L435.6 1110.1L436.1 1110.1L436.6 1110.1L437.1 1110.1L437.6 1110.1L438.1 1110.0L438.6 1110.0L439.1 1110.0L439.6 1110.0L440.1 1110.0L440.6 1110.0L441.1 1109.9L441.6 1109.9L442.1 1109.9L442.6 1109.9L443.1 1109.9L443.6 1109.8L444.1 1109.8L444.6 1109.8L445.1 1109.8L445.6 1109.7L446.1 1109.7L446.6 1109.7L447.1 1109.7L447.6 1109.6L448.1 1109.6L448.6 1109.6L449.1 1109.5L449.6 1109.5L450.1 1109.5L450.6 1109.5L451.1 1109.4L451.6 1109.4L452.1 1109.3L452.6 1109.3L453.1 1109.3L453.6 1109.2L454.1 1109.2L454.6 1109.1L455.1 1109.1L455.6 1109.1L456.1 1109.0L456.6 1109.0L457.1 1108.9L457.6 1108.9L458.1 1108.8L458.6 1108.8L459.1 1108.7L459.6 1108.7L460.1 1108.6L460.6 1108.5L461.1 1108.5L461.6 1108.4L462.1 1108.3L462.6 1108.3L463.1 1108.2L463.6 1108.1L464.1 1108.0L464.6 1108.0L465.1 1107.9L465.6 1107.8L466.1 1107.7L466.6 1107.6L467.1 1107.5L467.6 1107.4L468.1 1107.3L468.6 1107.2L469.1 1107.1L469.6 1107.0L470.1 1106.9L470.6 1106.7L471.1 1106.6L471.6 1106.5L472.1 1106.3L472.6 1106.2L473.1 1106.0L473.6 1105.9L474.1 1105.7L474.6 1105.5L475.1 1105.3L475.6 1105.1L476.1 1104.9L476.6 1104.7L477.1 1104.5L477.6 1104.3L478.1 1104.0L478.6 1103.8L479.1 1103.5L479.6 1103.3L480.1 1103.0L480.6 1102.7L481.1 1102.4L481.6 1102.0L482.1 1101.7L482.6 1101.3L483.1 1100.9L483.6 1100.5L484.1 1100.1L484.6 1099.7L485.1 1099.3L485.6 1098.8L486.1 1098.3L486.6 1097.8L487.1 1097.2L487.6 1096.7L488.1 1096.1L488.6 1095.5L489.1 1094.8L489.6 1094.2L490.1 1093.5L490.6 1092.8L491.1 1092.0L491.6 1091.2L492.1 1090.4L492.6 1089.6L493.1 1088.7L493.6 1087.7L494.1 1086.8L494.6 1085.8L495.1 1084.8L495.6 1083.7L496.1 1082.6L496.6 1081.4L497.1 1080.2L497.6 1079.0L498.1 1077.7L498.6 1076.4L499.1 1075.1L499.6 1073.6L500.1 1072.2L500.6 1070.7L501.1 1069.2L501.6 1067.6L502.1 1065.9L502.6 1064.3L503.1 1062.5L503.6 1060.7L504.1 1058.9L504.6 1057.1L505.1 1055.1L505.6 1053.2L506.1 1051.2L506.6 1049.1L507.1 1047.1L507.6 1044.9L508.1 1042.7L508.6 1040.5L509.1 1038.3L509.6 1036.0L510.1 1033.6L510.6 1031.3L511.1 1028.9L511.6 1026.4L512.1 1024.0L512.6 1021.5L513.1 1019.0L513.6 1016.5L514.1 1013.9L514.6 1011.3L515.1 1008.8L515.6 1006.2L516.1 1003.6L516.6 1001.0L517.1 998.4L517.6 995.9L518.1 993.3L518.6 990.8L519.1 988.2L519.6 985.7L520.1 983.3L520.6 980.9L521.1 978.5L521.6 976.2L522.1 973.9L522.6 971.8L523.1 969.7L523.6 967.6L524.1 965.7L524.6 963.8L525.1 962.1L525.6 960.4L526.1 958.9L526.6 957.5L527.1 956.2L527.6 955.1L528.1 954.1L528.6 953.2L529.1 952.5L529.6 951.9L530.1 951.5L530.6 951.2L531.1 951.1L531.6 951.2L532.1 951.4L532.6 951.7L533.1 952.2L533.6 952.9L534.1 953.7L534.6 954.6L535.1 955.7L535.6 956.9L536.1 958.3L536.6 959.8L537.1 961.4L537.6 963.1L538.1 964.9L538.6 966.8L539.1 968.8L539.6 970.9L540.1 973.1L540.6 975.3L541.1 977.6L541.6 980.0L542.1 982.4L542.6 984.9L543.1 987.4L543.6 989.9L544.1 992.5L544.6 995.0L545.1 997.6L545.6 1000.2L546.1 1002.9L546.6 1005.5L547.1 1008.1L547.6 1010.7L548.1 1013.3L548.6 1015.9L549.1 1018.5L549.6 1021.0L550.1 1023.5L550.6 1026.0L551.1 1028.5L551.6 1031.0L552.1 1033.4L552.6 1035.8L553.1 1038.1L553.6 1040.4L554.1 1042.7L554.6 1044.9L555.1 1047.1L555.6 1049.3L556.1 1051.4L556.6 1053.4L557.1 1055.4L557.6 1057.4L558.1 1059.3L558.6 1061.2L559.1 1063.0L559.6 1064.8L560.1 1066.6L560.6 1068.3L561.1 1069.9L561.6 1071.5L562.1 1073.0L562.6 1074.6L563.1 1076.0L563.6 1077.4L564.1 1078.8L564.6 1080.1L565.1 1081.4L565.6 1082.7L566.1 1083.9L566.6 1085.0L567.1 1086.1L567.6 1087.2L568.1 1088.3L568.6 1089.3L569.1 1090.2L569.6 1091.2L570.1 1092.1L570.6 1092.9L571.1 1093.8L571.6 1094.5L572.1 1095.3L572.6 1096.1L573.1 1096.8L573.6 1097.4L574.1 1098.1L574.6 1098.7L575.1 1099.3L575.6 1099.9L576.1 1100.4L576.6 1101.0L577.1 1101.5L577.6 1102.0L578.1 1102.4L578.6 1102.9L579.1 1103.3L579.6 1103.7L580.1 1104.1L580.6 1104.5L581.1 1104.8L581.6 1105.2L582.1 1105.5L582.6 1105.8L583.1 1106.1L583.6 1106.4L584.1 1106.7L584.6 1106.9L585.1 1107.2L585.6 1107.4L586.1 1107.7L586.6 1107.9L587.1 1108.1L587.6 1108.3L588.1 1108.5L588.6 1108.7L589.1 1108.9L589.6 1109.1L590.1 1109.2L590.6 1109.4L591.1 1109.5L591.6 1109.7L592.1 1109.8L592.6 1110.0L593.1 1110.1L593.6 1110.2L594.1 1110.4L594.6 1110.5L595.1 1110.6L595.6 1110.7L596.1 1110.8L596.6 1110.9L597.1 1111.0L597.6 1111.1L598.1 1111.2L598.6 1111.3L599.1 1111.4L599.6 1111.5L600.1 1111.6L600.6 1111.7L601.1 1111.7L601.6 1111.8L602.1 1111.9L602.6 1112.0L603.1 1112.0L603.6 1112.1L604.1 1112.2L604.6 1112.2L605.1 1112.3L605.6 1112.4L606.1 1112.4L606.6 1112.5L607.1 1112.5L607.6 1112.6L608.1 1112.6L608.6 1112.7L609.1 1112.7L609.6 1112.8L610.1 1112.8L610.6 1112.9L611.1 1112.9L611.6 1113.0L612.1 1113.0L612.6 1113.1L613.1 1113.1L613.6 1113.1L614.1 1113.2L614.6 1113.2L615.1 1113.3L615.6 1113.3L616.1 1113.3L616.6 1113.4L617.1 1113.4L617.6 1113.4L618.1 1113.5L618.6 1113.5L619.1 1113.5L619.6 1113.6L620.1 1113.6L620.6 1113.6L621.1 1113.6L621.6 1113.7L622.1 1113.7L622.6 1113.7L623.1 1113.7L623.6 1113.8L624.1 1113.8L624.6 1113.8L625.1 1113.8L625.6 1113.9L626.1 1113.9L626.6 1113.9L627.1 1113.9L627.6 1113.9L628.1 1114.0L628.6 1114.0L629.1 1114.0L629.6 1114.0L630.1 1114.0L630.6 1114.1L631.1 1114.1L631.6 1114.1L632.1 1114.1L632.6 1114.1L633.1 1114.1L633.6 1114.1L634.1 1114.2L634.6 1114.2L635.1 1114.2L635.6 1114.2L636.1 1114.2L636.6 1114.2L637.1 1114.2L637.6 1114.3L638.1 1114.3L638.6 1114.3L639.1 1114.3L639.6 1114.3L640.1 1114.3L640.6 1114.3L641.1 1114.3L641.6 1114.3L642.1 1114.3L642.6 1114.4L643.1 1114.4L643.6 1114.4L644.1 1114.4L644.6 1114.4L645.1 1114.4L645.6 1114.4L646.1 1114.4L646.6 1114.4L647.1 1114.4L647.6 1114.4L648.1 1114.4L648.6 1114.5L649.1 1114.5L649.6 1114.5L650.1 1114.5L650.6 1114.5L651.1 1114.5L651.6 1114.5L652.1 1114.5L652.6 1114.5L653.1 1114.5L653.6 1114.5L654.1 1114.5L654.6 1114.5L655.1 1114.5L655.6 1114.5L656.1 1114.5L656.6 1114.5L657.1 1114.5L657.6 1114.5L658.1 1114.6L658.6 1114.6L659.1 1114.6L659.6 1114.6L660.1 1114.6L660.6 1114.6L661.1 1114.6L661.6 1114.6L662.1 1114.6L662.6 1114.6L663.1 1114.6L663.6 1114.6L664.1 1114.6L664.6 1114.6L665.1 1114.6L665.6 1114.6L666.1 1114.6L666.6 1114.6L667.1 1114.6L667.6 1114.6L668.1 1114.6L668.6 1114.6L669.1 1114.6L669.6 1114.6L670.1 1114.6L670.6 1114.6L671.1 1114.6L671.6 1114.6L672.1 1114.6L672.6 1114.6L673.1 1114.6L673.6 1114.6L674.1 1114.6L674.6 1114.6L675.1 1114.6L675.6 1114.6L676.1 1114.6L676.6 1114.6L677.1 1114.6L677.6 1114.7L678.1 1114.7L678.6 1114.7L679.1 1114.7L679.6 1114.7L680.1 1114.7" fill="none" stroke="#9a22b0" stroke-width="1.6" stroke-linejoin="round" stroke-linecap="round" />
<path d="M370.1 1107.3L370.6 1107.3L371.1 1107.3L371.6 1108.0L372.1 1108.2L372.6 1108.7L373.1 1109.0L373.6 1108.4L374.1 1108.1L374.6 1107.9L375.1 1108.0L375.6 1108.6L376.1 1108.2L376.6 1108.4L377.1 1108.0L377.6 1107.7L378.1 1108.1L378.6 1108.3L379.1 1108.4L379.6 1108.5L380.1 1108.2L380.6 1108.8L381.1 1108.6L381.6 1108.7L382.1 1109.2L382.6 1109.7L383.1 1109.7L383.6 1109.9L384.1 1109.2L384.6 1109.2L385.1 1108.5L385.6 1109.3L386.1 1109.6L386.6 1109.9L387.1 1109.4L387.6 1109.3L388.1 1108.8L388.6 1109.1L389.1 1108.8L389.6 1109.3L390.1 1108.1L390.6 1108.1L391.1 1107.9L391.6 1108.1L392.1 1108.4L392.6 1108.7L393.1 1109.3L393.6 1108.9L394.1 1109.1L394.6 1109.7L395.1 1109.6L395.6 1109.2L396.1 1109.1L396.6 1109.2L397.1 1108.8L397.6 1108.3L398.1 1108.6L398.6 1108.5L399.1 1108.2L399.6 1108.4L400.1 1108.2L400.6 1108.3L401.1 1108.1L401.6 1108.3L402.1 1108.9L402.6 1109.3L403.1 1108.9L403.6 1109.7L404.1 1109.5L404.6 1109.6L405.1 1109.3L405.6 1109.8L406.1 1110.0L406.6 1109.9L407.1 1110.1L407.6 1110.4L408.1 1110.1L408.6 1110.6L409.1 1110.9L409.6 1111.4L410.1 1111.1L410.6 1111.1L411.1 1111.3L411.6 1111.3L412.1 1111.3L412.6 1110.9L413.1 1110.4L413.6 1110.3L414.1 1110.2L414.6 1110.2L415.1 1110.2L415.6 1110.0L416.1 1109.9L416.6 1109.9L417.1 1110.2L417.6 1110.1L418.1 1110.3L418.6 1110.5L419.1 1110.5L419.6 1110.4L420.1 1110.3L420.6 1110.3L421.1 1110.4L421.6 1110.3L422.1 1110.2L422.6 1109.8L423.1 1109.7L423.6 1109.8L424.1 1109.6L424.6 1109.6L425.1 1109.6L425.6 1109.5L426.1 1109.5L426.6 1109.5L427.1 1109.8L427.6 1109.7L428.1 1109.5L428.6 1109.7L429.1 1109.8L429.6 1109.7L430.1 1109.5L430.6 1109.3L431.1 1109.4L431.6 1109.3L432.1 1109.2L432.6 1109.0L433.1 1108.8L433.6 1108.8L434.1 1108.8L434.6 1108.8L435.1 1108.8L435.6 1108.6L436.1 1108.7L436.6 1108.7L437.1 1108.9L437.6 1109.0L438.1 1108.8L438.6 1108.9L439.1 1109.0L439.6 1109.0L440.1 1108.8L440.6 1108.6L441.1 1108.6L441.6 1108.5L442.1 1108.3L442.6 1108.3L443.1 1108.1L443.6 1107.9L444.1 1107.8L444.6 1108.0L445.1 1107.9L445.6 1107.9L446.1 1107.7L446.6 1107.7L447.1 1107.6L447.6 1107.5L448.1 1107.4L448.6 1107.4L449.1 1107.2L449.6 1107.3L450.1 1107.1L450.6 1107.1L451.1 1107.0L451.6 1106.9L452.1 1106.6L452.6 1106.6L453.1 1106.3L453.6 1106.0L454.1 1105.7L454.6 1105.7L455.1 1105.3L455.6 1105.2L456.1 1104.8L456.6 1105.0L457.1 1104.7L457.6 1104.9L458.1 1105.0L458.6 1104.8L459.1 1104.5L459.6 1104.3L460.1 1104.2L460.6 1104.1L461.1 1103.8L461.6 1103.6L462.1 1103.1L462.6 1102.6L463.1 1102.3L463.6 1102.0L464.1 1101.7L464.6 1101.3L465.1 1100.9L465.6 1100.4L466.1 1099.9L466.6 1099.5L467.1 1099.0L467.6 1098.5L468.1 1098.1L468.6 1097.7L469.1 1097.0L469.6 1096.5L470.1 1095.8L470.6 1095.4L471.1 1094.7L471.6 1094.2L472.1 1093.6L472.6 1092.8L473.1 1092.0L473.6 1091.2L474.1 1090.3L474.6 1089.5L475.1 1088.6L475.6 1087.8L476.1 1086.8L476.6 1085.8L477.1 1084.6L477.6 1083.5L478.1 1082.4L478.6 1081.1L479.1 1079.9L479.6 1078.5L480.1 1077.1L480.6 1075.7L481.1 1074.3L481.6 1072.9L482.1 1071.3L482.6 1070.2L483.1 1068.8L483.6 1067.3L484.1 1065.9L484.6 1064.5L485.1 1062.9L485.6 1061.3L486.1 1059.8L486.6 1058.3L487.1 1056.3L487.6 1054.6L488.1 1053.0L488.6 1051.4L489.1 1049.8L489.6 1048.2L490.1 1046.5L490.6 1044.9L491.1 1042.9L491.6 1041.2L492.1 1039.3L492.6 1037.2L493.1 1035.3L493.6 1033.3L494.1 1031.4L494.6 1029.7L495.1 1028.0L495.6 1026.5L496.1 1024.7L496.6 1023.1L497.1 1021.5L497.6 1019.9L498.1 1018.2L498.6 1016.7L499.1 1015.1L499.6 1013.1L500.1 1011.4L500.6 1009.7L501.1 1008.1L501.6 1006.4L502.1 1004.8L502.6 1003.2L503.1 1001.6L503.6 999.9L504.1 998.4L504.6 996.9L505.1 995.3L505.6 993.8L506.1 992.2L506.6 990.6L507.1 989.1L507.6 987.6L508.1 986.2L508.6 984.7L509.1 983.3L509.6 981.8L510.1 980.2L510.6 978.9L511.1 977.5L511.6 976.0L512.1 974.5L512.6 972.9L513.1 971.4L513.6 969.7L514.1 968.0L514.6 966.7L515.1 965.2L515.6 963.5L516.1 962.0L516.6 960.4L517.1 959.2L517.6 957.7L518.1 956.4L518.6 955.1L519.1 953.7L519.6 952.3L520.1 951.0L520.6 949.6L521.1 948.4L521.6 947.1L522.1 945.9L522.6 944.9L523.1 944.0L523.6 943.0L524.1 942.1L524.6 941.4L525.1 941.1L525.6 940.6L526.1 940.3L526.6 939.9L527.1 939.5L527.6 939.2L528.1 939.0L528.6 938.9L529.1 939.1L529.6 939.1L530.1 939.2L530.6 939.4L531.1 939.7L531.6 940.2L532.1 940.9L532.6 941.9L533.1 942.9L533.6 943.8L534.1 944.8L534.6 946.1L535.1 947.6L535.6 949.0L536.1 950.6L536.6 952.1L537.1 953.9L537.6 955.7L538.1 957.9L538.6 960.2L539.1 962.3L539.6 964.6L540.1 967.0L540.6 969.6L541.1 972.4L541.6 975.1L542.1 977.6L542.6 980.2L543.1 982.9L543.6 985.6L544.1 988.4L544.6 991.0L545.1 993.6L545.6 996.2L546.1 998.9L546.6 1001.9L547.1 1004.7L547.6 1007.5L548.1 1010.3L548.6 1012.9L549.1 1015.6L549.6 1018.3L550.1 1021.2L550.6 1023.7L551.1 1026.1L551.6 1028.5L552.1 1031.0L552.6 1033.3L553.1 1035.9L553.6 1038.3L554.1 1040.7L554.6 1042.7L555.1 1045.0L555.6 1047.4L556.1 1049.6L556.6 1051.6L557.1 1053.8L557.6 1055.6L558.1 1057.6L558.6 1059.5L559.1 1061.7L559.6 1063.5L560.1 1065.2L560.6 1066.8L561.1 1068.5L561.6 1070.0L562.1 1071.8L562.6 1073.5L563.1 1075.0L563.6 1076.3L564.1 1077.7L564.6 1079.3L565.1 1080.8L565.6 1082.1L566.1 1083.3L566.6 1084.5L567.1 1085.7L567.6 1086.7L568.1 1087.8L568.6 1088.9L569.1 1090.0L569.6 1091.0L570.1 1091.9L570.6 1093.0L571.1 1093.6L571.6 1094.1L572.1 1094.9L572.6 1095.6L573.1 1096.1L573.6 1096.7L574.1 1097.2L574.6 1097.8L575.1 1098.4L575.6 1099.2L576.1 1099.9L576.6 1100.4L577.1 1101.0L577.6 1101.7L578.1 1102.2L578.6 1102.7L579.1 1103.2L579.6 1103.6L580.1 1103.9L580.6 1104.2L581.1 1104.7L581.6 1105.0L582.1 1105.4L582.6 1105.6L583.1 1105.7L583.6 1105.8L584.1 1106.2L584.6 1106.5L585.1 1106.7L585.6 1107.0L586.1 1107.2L586.6 1107.2L587.1 1107.8L587.6 1108.2L588.1 1108.3L588.6 1108.4L589.1 1108.6L589.6 1108.9L590.1 1108.9L590.6 1109.2L591.1 1109.3L591.6 1109.5L592.1 1109.6L592.6 1109.8L593.1 1110.1L593.6 1110.3L594.1 1110.4L594.6 1110.7L595.1 1110.6L595.6 1110.6L596.1 1110.6L596.6 1110.7L597.1 1110.8L597.6 1110.8L598.1 1110.8L598.6 1110.7L599.1 1110.8L599.6 1111.0L600.1 1111.2L600.6 1111.5L601.1 1111.5L601.6 1111.7L602.1 1111.8L602.6 1112.1L603.1 1112.4L603.6 1112.4L604.1 1112.5L604.6 1112.7L605.1 1112.6L605.6 1112.5L606.1 1112.4L606.6 1112.6L607.1 1112.5L607.6 1112.7L608.1 1112.8L608.6 1112.9L609.1 1112.7L609.6 1112.7L610.1 1112.8L610.6 1112.9L611.1 1113.0L611.6 1113.1L612.1 1113.0L612.6 1113.1L613.1 1113.0L613.6 1113.3L614.1 1113.3L614.6 1113.3L615.1 1113.4L615.6 1113.3L616.1 1113.1L616.6 1113.3L617.1 1113.1L617.6 1113.3L618.1 1113.1L618.6 1113.3L619.1 1113.5L619.6 1113.5L620.1 1113.7L620.6 1113.8L621.1 1113.8L621.6 1114.0L622.1 1113.8L622.6 1113.9L623.1 1113.9L623.6 1113.8L624.1 1113.8L624.6 1113.5L625.1 1113.5L625.6 1113.6L626.1 1113.6L626.6 1113.8L627.1 1113.8L627.6 1113.8L628.1 1113.7L628.6 1113.7L629.1 1113.9L629.6 1114.0L630.1 1114.1L630.6 1114.0L631.1 1113.9L631.6 1114.0L632.1 1114.1L632.6 1114.1L633.1 1114.2L633.6 1114.3L634.1 1114.2L634.6 1114.2L635.1 1114.1L635.6 1114.3L636.1 1114.3L636.6 1114.4L637.1 1114.5L637.6 1114.4L638.1 1114.3L638.6 1114.5L639.1 1114.6L639.6 1114.8L640.1 1114.6L640.6 1114.6L641.1 1114.7L641.6 1114.6L642.1 1114.8L642.6 1114.7L643.1 1114.6L643.6 1114.6L644.1 1114.5L644.6 1114.6L645.1 1114.6L645.6 1114.5L646.1 1114.6L646.6 1114.4L647.1 1114.5L647.6 1114.6L648.1 1114.5L648.6 1114.3L649.1 1114.4L649.6 1114.3L650.1 1114.3L650.6 1114.3L651.1 1114.4L651.6 1114.3L652.1 1114.3L652.6 1114.3L653.1 1114.4L653.6 1114.1L654.1 1114.0L654.6 1114.2L655.1 1114.3L655.6 1114.3L656.1 1114.3L656.6 1114.4L657.1 1114.4L657.6 1114.6L658.1 1115.0L658.6 1115.2L659.1 1115.0L659.6 1114.9L660.1 1114.9L660.6 1114.9L661.1 1114.9L661.6 1114.8L662.1 1114.9L662.6 1114.7L663.1 1114.7L663.6 1114.6L664.1 1114.7L664.6 1114.7L665.1 1114.9L665.6 1114.8L666.1 1114.7L666.6 1114.4L667.1 1114.5L667.6 1114.5L668.1 1114.7L668.6 1114.5L669.1 1114.6L669.6 1114.5L670.1 1114.5L670.6 1114.8L671.1 1114.9L671.6 1114.7L672.1 1114.9L672.6 1114.7L673.1 1114.7L673.6 1114.7L674.1 1114.6L674.6 1114.6L675.1 1114.5L675.6 1114.5L676.1 1114.6L676.6 1114.4L677.1 1114.4L677.6 1114.5L678.1 1114.6L678.6 1114.6L679.1 1114.6L679.6 1114.5L680.1 1114.6" fill="none" stroke="#111111" stroke-width="2.0" stroke-linejoin="round" stroke-linecap="round" />
<text x="513.41" y="930.40" font-family="Liberation Sans" font-weight="bold" font-size="14.30" textLength="28.85" lengthAdjust="spacingAndGlyphs" fill="#141414" >S 2p</text>
<text x="556.89" y="961.30" font-family="Liberation Sans" font-weight="bold" font-size="14.30" textLength="53.27" lengthAdjust="spacingAndGlyphs" fill="#141414" >S 2p 3/2</text>
<text x="546.39" y="979.10" font-family="Liberation Sans" font-weight="bold" font-size="14.30" textLength="74.83" lengthAdjust="spacingAndGlyphs" fill="#141414" >(161.16 eV)</text>
<text x="418.90" y="1040.10" font-family="Liberation Sans" font-weight="bold" font-size="14.30" textLength="52.66" lengthAdjust="spacingAndGlyphs" fill="#141414" >S 2p 1/2</text>
<text x="408.39" y="1058.90" font-family="Liberation Sans" font-weight="bold" font-size="14.30" textLength="74.62" lengthAdjust="spacingAndGlyphs" fill="#141414" >(162.38 eV)</text>
</svg></body></html>
